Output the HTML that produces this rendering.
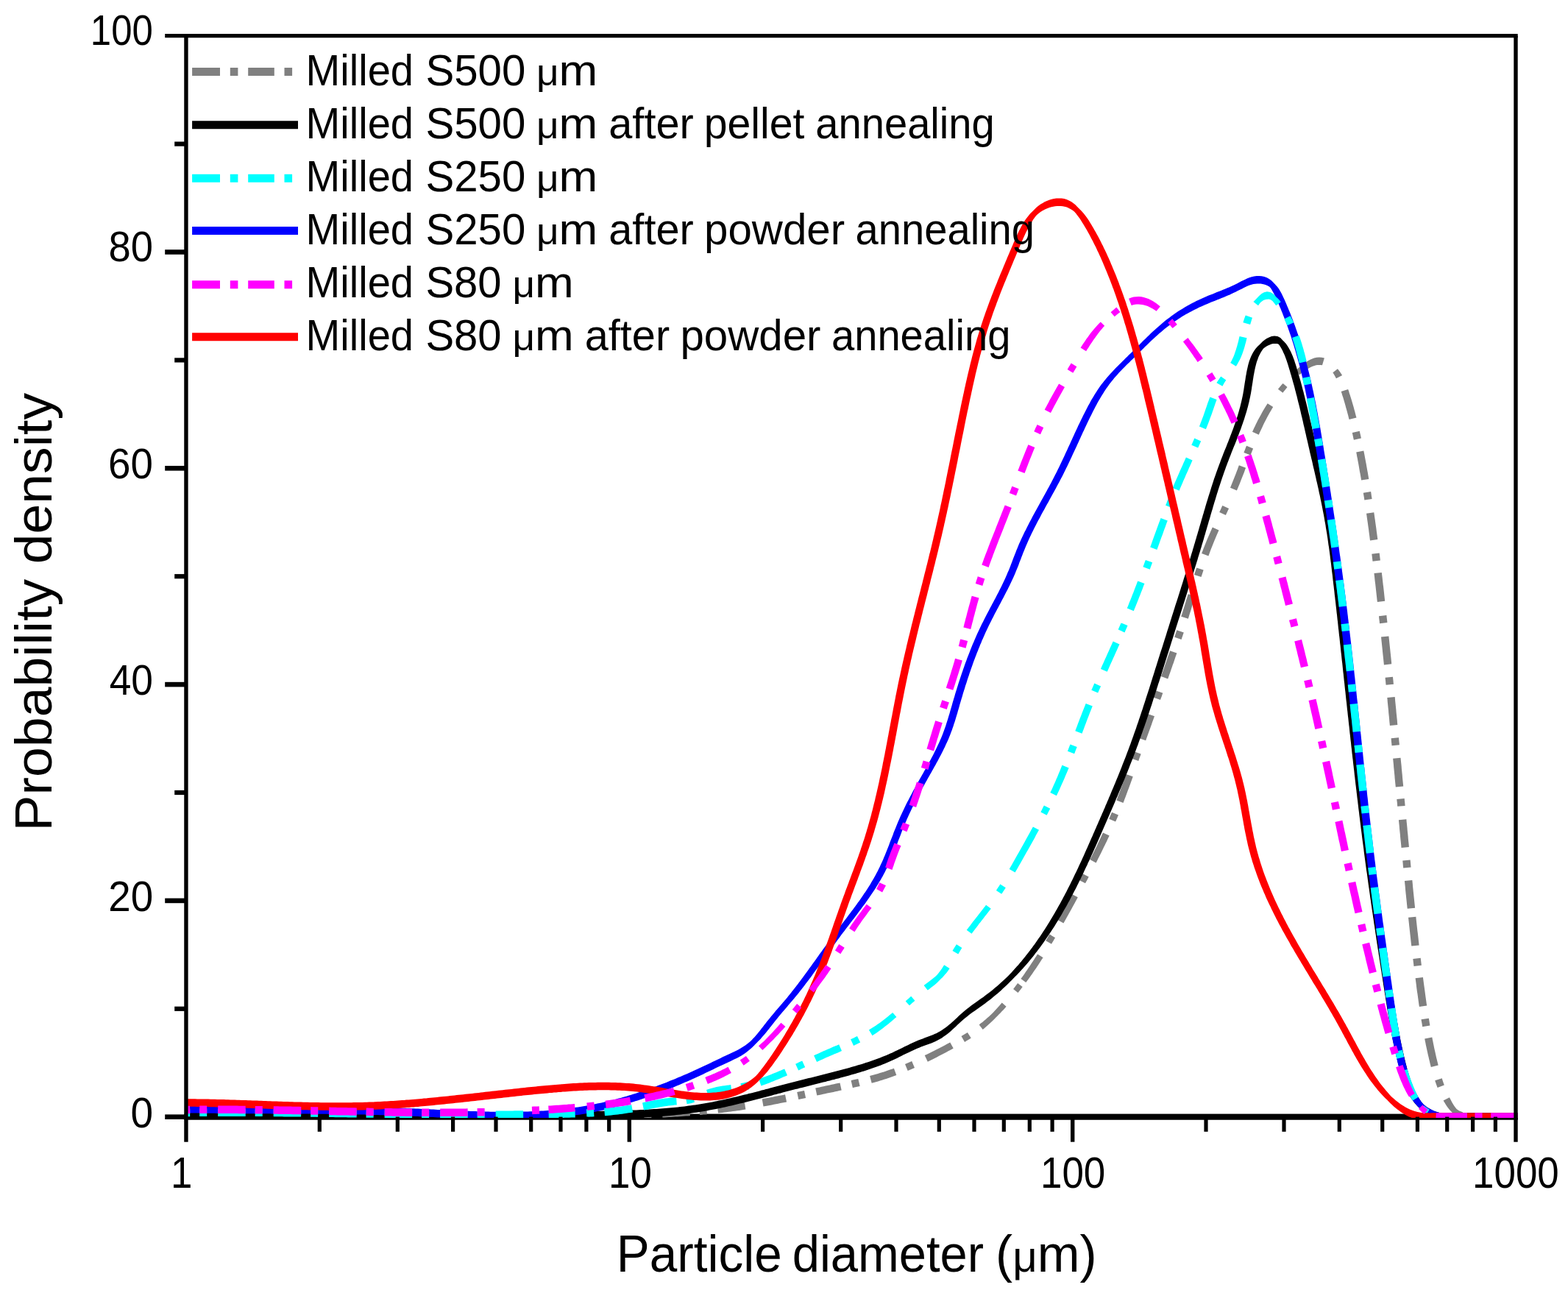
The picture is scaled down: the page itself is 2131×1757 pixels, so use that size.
<!DOCTYPE html>
<html lang="en">
<head>
<meta charset="utf-8">
<title>Particle size distribution</title>
<style>
html,body{margin:0;padding:0;background:#fff;}
body{width:2131px;height:1757px;overflow:hidden;}
svg{display:block;}
text{font-family:"Liberation Sans",Arial,Helvetica,sans-serif;fill:#000;}
.leg{font-size:58.6px;}
.tkx{font-size:58.8px;}
.tky{font-size:57.6px;}
.ttl{font-size:71.0px;}
</style>
</head>
<body>
<svg xmlns="http://www.w3.org/2000/svg" width="2131" height="1757" viewBox="0 0 2131 1757">
<rect width="2131" height="1757" fill="#ffffff"/>
<defs><clipPath id="plotclip"><rect x="250.3" y="46.0" width="1812.2" height="1473.0"/></clipPath></defs>
<rect x="250.25" y="1513.6" width="1812.45" height="7.9" fill="#000"/>
<g clip-path="url(#plotclip)">
<path d="M253.0 1522.3L255.6 1522.2L258.2 1522.2L258.2 1511.7L255.6 1511.7L253.0 1511.8ZM271.2 1522.2L273.7 1522.2L276.2 1522.2L278.7 1522.1L281.2 1522.1L281.2 1511.6L278.7 1511.6L276.2 1511.7L273.7 1511.7L271.2 1511.7ZM296.2 1522.1L299.1 1522.1L302.0 1522.1L304.9 1522.1L307.7 1522.1L310.6 1522.1L313.5 1522.1L316.4 1522.1L319.3 1522.1L322.2 1522.0L325.1 1522.0L327.9 1522.0L330.8 1522.0L333.7 1522.0L333.7 1511.5L330.8 1511.5L327.9 1511.5L325.0 1511.5L322.2 1511.5L319.3 1511.6L316.4 1511.6L313.5 1511.6L310.6 1511.6L307.7 1511.6L304.8 1511.6L302.0 1511.6L299.1 1511.6L296.2 1511.6ZM346.7 1522.0L349.2 1522.0L351.7 1522.0L354.2 1522.0L356.7 1522.0L356.7 1511.5L354.2 1511.5L351.7 1511.5L349.2 1511.5L346.7 1511.5ZM371.7 1522.0L374.6 1522.0L377.5 1522.0L380.3 1522.0L383.2 1522.0L386.1 1522.1L389.0 1522.1L391.9 1522.1L394.8 1522.1L397.7 1522.1L400.5 1522.1L403.4 1522.1L406.3 1522.1L409.2 1522.1L409.2 1511.6L406.3 1511.6L403.4 1511.6L400.6 1511.6L397.7 1511.6L394.8 1511.6L391.9 1511.6L389.0 1511.6L386.1 1511.6L383.2 1511.5L380.4 1511.5L377.5 1511.5L374.6 1511.5L371.7 1511.5ZM422.2 1522.1L424.7 1522.1L427.2 1522.1L429.7 1522.1L432.2 1522.1L432.2 1511.6L429.7 1511.6L427.2 1511.6L424.7 1511.6L422.2 1511.6ZM447.2 1522.2L450.1 1522.2L453.0 1522.2L455.8 1522.2L458.7 1522.2L461.6 1522.2L464.5 1522.2L467.4 1522.2L470.3 1522.2L473.1 1522.2L476.0 1522.2L478.9 1522.2L481.8 1522.2L484.7 1522.3L484.7 1511.8L481.8 1511.7L478.9 1511.7L476.1 1511.7L473.2 1511.7L470.3 1511.7L467.4 1511.7L464.5 1511.7L461.6 1511.7L458.8 1511.7L455.9 1511.7L453.0 1511.7L450.1 1511.7L447.2 1511.7ZM497.7 1522.3L500.2 1522.3L502.7 1522.3L505.2 1522.3L507.7 1522.3L507.7 1511.8L505.2 1511.8L502.7 1511.8L500.2 1511.8L497.7 1511.8ZM522.7 1522.3L525.6 1522.3L528.5 1522.4L531.3 1522.4L534.2 1522.4L537.1 1522.4L540.0 1522.4L542.9 1522.4L545.8 1522.4L548.7 1522.4L551.5 1522.4L554.4 1522.4L557.3 1522.4L560.2 1522.4L560.2 1511.9L557.3 1511.9L554.4 1511.9L551.6 1511.9L548.7 1511.9L545.8 1511.9L542.9 1511.9L540.0 1511.9L537.1 1511.9L534.2 1511.9L531.4 1511.9L528.5 1511.9L525.6 1511.8L522.7 1511.8ZM573.2 1522.4L575.7 1522.4L578.2 1522.4L580.7 1522.4L583.2 1522.4L583.2 1511.9L580.7 1511.9L578.2 1511.9L575.7 1511.9L573.2 1511.9ZM598.2 1522.4L601.1 1522.5L604.0 1522.5L606.9 1522.5L609.7 1522.5L612.6 1522.5L615.5 1522.5L618.4 1522.5L621.3 1522.5L624.2 1522.4L627.0 1522.4L629.9 1522.4L632.8 1522.4L635.7 1522.4L635.7 1511.9L632.8 1511.9L629.9 1511.9L627.0 1511.9L624.2 1511.9L621.3 1512.0L618.4 1512.0L615.5 1512.0L612.6 1512.0L609.7 1512.0L606.9 1512.0L604.0 1512.0L601.1 1512.0L598.2 1511.9ZM648.7 1522.4L651.2 1522.4L653.7 1522.4L656.2 1522.4L658.7 1522.4L658.7 1511.9L656.2 1511.9L653.7 1511.9L651.2 1511.9L648.7 1511.9ZM673.7 1522.4L676.6 1522.4L679.5 1522.3L682.4 1522.3L685.3 1522.3L688.1 1522.3L691.0 1522.3L693.9 1522.3L696.8 1522.3L699.7 1522.3L702.6 1522.3L705.5 1522.2L708.3 1522.2L711.2 1522.2L711.2 1511.7L708.3 1511.7L705.4 1511.7L702.5 1511.8L699.6 1511.8L696.8 1511.8L693.9 1511.8L691.0 1511.8L688.1 1511.8L685.2 1511.8L682.3 1511.8L679.5 1511.8L676.6 1511.9L673.7 1511.9ZM724.2 1522.1L726.7 1522.1L729.2 1522.1L731.7 1522.1L734.2 1522.1L734.2 1511.6L731.7 1511.6L729.2 1511.6L726.7 1511.6L724.2 1511.6ZM749.2 1522.0L752.1 1521.9L755.0 1521.9L757.9 1521.9L760.8 1521.9L763.7 1521.8L766.6 1521.8L769.4 1521.8L772.3 1521.8L775.2 1521.7L778.1 1521.7L781.0 1521.7L783.9 1521.6L786.8 1521.6L786.6 1511.1L783.8 1511.1L780.9 1511.2L778.0 1511.2L775.1 1511.2L772.2 1511.3L769.3 1511.3L766.5 1511.3L763.6 1511.3L760.7 1511.4L757.8 1511.4L754.9 1511.4L752.0 1511.4L749.2 1511.5ZM799.8 1521.5L802.3 1521.4L804.8 1521.4L807.3 1521.4L809.8 1521.3L809.6 1510.8L807.1 1510.9L804.6 1510.9L802.1 1510.9L799.6 1511.0ZM824.8 1521.1L827.7 1521.0L830.6 1521.0L833.5 1520.9L836.3 1520.9L839.2 1520.8L842.1 1520.7L845.0 1520.7L847.9 1520.6L850.8 1520.5L853.7 1520.4L856.6 1520.4L859.5 1520.3L862.3 1520.2L862.0 1509.7L859.1 1509.8L856.3 1509.9L853.4 1509.9L850.5 1510.0L847.6 1510.1L844.8 1510.2L841.9 1510.2L839.0 1510.3L836.1 1510.4L833.2 1510.4L830.4 1510.5L827.5 1510.5L824.6 1510.6ZM875.4 1519.7L877.9 1519.6L880.4 1519.5L882.9 1519.4L885.4 1519.3L884.9 1508.8L882.5 1509.0L880.0 1509.1L877.5 1509.2L875.0 1509.2ZM900.4 1518.6L903.3 1518.5L906.2 1518.3L909.1 1518.1L912.0 1518.0L914.9 1517.8L917.8 1517.6L920.6 1517.4L923.5 1517.2L926.4 1517.1L929.3 1516.8L932.2 1516.6L935.1 1516.4L938.0 1516.2L937.2 1505.8L934.3 1506.0L931.4 1506.2L928.6 1506.4L925.7 1506.6L922.8 1506.8L920.0 1507.0L917.1 1507.2L914.2 1507.3L911.4 1507.5L908.5 1507.7L905.6 1507.8L902.8 1508.0L899.9 1508.1ZM951.0 1515.1L953.5 1514.9L956.0 1514.6L958.5 1514.4L961.0 1514.2L960.0 1503.8L957.5 1504.0L955.0 1504.2L952.5 1504.5L950.1 1504.7ZM976.0 1512.6L978.9 1512.2L981.7 1511.9L984.6 1511.6L987.5 1511.2L990.4 1510.8L993.3 1510.5L996.1 1510.1L999.0 1509.7L1001.9 1509.3L1004.7 1508.9L1007.6 1508.5L1010.5 1508.0L1013.4 1507.6L1011.8 1497.3L1008.9 1497.8L1006.1 1498.2L1003.3 1498.6L1000.4 1499.0L997.6 1499.4L994.8 1499.8L991.9 1500.1L989.1 1500.5L986.2 1500.9L983.4 1501.2L980.5 1501.5L977.7 1501.9L974.8 1502.2ZM1037.5 1503.5L1040.4 1503.0L1043.3 1502.5L1046.2 1501.9L1049.0 1501.4L1051.9 1500.8L1054.8 1500.3L1057.6 1499.7L1060.5 1499.1L1063.4 1498.5L1066.2 1498.0L1069.1 1497.4L1067.0 1487.3L1064.2 1487.9L1061.3 1488.5L1058.5 1489.0L1055.6 1489.6L1052.8 1490.1L1049.9 1490.7L1047.1 1491.2L1044.2 1491.8L1041.4 1492.3L1038.5 1492.8L1035.7 1493.4ZM1085.3 1494.0L1087.8 1493.5L1090.2 1492.9L1092.7 1492.4L1095.1 1491.9L1093.0 1481.9L1090.5 1482.4L1088.1 1482.9L1085.6 1483.4L1083.2 1483.9ZM1110.3 1488.6L1113.1 1488.0L1115.9 1487.4L1118.7 1486.8L1121.4 1486.2L1124.2 1485.6L1127.0 1485.0L1129.8 1484.5L1132.5 1483.9L1135.3 1483.3L1138.1 1482.7L1140.9 1482.1L1143.7 1481.5L1141.5 1471.5L1138.7 1472.1L1136.0 1472.6L1133.2 1473.2L1130.4 1473.8L1127.6 1474.4L1124.9 1475.0L1122.1 1475.6L1119.3 1476.2L1116.5 1476.8L1113.7 1477.4L1111.0 1478.0L1108.2 1478.6ZM1158.9 1478.2L1161.3 1477.6L1163.8 1477.0L1166.2 1476.5L1168.7 1475.9L1166.3 1465.9L1163.9 1466.5L1161.5 1467.1L1159.0 1467.6L1156.6 1468.2ZM1184.7 1471.8L1187.6 1471.0L1190.4 1470.2L1193.2 1469.4L1196.0 1468.5L1198.8 1467.7L1201.6 1466.8L1204.4 1465.9L1207.2 1464.9L1210.0 1464.0L1212.8 1463.0L1215.5 1462.0L1218.3 1461.0L1214.9 1451.7L1212.2 1452.7L1209.5 1453.6L1206.8 1454.6L1204.1 1455.5L1201.4 1456.4L1198.6 1457.2L1195.9 1458.1L1193.1 1458.9L1190.4 1459.7L1187.6 1460.5L1184.9 1461.2L1182.1 1462.0ZM1233.7 1454.9L1236.1 1453.9L1238.4 1452.9L1240.7 1451.9L1243.0 1450.9L1239.2 1442.1L1236.9 1443.1L1234.6 1444.0L1232.3 1445.0L1230.0 1445.9ZM1260.8 1442.7L1263.3 1441.4L1265.9 1440.2L1268.4 1438.9L1270.9 1437.7L1273.4 1436.4L1275.9 1435.1L1278.4 1433.8L1280.9 1432.5L1283.3 1431.2L1285.8 1429.9L1288.3 1428.6L1290.8 1427.3L1293.2 1425.9L1295.7 1424.6L1291.3 1416.5L1288.8 1417.8L1286.4 1419.1L1283.9 1420.4L1281.5 1421.7L1279.0 1423.0L1276.6 1424.3L1274.1 1425.5L1271.6 1426.8L1269.2 1428.0L1266.7 1429.3L1264.2 1430.5L1261.7 1431.7L1259.2 1432.9L1256.7 1434.1ZM1311.1 1415.9L1313.2 1414.5L1315.4 1413.2L1317.6 1411.9L1319.7 1410.5L1314.9 1403.0L1312.8 1404.3L1310.7 1405.6L1308.6 1406.8L1306.5 1408.1ZM1335.7 1398.9L1338.1 1397.0L1340.3 1395.1L1342.6 1393.1L1344.8 1391.1L1347.0 1389.0L1349.1 1387.0L1351.2 1384.9L1353.3 1382.8L1355.4 1380.7L1357.5 1378.6L1359.6 1376.5L1361.6 1374.3L1363.7 1372.2L1365.7 1370.0L1367.6 1367.8L1361.7 1362.6L1359.8 1364.8L1357.9 1367.0L1356.0 1369.1L1354.0 1371.2L1352.1 1373.3L1350.1 1375.4L1348.1 1377.5L1346.0 1379.5L1343.9 1381.4L1341.7 1383.3L1339.6 1385.2L1337.4 1387.1L1335.2 1388.9L1332.9 1390.6L1330.7 1392.4ZM1383.5 1349.0L1385.1 1347.1L1386.7 1345.1L1388.2 1343.1L1389.7 1341.1L1383.1 1336.0L1381.6 1338.0L1380.1 1340.0L1378.6 1342.0L1377.1 1343.9ZM1394.3 1335.1L1396.0 1332.7L1397.7 1330.4L1399.5 1328.0L1401.2 1325.6L1402.9 1323.2L1404.5 1320.7L1406.2 1318.3L1407.9 1315.9L1409.5 1313.5L1411.2 1311.0L1412.8 1308.6L1414.4 1306.1L1416.0 1303.6L1417.6 1301.2L1410.1 1296.4L1408.5 1298.9L1407.0 1301.3L1405.4 1303.8L1403.8 1306.2L1402.2 1308.6L1400.6 1311.0L1399.0 1313.4L1397.4 1315.8L1395.8 1318.2L1394.1 1320.6L1392.5 1323.0L1390.8 1325.4L1389.1 1327.7L1387.4 1330.1ZM1429.0 1282.8L1430.3 1280.6L1431.6 1278.5L1432.8 1276.3L1434.1 1274.2L1426.3 1269.6L1425.0 1271.7L1423.8 1273.9L1422.5 1276.0L1421.2 1278.2ZM1445.4 1254.5L1446.8 1252.0L1448.2 1249.5L1449.6 1247.0L1451.0 1244.5L1452.4 1242.0L1453.8 1239.5L1455.2 1237.0L1456.6 1234.4L1457.9 1231.9L1459.3 1229.4L1460.7 1226.9L1462.0 1224.4L1463.4 1221.9L1464.8 1219.3L1456.7 1214.9L1455.3 1217.5L1453.9 1220.0L1452.6 1222.5L1451.2 1225.0L1449.8 1227.5L1448.5 1230.0L1447.1 1232.5L1445.7 1235.0L1444.3 1237.6L1443.0 1240.1L1441.6 1242.6L1440.2 1245.1L1438.8 1247.6L1437.4 1250.1ZM1475.0 1200.3L1476.2 1198.1L1477.4 1195.9L1478.5 1193.7L1479.7 1191.5L1471.5 1187.2L1470.3 1189.4L1469.2 1191.6L1468.0 1193.8L1466.8 1196.0ZM1489.6 1172.4L1491.0 1169.7L1492.3 1167.1L1493.6 1164.5L1494.9 1161.9L1496.3 1159.3L1497.6 1156.6L1498.8 1154.0L1500.1 1151.3L1501.4 1148.7L1502.7 1146.1L1504.0 1143.4L1505.2 1140.7L1506.5 1138.1L1507.7 1135.4L1499.0 1131.4L1497.8 1134.1L1496.6 1136.7L1495.4 1139.3L1494.1 1142.0L1492.9 1144.6L1491.6 1147.2L1490.4 1149.9L1489.1 1152.5L1487.8 1155.1L1486.5 1157.7L1485.2 1160.3L1483.9 1162.9L1482.6 1165.5L1481.3 1168.1ZM1516.1 1116.6L1517.1 1114.3L1518.1 1112.0L1519.0 1109.7L1520.0 1107.4L1511.0 1103.7L1510.1 1106.0L1509.1 1108.3L1508.2 1110.6L1507.2 1112.8ZM1526.5 1091.0L1527.6 1088.3L1528.6 1085.6L1529.7 1082.8L1530.7 1080.1L1531.7 1077.3L1532.7 1074.6L1533.8 1071.8L1534.8 1069.0L1535.8 1066.3L1536.8 1063.5L1537.8 1060.8L1538.8 1058.0L1539.7 1055.3L1530.4 1051.9L1529.4 1054.7L1528.5 1057.4L1527.5 1060.2L1526.5 1062.9L1525.5 1065.7L1524.5 1068.4L1523.5 1071.1L1522.5 1073.9L1521.5 1076.6L1520.5 1079.3L1519.4 1082.1L1518.4 1084.8L1517.4 1087.5ZM1547.3 1034.0L1548.1 1031.6L1548.9 1029.3L1549.8 1026.9L1550.6 1024.6L1541.3 1021.3L1540.4 1023.6L1539.6 1026.0L1538.8 1028.3L1537.9 1030.7ZM1557.2 1006.2L1558.1 1003.5L1559.1 1000.7L1560.1 998.0L1561.1 995.2L1562.1 992.5L1563.1 989.7L1564.1 987.0L1565.1 984.2L1566.0 981.5L1567.0 978.7L1568.0 976.0L1569.0 973.3L1559.7 969.9L1558.7 972.7L1557.7 975.4L1556.8 978.1L1555.8 980.9L1554.8 983.6L1553.8 986.4L1552.8 989.1L1551.8 991.9L1550.8 994.6L1549.8 997.4L1548.8 1000.1L1547.9 1002.9ZM1577.0 951.1L1577.8 948.8L1578.7 946.4L1579.5 944.1L1580.4 941.7L1571.0 938.4L1570.2 940.7L1569.4 943.1L1568.5 945.5L1567.7 947.8ZM1587.2 922.4L1588.2 919.7L1589.1 917.0L1590.1 914.3L1591.0 911.7L1591.9 909.0L1592.9 906.3L1593.8 903.6L1594.8 900.9L1595.7 898.2L1596.6 895.5L1597.5 892.8L1598.5 890.1L1599.4 887.4L1590.0 884.2L1589.1 886.9L1588.2 889.6L1587.2 892.3L1586.3 895.0L1585.4 897.6L1584.5 900.3L1583.5 903.0L1582.6 905.7L1581.7 908.4L1580.7 911.1L1579.8 913.7L1578.8 916.4L1577.9 919.1ZM1605.6 868.9L1606.4 866.5L1607.2 864.2L1608.0 861.8L1608.8 859.4L1599.3 856.3L1598.5 858.7L1597.7 861.0L1597.0 863.4L1596.2 865.8ZM1614.8 840.8L1615.7 838.0L1616.5 835.3L1617.4 832.5L1618.3 829.7L1619.1 826.9L1620.0 824.1L1620.9 821.3L1621.7 818.6L1622.6 815.8L1623.4 813.0L1624.3 810.2L1614.7 807.3L1613.9 810.0L1613.0 812.8L1612.1 815.6L1611.3 818.4L1610.4 821.2L1609.6 823.9L1608.7 826.7L1607.8 829.5L1607.0 832.3L1606.1 835.0L1605.2 837.8ZM1632.5 784.1L1633.3 781.7L1634.1 779.3L1634.9 777.0L1635.6 774.6L1626.2 771.4L1625.4 773.8L1624.6 776.2L1623.8 778.6L1623.0 781.0ZM1642.4 755.4L1643.4 752.7L1644.4 750.0L1645.4 747.3L1646.5 744.6L1647.5 741.9L1648.6 739.2L1649.7 736.5L1650.8 733.8L1651.9 731.2L1653.0 728.5L1654.2 725.8L1655.3 723.2L1656.5 720.5L1647.8 716.6L1646.6 719.3L1645.4 722.0L1644.2 724.7L1643.0 727.4L1641.9 730.1L1640.7 732.8L1639.6 735.5L1638.5 738.3L1637.4 741.0L1636.3 743.7L1635.2 746.5L1634.2 749.2L1633.1 752.0ZM1665.9 700.0L1666.9 697.7L1668.0 695.5L1669.0 693.2L1670.1 690.9L1661.4 686.9L1660.3 689.2L1659.3 691.5L1658.3 693.7L1657.2 696.0ZM1680.9 666.6L1682.1 663.8L1683.2 661.0L1684.4 658.2L1685.5 655.4L1686.6 652.6L1687.7 649.8L1688.8 647.0L1689.9 644.2L1691.0 641.4L1692.0 638.6L1693.1 635.8L1683.9 632.3L1682.8 635.1L1681.8 637.9L1680.7 640.7L1679.7 643.5L1678.6 646.3L1677.5 649.0L1676.4 651.8L1675.3 654.6L1674.2 657.3L1673.1 660.1L1672.0 662.8ZM1699.6 618.6L1700.4 616.3L1701.3 614.0L1702.2 611.7L1703.1 609.4L1694.1 605.8L1693.1 608.1L1692.2 610.4L1691.3 612.8L1690.4 615.1ZM1710.8 590.7L1711.9 588.1L1713.1 585.5L1714.3 583.0L1715.5 580.4L1716.7 577.8L1717.9 575.3L1719.2 572.8L1720.5 570.3L1721.8 567.8L1723.1 565.3L1724.5 562.8L1725.9 560.3L1727.3 557.9L1728.7 555.5L1730.2 553.1L1722.7 548.3L1721.1 550.8L1719.5 553.3L1718.0 555.8L1716.5 558.3L1715.1 560.8L1713.7 563.4L1712.3 565.9L1710.9 568.5L1709.5 571.1L1708.2 573.7L1706.9 576.3L1705.7 578.9L1704.4 581.5L1703.2 584.2L1702.0 586.8ZM1743.4 533.8L1744.9 531.8L1746.4 529.9L1748.0 528.0L1749.5 526.1L1743.6 520.9L1741.9 522.8L1740.2 524.8L1738.6 526.7L1736.9 528.7ZM1766.2 509.4L1768.3 507.6L1770.5 505.9L1772.6 504.3L1774.9 502.7L1777.1 501.2L1779.4 499.9L1781.7 498.7L1784.0 497.7L1786.3 496.9L1788.6 496.3L1790.8 496.0L1792.9 495.9L1795.0 496.0L1797.0 496.3L1799.9 486.6L1796.4 485.7L1792.8 485.4L1789.3 485.7L1786.0 486.5L1782.9 487.7L1780.0 489.1L1777.3 490.6L1774.7 492.3L1772.2 494.1L1769.8 495.9L1767.5 497.7L1765.3 499.6L1763.1 501.5L1761.0 503.5ZM1811.4 506.3L1812.6 508.2L1813.8 510.2L1814.9 512.2L1815.9 514.3L1824.1 510.0L1822.7 507.7L1821.2 505.4L1819.6 503.3L1817.9 501.2ZM1822.7 532.0L1823.6 534.7L1824.4 537.4L1825.3 540.1L1826.1 542.8L1826.9 545.5L1827.7 548.2L1828.5 551.0L1829.2 553.7L1830.0 556.4L1830.7 559.1L1831.5 561.9L1832.2 564.6L1832.9 567.4L1833.6 570.1L1843.5 567.6L1842.7 564.8L1842.0 562.1L1841.3 559.3L1840.5 556.5L1839.8 553.7L1839.0 550.9L1838.2 548.2L1837.4 545.4L1836.5 542.6L1835.7 539.9L1834.8 537.1L1833.9 534.4L1833.1 531.6L1832.1 528.9ZM1837.8 588.0L1838.3 590.4L1838.8 592.8L1839.3 595.3L1839.9 597.7L1849.9 595.6L1849.4 593.1L1848.9 590.7L1848.3 588.2L1847.8 585.8ZM1843.2 614.6L1843.8 617.5L1844.3 620.4L1844.9 623.3L1845.4 626.2L1846.0 629.2L1846.5 632.1L1847.0 635.0L1847.5 637.9L1848.0 640.9L1848.6 643.8L1849.1 646.7L1849.6 649.6L1850.0 652.6L1860.3 650.9L1859.8 647.9L1859.3 645.0L1858.8 642.0L1858.2 639.1L1857.7 636.1L1857.2 633.2L1856.7 630.2L1856.1 627.3L1855.6 624.4L1855.0 621.4L1854.5 618.5L1853.9 615.5L1853.3 612.6ZM1852.8 669.7L1853.2 672.2L1853.6 674.6L1854.0 677.1L1854.3 679.6L1864.6 678.0L1864.2 675.5L1863.8 673.0L1863.5 670.6L1863.1 668.1ZM1857.0 697.8L1857.4 700.6L1857.8 703.4L1858.2 706.2L1858.6 709.0L1859.0 711.8L1859.4 714.7L1859.8 717.5L1860.2 720.3L1860.5 723.1L1860.9 725.9L1861.3 728.7L1861.6 731.6L1862.0 734.4L1872.3 733.1L1872.0 730.2L1871.6 727.4L1871.2 724.6L1870.8 721.7L1870.5 718.9L1870.1 716.1L1869.7 713.3L1869.3 710.4L1868.9 707.6L1868.5 704.8L1868.1 702.0L1867.7 699.1L1867.3 696.3ZM1864.3 752.8L1864.6 755.2L1864.9 757.7L1865.2 760.2L1865.5 762.7L1875.9 761.4L1875.6 758.9L1875.3 756.5L1875.0 754.0L1874.7 751.5ZM1867.5 779.1L1867.8 781.9L1868.1 784.6L1868.4 787.4L1868.7 790.2L1869.1 792.9L1869.4 795.7L1869.7 798.5L1870.0 801.2L1870.3 804.0L1870.6 806.8L1870.9 809.6L1871.2 812.3L1871.5 815.1L1871.9 817.9L1882.2 816.7L1881.9 813.9L1881.6 811.2L1881.3 808.4L1881.0 805.6L1880.7 802.8L1880.4 800.1L1880.1 797.3L1879.7 794.5L1879.4 791.7L1879.1 789.0L1878.8 786.2L1878.5 783.4L1878.1 780.6L1877.8 777.9ZM1874.0 837.3L1874.2 839.8L1874.5 842.2L1874.8 844.7L1875.0 847.2L1885.4 846.1L1885.2 843.6L1884.9 841.1L1884.6 838.6L1884.4 836.1ZM1877.0 865.6L1877.3 868.5L1877.6 871.4L1877.9 874.3L1878.2 877.2L1878.5 880.1L1878.8 883.0L1879.1 885.9L1879.4 888.9L1879.7 891.8L1880.0 894.7L1880.3 897.6L1880.6 900.5L1880.9 903.4L1891.2 902.3L1891.0 899.4L1890.7 896.5L1890.4 893.6L1890.1 890.7L1889.8 887.8L1889.5 884.9L1889.2 882.0L1888.9 879.1L1888.6 876.2L1888.3 873.2L1888.0 870.3L1887.7 867.4L1887.4 864.5ZM1882.6 920.8L1882.8 923.3L1883.1 925.8L1883.3 928.2L1883.6 930.7L1894.0 929.7L1893.7 927.2L1893.5 924.7L1893.2 922.2L1893.0 919.8ZM1885.3 948.1L1885.6 951.0L1885.8 953.9L1886.1 956.8L1886.4 959.7L1886.7 962.7L1887.0 965.6L1887.2 968.5L1887.5 971.4L1887.8 974.3L1888.1 977.2L1888.3 980.1L1888.6 983.0L1888.9 985.9L1899.3 984.9L1899.0 982.0L1898.8 979.1L1898.5 976.2L1898.2 973.3L1897.9 970.4L1897.6 967.5L1897.4 964.6L1897.1 961.7L1896.8 958.7L1896.5 955.8L1896.2 952.9L1896.0 950.0L1895.7 947.1ZM1890.6 1003.3L1890.8 1005.8L1891.0 1008.3L1891.3 1010.8L1891.5 1013.3L1901.9 1012.3L1901.7 1009.8L1901.4 1007.3L1901.2 1004.8L1901.0 1002.3ZM1893.1 1030.7L1893.4 1033.6L1893.7 1036.6L1894.0 1039.6L1894.2 1042.6L1894.5 1045.6L1894.8 1048.6L1895.1 1051.5L1895.4 1054.5L1895.6 1057.5L1895.9 1060.5L1896.2 1063.5L1896.5 1066.5L1896.8 1069.5L1907.2 1068.5L1906.9 1065.5L1906.6 1062.5L1906.3 1059.5L1906.0 1056.5L1905.8 1053.6L1905.5 1050.6L1905.2 1047.6L1904.9 1044.6L1904.7 1041.6L1904.4 1038.6L1904.1 1035.7L1903.8 1032.7L1903.5 1029.7ZM1898.3 1085.9L1898.5 1088.4L1898.8 1090.8L1899.0 1093.3L1899.2 1095.8L1909.6 1094.9L1909.4 1092.4L1909.2 1089.9L1908.9 1087.4L1908.7 1084.9ZM1900.9 1114.2L1901.2 1117.2L1901.5 1120.1L1901.8 1123.0L1902.0 1125.9L1902.3 1128.8L1902.6 1131.7L1902.9 1134.6L1903.1 1137.5L1903.4 1140.4L1903.7 1143.3L1904.0 1146.3L1904.3 1149.2L1904.5 1152.1L1914.9 1151.1L1914.7 1148.2L1914.4 1145.3L1914.1 1142.4L1913.8 1139.4L1913.6 1136.5L1913.3 1133.6L1913.0 1130.7L1912.7 1127.8L1912.5 1124.9L1912.2 1122.0L1911.9 1119.1L1911.6 1116.2L1911.4 1113.3ZM1906.2 1169.5L1906.5 1172.0L1906.7 1174.5L1906.9 1177.0L1907.2 1179.5L1917.6 1178.5L1917.3 1176.0L1917.1 1173.5L1916.9 1171.0L1916.6 1168.5ZM1908.9 1196.9L1909.2 1199.8L1909.5 1202.8L1909.8 1205.7L1910.0 1208.6L1910.3 1211.5L1910.6 1214.4L1910.9 1217.3L1911.2 1220.2L1911.5 1223.1L1911.8 1226.1L1912.1 1229.0L1912.4 1231.9L1912.7 1234.8L1923.1 1233.7L1922.8 1230.8L1922.5 1227.9L1922.2 1225.0L1921.9 1222.1L1921.6 1219.2L1921.3 1216.3L1921.0 1213.4L1920.7 1210.4L1920.4 1207.5L1920.1 1204.6L1919.9 1201.7L1919.6 1198.8L1919.3 1195.9ZM1914.0 1246.8L1914.3 1249.5L1914.6 1252.3L1914.9 1255.1L1915.2 1257.9L1915.5 1260.6L1915.8 1263.4L1916.1 1266.2L1916.4 1269.0L1916.7 1271.7L1917.0 1274.5L1917.3 1277.3L1917.6 1280.1L1917.9 1282.8L1918.3 1285.6L1928.6 1284.4L1928.3 1281.6L1928.0 1278.9L1927.7 1276.1L1927.4 1273.3L1927.1 1270.6L1926.8 1267.8L1926.4 1265.0L1926.1 1262.3L1925.8 1259.5L1925.5 1256.7L1925.2 1254.0L1924.9 1251.2L1924.6 1248.4L1924.4 1245.7ZM1920.3 1303.0L1920.6 1305.5L1920.9 1308.0L1921.2 1310.5L1921.5 1313.0L1931.9 1311.7L1931.6 1309.2L1931.3 1306.7L1931.0 1304.2L1930.7 1301.8ZM1923.6 1329.3L1924.0 1332.3L1924.4 1335.3L1924.8 1338.3L1925.1 1341.2L1925.5 1344.2L1925.9 1347.2L1926.4 1350.2L1926.8 1353.1L1927.2 1356.1L1927.6 1359.1L1928.0 1362.1L1928.4 1365.0L1928.9 1368.0L1939.2 1366.5L1938.7 1363.5L1938.3 1360.6L1937.9 1357.6L1937.5 1354.7L1937.1 1351.7L1936.7 1348.8L1936.3 1345.8L1935.9 1342.8L1935.5 1339.9L1935.1 1336.9L1934.7 1333.9L1934.3 1331.0L1933.9 1328.0ZM1931.5 1385.3L1931.9 1387.8L1932.4 1390.3L1932.8 1392.8L1933.2 1395.2L1943.4 1393.5L1943.0 1391.0L1942.6 1388.6L1942.2 1386.1L1941.8 1383.7ZM1936.2 1411.5L1936.7 1414.3L1937.3 1417.1L1937.8 1419.8L1938.4 1422.6L1939.0 1425.3L1939.6 1428.1L1940.2 1430.8L1940.8 1433.6L1941.5 1436.3L1942.1 1439.1L1942.8 1441.8L1943.4 1444.6L1944.1 1447.3L1944.8 1450.0L1954.7 1447.5L1954.0 1444.8L1953.3 1442.1L1952.7 1439.4L1952.0 1436.7L1951.4 1434.0L1950.8 1431.3L1950.2 1428.6L1949.6 1425.9L1949.0 1423.2L1948.5 1420.5L1947.9 1417.8L1947.4 1415.0L1946.8 1412.3L1946.3 1409.6ZM1950.2 1468.3L1951.0 1470.7L1951.8 1473.1L1952.7 1475.5L1953.6 1477.9L1962.8 1474.5L1962.0 1472.2L1961.2 1469.9L1960.4 1467.6L1959.7 1465.2ZM1961.6 1495.5L1963.1 1498.1L1964.6 1500.6L1966.2 1503.1L1968.0 1505.6L1970.0 1508.0L1972.1 1510.3L1974.4 1512.4L1976.6 1514.8L1979.0 1517.0L1981.7 1518.9L1984.7 1520.5L1988.2 1511.4L1986.0 1510.6L1983.8 1509.7L1981.7 1508.5L1979.6 1507.0L1978.0 1505.0L1976.5 1502.9L1975.1 1500.7L1973.7 1498.4L1972.4 1496.0L1971.1 1493.6L1969.9 1491.2Z" fill="#808080"/>
<path d="M253.0 1521.3L256.0 1521.2L259.0 1521.2L262.0 1521.2L265.0 1521.2L268.0 1521.2L271.0 1521.2L274.0 1521.2L277.0 1521.2L280.0 1521.1L283.0 1521.1L286.0 1521.1L289.0 1521.1L292.0 1521.1L295.0 1521.1L298.0 1521.1L301.0 1521.1L304.0 1521.1L307.0 1521.1L310.0 1521.1L313.0 1521.1L316.0 1521.1L319.0 1521.1L322.0 1521.1L325.0 1521.1L328.0 1521.1L331.0 1521.1L334.0 1521.1L337.0 1521.1L340.0 1521.1L343.0 1521.1L346.0 1521.1L349.0 1521.1L352.0 1521.1L355.0 1521.1L358.0 1521.1L361.0 1521.2L364.0 1521.2L367.0 1521.2L370.0 1521.2L373.0 1521.2L376.0 1521.2L379.0 1521.2L382.0 1521.2L385.0 1521.2L388.0 1521.2L391.0 1521.3L394.0 1521.3L397.0 1521.3L400.0 1521.3L403.0 1521.3L406.0 1521.3L409.0 1521.3L412.0 1521.3L415.0 1521.4L418.0 1521.4L421.0 1521.4L424.0 1521.4L427.0 1521.4L430.0 1521.4L433.0 1521.4L436.0 1521.5L439.0 1521.5L442.0 1521.5L445.0 1521.5L448.0 1521.5L451.0 1521.5L454.0 1521.5L457.0 1521.6L460.0 1521.6L463.0 1521.6L466.0 1521.6L469.0 1521.6L472.0 1521.6L475.0 1521.7L478.0 1521.7L481.0 1521.7L484.0 1521.7L487.0 1521.7L490.0 1521.7L493.0 1521.8L496.0 1521.8L499.0 1521.8L502.0 1521.8L505.0 1521.8L508.0 1521.8L511.0 1521.8L514.0 1521.9L517.0 1521.9L520.0 1521.9L523.0 1521.9L526.0 1521.9L529.0 1521.9L532.0 1521.9L535.0 1522.0L538.0 1522.0L541.0 1522.0L544.0 1522.0L547.0 1522.0L550.0 1522.0L553.0 1522.0L556.0 1522.0L559.0 1522.0L562.0 1522.1L565.0 1522.1L568.0 1522.1L571.0 1522.1L574.0 1522.1L577.0 1522.1L580.0 1522.1L583.0 1522.1L586.0 1522.1L589.0 1522.1L592.0 1522.1L595.0 1522.1L598.0 1522.1L601.0 1522.1L604.0 1522.1L607.0 1522.2L610.0 1522.2L613.0 1522.2L616.0 1522.2L619.0 1522.2L622.0 1522.2L625.0 1522.2L628.0 1522.2L631.0 1522.2L634.0 1522.2L637.0 1522.1L640.0 1522.1L643.0 1522.1L646.0 1522.1L649.0 1522.1L652.0 1522.1L655.0 1522.1L658.0 1522.1L661.0 1522.1L664.0 1522.1L667.0 1522.1L670.0 1522.1L673.0 1522.1L676.0 1522.0L679.0 1522.0L682.0 1522.0L685.0 1522.0L688.0 1522.0L691.0 1522.0L694.0 1521.9L697.0 1521.9L700.0 1521.9L703.0 1521.9L706.0 1521.9L709.0 1521.8L712.0 1521.8L715.0 1521.8L718.0 1521.8L721.0 1521.7L724.0 1521.7L727.0 1521.7L730.0 1521.6L733.0 1521.6L736.0 1521.6L739.0 1521.6L742.0 1521.5L745.0 1521.5L748.1 1521.4L751.1 1521.4L754.1 1521.4L757.1 1521.3L760.1 1521.3L763.1 1521.2L766.1 1521.2L769.1 1521.2L772.1 1521.1L775.1 1521.1L778.1 1521.0L781.1 1521.0L784.1 1520.9L787.1 1520.9L790.1 1520.8L793.1 1520.7L796.1 1520.7L799.1 1520.6L802.1 1520.6L805.1 1520.5L808.1 1520.5L811.1 1520.4L814.1 1520.3L817.1 1520.3L820.1 1520.2L823.1 1520.1L826.1 1520.0L829.1 1520.0L832.1 1519.9L835.1 1519.8L838.1 1519.7L841.1 1519.7L844.1 1519.6L847.1 1519.5L850.1 1519.4L853.1 1519.3L856.1 1519.2L859.2 1519.1L862.2 1519.0L865.2 1518.8L868.2 1518.7L871.2 1518.6L874.2 1518.4L877.2 1518.3L880.2 1518.1L883.2 1518.0L886.2 1517.8L889.3 1517.6L892.3 1517.4L895.3 1517.2L898.3 1517.0L901.3 1516.7L904.3 1516.5L907.3 1516.2L910.3 1516.0L913.3 1515.7L916.3 1515.4L919.4 1515.1L922.4 1514.8L925.4 1514.4L928.4 1514.1L931.4 1513.7L934.4 1513.4L937.4 1513.0L940.4 1512.6L943.4 1512.1L946.4 1511.7L949.4 1511.2L952.4 1510.7L955.3 1510.2L958.3 1509.7L961.3 1509.2L964.3 1508.6L967.3 1508.1L970.2 1507.5L973.2 1506.9L976.2 1506.3L979.1 1505.7L982.1 1505.1L985.0 1504.4L988.0 1503.8L990.9 1503.1L993.9 1502.4L996.8 1501.7L999.7 1501.0L1002.7 1500.3L1005.6 1499.6L1008.5 1498.9L1011.4 1498.2L1014.4 1497.5L1017.3 1496.7L1020.2 1496.0L1023.1 1495.3L1026.0 1494.5L1028.9 1493.7L1031.9 1493.0L1034.8 1492.2L1037.7 1491.5L1040.6 1490.7L1043.5 1489.9L1046.4 1489.2L1049.3 1488.4L1052.2 1487.6L1055.1 1486.9L1058.0 1486.1L1060.9 1485.4L1063.8 1484.6L1066.7 1483.8L1069.6 1483.1L1072.5 1482.3L1075.4 1481.6L1078.3 1480.8L1081.2 1480.1L1084.1 1479.4L1087.0 1478.6L1089.9 1477.9L1092.8 1477.2L1095.7 1476.4L1098.6 1475.7L1101.5 1475.0L1104.4 1474.3L1107.3 1473.5L1110.2 1472.8L1113.2 1472.1L1116.1 1471.3L1119.0 1470.6L1121.9 1469.9L1124.8 1469.1L1127.7 1468.4L1130.6 1467.6L1133.6 1466.9L1136.5 1466.1L1139.4 1465.4L1142.3 1464.6L1145.2 1463.8L1148.1 1463.0L1151.0 1462.2L1153.9 1461.4L1156.8 1460.6L1159.7 1459.8L1162.6 1458.9L1165.5 1458.1L1168.4 1457.2L1171.3 1456.3L1174.2 1455.4L1177.1 1454.5L1180.0 1453.6L1182.9 1452.6L1185.7 1451.6L1188.6 1450.6L1191.5 1449.6L1194.3 1448.5L1197.2 1447.4L1200.0 1446.3L1202.8 1445.2L1205.6 1444.0L1208.4 1442.8L1211.2 1441.6L1214.0 1440.3L1216.8 1439.0L1219.5 1437.7L1222.2 1436.3L1224.9 1435.0L1227.6 1433.6L1230.3 1432.3L1233.0 1431.0L1235.7 1429.7L1238.3 1428.4L1241.0 1427.2L1243.7 1426.0L1246.4 1424.8L1249.1 1423.7L1251.8 1422.6L1254.6 1421.6L1257.3 1420.6L1260.2 1419.6L1263.0 1418.5L1265.9 1417.4L1268.7 1416.3L1271.6 1415.0L1274.4 1413.6L1277.2 1412.1L1280.0 1410.4L1282.6 1408.6L1285.2 1406.8L1287.6 1404.9L1290.1 1402.9L1292.4 1400.9L1294.7 1398.8L1297.0 1396.8L1299.2 1394.7L1301.4 1392.6L1303.6 1390.6L1305.8 1388.6L1308.0 1386.6L1310.3 1384.6L1312.5 1382.7L1314.8 1380.9L1317.1 1379.1L1319.4 1377.3L1321.8 1375.6L1324.2 1373.9L1326.6 1372.2L1329.1 1370.5L1331.5 1368.7L1334.0 1367.0L1336.4 1365.3L1338.9 1363.5L1341.3 1361.6L1343.7 1359.8L1346.1 1357.9L1348.5 1356.0L1350.8 1354.1L1353.2 1352.1L1355.5 1350.2L1357.8 1348.2L1360.1 1346.2L1362.3 1344.1L1364.5 1342.0L1366.7 1340.0L1368.9 1337.9L1371.1 1335.7L1373.3 1333.6L1375.4 1331.4L1377.5 1329.3L1379.7 1327.1L1381.8 1325.0L1383.9 1322.8L1386.0 1320.6L1388.0 1318.3L1390.1 1316.1L1392.1 1313.8L1394.1 1311.5L1396.1 1309.2L1398.0 1306.9L1400.0 1304.6L1401.9 1302.3L1403.8 1299.9L1405.7 1297.5L1407.5 1295.1L1409.4 1292.7L1411.2 1290.3L1413.0 1287.9L1414.8 1285.5L1416.6 1283.0L1418.4 1280.5L1420.1 1278.1L1421.8 1275.6L1423.5 1273.1L1425.2 1270.6L1426.9 1268.1L1428.6 1265.5L1430.2 1263.0L1431.9 1260.4L1433.5 1257.9L1435.1 1255.3L1436.7 1252.7L1438.2 1250.2L1439.8 1247.6L1441.4 1245.0L1442.9 1242.4L1444.4 1239.8L1445.9 1237.1L1447.4 1234.5L1448.9 1231.9L1450.4 1229.2L1451.8 1226.6L1453.3 1223.9L1454.7 1221.3L1456.1 1218.6L1457.5 1216.0L1458.9 1213.3L1460.3 1210.6L1461.7 1207.9L1463.1 1205.2L1464.4 1202.5L1465.8 1199.8L1467.1 1197.1L1468.4 1194.4L1469.7 1191.7L1471.1 1189.0L1472.4 1186.3L1473.6 1183.6L1474.9 1180.8L1476.2 1178.1L1477.5 1175.4L1478.7 1172.6L1480.0 1169.9L1481.3 1167.2L1482.5 1164.4L1483.7 1161.7L1485.0 1159.0L1486.2 1156.2L1487.4 1153.5L1488.7 1150.7L1489.9 1148.0L1491.1 1145.2L1492.3 1142.5L1493.5 1139.7L1494.7 1137.0L1495.9 1134.2L1497.1 1131.5L1498.3 1128.7L1499.5 1126.0L1500.7 1123.2L1501.9 1120.5L1503.1 1117.7L1504.3 1115.0L1505.5 1112.2L1506.7 1109.5L1507.9 1106.7L1509.1 1104.0L1510.3 1101.2L1511.5 1098.4L1512.7 1095.7L1513.9 1092.9L1515.1 1090.2L1516.2 1087.4L1517.4 1084.6L1518.6 1081.9L1519.8 1079.1L1520.9 1076.3L1522.1 1073.6L1523.3 1070.8L1524.4 1068.0L1525.6 1065.2L1526.7 1062.5L1527.9 1059.7L1529.0 1056.9L1530.1 1054.1L1531.3 1051.3L1532.4 1048.5L1533.5 1045.7L1534.6 1042.9L1535.7 1040.1L1536.8 1037.3L1537.9 1034.5L1539.0 1031.7L1540.1 1028.9L1541.2 1026.1L1542.3 1023.3L1543.3 1020.5L1544.4 1017.6L1545.4 1014.8L1546.5 1012.0L1547.5 1009.1L1548.5 1006.3L1549.5 1003.5L1550.5 1000.6L1551.5 997.8L1552.5 995.0L1553.5 992.1L1554.5 989.3L1555.5 986.4L1556.5 983.6L1557.5 980.7L1558.4 977.9L1559.4 975.0L1560.3 972.2L1561.3 969.3L1562.2 966.5L1563.2 963.6L1564.1 960.8L1565.1 957.9L1566.0 955.1L1566.9 952.2L1567.8 949.3L1568.8 946.5L1569.7 943.6L1570.6 940.8L1571.5 937.9L1572.4 935.0L1573.3 932.2L1574.2 929.3L1575.2 926.5L1576.1 923.6L1577.0 920.7L1577.9 917.9L1578.8 915.0L1579.7 912.2L1580.6 909.3L1581.5 906.4L1582.4 903.6L1583.3 900.7L1584.2 897.8L1585.1 895.0L1586.0 892.1L1586.9 889.3L1587.8 886.4L1588.7 883.5L1589.6 880.7L1590.5 877.8L1591.4 875.0L1592.3 872.1L1593.2 869.2L1594.1 866.4L1595.0 863.5L1595.9 860.7L1596.8 857.8L1597.7 854.9L1598.6 852.1L1599.5 849.2L1600.4 846.4L1601.3 843.5L1602.3 840.6L1603.2 837.8L1604.1 834.9L1605.0 832.1L1605.9 829.2L1606.8 826.3L1607.7 823.5L1608.6 820.6L1609.5 817.8L1610.4 814.9L1611.3 812.0L1612.2 809.2L1613.1 806.3L1614.0 803.5L1614.9 800.6L1615.8 797.7L1616.7 794.9L1617.6 792.0L1618.5 789.1L1619.4 786.3L1620.3 783.4L1621.2 780.5L1622.1 777.7L1623.0 774.8L1623.9 771.9L1624.8 769.1L1625.7 766.2L1626.6 763.3L1627.5 760.5L1628.3 757.6L1629.2 754.7L1630.1 751.8L1631.0 749.0L1631.8 746.1L1632.7 743.2L1633.5 740.3L1634.4 737.4L1635.3 734.6L1636.1 731.7L1636.9 728.8L1637.8 725.9L1638.6 723.0L1639.5 720.1L1640.3 717.3L1641.1 714.4L1642.0 711.5L1642.8 708.6L1643.7 705.7L1644.5 702.9L1645.3 700.0L1646.2 697.1L1647.0 694.2L1647.9 691.4L1648.7 688.5L1649.6 685.6L1650.4 682.8L1651.3 679.9L1652.2 677.1L1653.0 674.2L1653.9 671.3L1654.8 668.5L1655.7 665.6L1656.6 662.8L1657.5 660.0L1658.5 657.1L1659.4 654.3L1660.3 651.5L1661.3 648.6L1662.3 645.8L1663.2 643.0L1664.2 640.2L1665.2 637.4L1666.2 634.6L1667.3 631.8L1668.3 629.0L1669.4 626.2L1670.4 623.5L1671.5 620.7L1672.6 617.9L1673.7 615.1L1674.8 612.3L1675.9 609.5L1677.0 606.7L1678.2 604.0L1679.3 601.2L1680.4 598.4L1681.5 595.5L1682.6 592.7L1683.6 589.9L1684.7 587.1L1685.8 584.2L1686.8 581.4L1687.8 578.5L1688.8 575.7L1689.8 572.8L1690.8 569.9L1691.7 567.0L1692.6 564.1L1693.5 561.2L1694.4 558.3L1695.2 555.3L1696.0 552.4L1696.7 549.4L1697.5 546.4L1698.1 543.4L1698.8 540.4L1699.4 537.4L1700.0 534.4L1700.5 531.4L1701.0 528.4L1701.4 525.4L1701.9 522.4L1702.4 519.5L1702.8 516.5L1703.3 513.6L1703.7 510.7L1704.3 507.8L1704.8 504.9L1705.4 502.1L1706.0 499.3L1706.7 496.5L1707.4 493.8L1708.2 491.1L1709.2 488.4L1710.1 485.8L1711.2 483.3L1712.4 480.9L1713.7 478.5L1715.2 476.2L1716.7 474.0L1718.8 472.2L1721.0 470.8L1723.3 469.5L1725.7 468.4L1728.0 467.6L1730.3 467.1L1732.3 467.0L1733.9 467.0L1735.6 467.1L1737.7 467.8L1739.2 469.7L1740.6 471.9L1741.9 474.3L1743.2 476.8L1744.4 479.4L1745.6 482.0L1746.6 484.6L1747.6 487.3L1748.6 490.0L1749.5 492.8L1750.4 495.5L1751.3 498.4L1752.1 501.2L1753.0 504.1L1753.8 506.9L1754.7 509.8L1755.5 512.7L1756.3 515.5L1757.1 518.4L1757.9 521.3L1758.7 524.1L1759.5 527.0L1760.2 529.9L1761.0 532.8L1761.7 535.7L1762.5 538.6L1763.2 541.5L1763.9 544.4L1764.6 547.3L1765.4 550.2L1766.1 553.1L1766.8 556.0L1767.5 558.9L1768.1 561.8L1768.8 564.7L1769.5 567.6L1770.2 570.6L1770.9 573.5L1771.5 576.4L1772.2 579.3L1772.9 582.2L1773.5 585.1L1774.2 588.1L1774.9 591.0L1775.5 593.9L1776.2 596.8L1776.9 599.8L1777.6 602.7L1778.2 605.6L1778.9 608.6L1779.6 611.5L1780.2 614.4L1780.9 617.3L1781.6 620.3L1782.3 623.2L1783.0 626.1L1783.7 629.0L1784.3 631.9L1785.0 634.9L1785.7 637.8L1786.4 640.7L1787.0 643.6L1787.7 646.5L1788.4 649.5L1789.0 652.4L1789.7 655.3L1790.4 658.2L1791.0 661.1L1791.7 664.1L1792.3 667.0L1792.9 669.9L1793.6 672.8L1794.2 675.7L1794.8 678.7L1795.4 681.6L1796.0 684.5L1796.6 687.4L1797.2 690.4L1797.7 693.3L1798.3 696.2L1798.9 699.2L1799.4 702.1L1799.9 705.0L1800.4 708.0L1801.0 710.9L1801.5 713.8L1801.9 716.8L1802.4 719.7L1802.9 722.7L1803.4 725.6L1803.8 728.6L1804.3 731.5L1804.7 734.5L1805.1 737.4L1805.5 740.4L1806.0 743.3L1806.4 746.3L1806.8 749.3L1807.2 752.2L1807.6 755.2L1807.9 758.2L1808.3 761.1L1808.7 764.1L1809.1 767.1L1809.4 770.0L1809.8 773.0L1810.1 776.0L1810.5 779.0L1810.9 781.9L1811.2 784.9L1811.5 787.9L1811.9 790.9L1812.2 793.8L1812.6 796.8L1812.9 799.8L1813.3 802.8L1813.6 805.7L1813.9 808.7L1814.3 811.7L1814.6 814.7L1815.0 817.7L1815.3 820.6L1815.6 823.6L1816.0 826.6L1816.3 829.6L1816.6 832.6L1817.0 835.5L1817.3 838.5L1817.6 841.5L1818.0 844.5L1818.3 847.5L1818.6 850.4L1818.9 853.4L1819.3 856.4L1819.6 859.4L1819.9 862.4L1820.3 865.4L1820.6 868.3L1820.9 871.3L1821.2 874.3L1821.6 877.3L1821.9 880.3L1822.2 883.2L1822.5 886.2L1822.9 889.2L1823.2 892.2L1823.5 895.2L1823.8 898.2L1824.2 901.1L1824.5 904.1L1824.8 907.1L1825.1 910.1L1825.4 913.1L1825.8 916.0L1826.1 919.0L1826.4 922.0L1826.7 925.0L1827.1 928.0L1827.4 931.0L1827.7 933.9L1828.0 936.9L1828.4 939.9L1828.7 942.9L1829.0 945.9L1829.3 948.9L1829.6 951.8L1830.0 954.8L1830.3 957.8L1830.6 960.8L1830.9 963.8L1831.3 966.8L1831.6 969.7L1831.9 972.7L1832.3 975.7L1832.6 978.7L1832.9 981.7L1833.2 984.6L1833.6 987.6L1833.9 990.6L1834.2 993.6L1834.5 996.6L1834.9 999.6L1835.2 1002.5L1835.5 1005.5L1835.9 1008.5L1836.2 1011.5L1836.5 1014.5L1836.9 1017.5L1837.2 1020.4L1837.5 1023.4L1837.9 1026.4L1838.2 1029.4L1838.6 1032.4L1838.9 1035.4L1839.2 1038.3L1839.6 1041.3L1839.9 1044.3L1840.3 1047.3L1840.6 1050.3L1840.9 1053.2L1841.3 1056.2L1841.6 1059.2L1842.0 1062.2L1842.3 1065.2L1842.7 1068.2L1843.0 1071.1L1843.4 1074.1L1843.7 1077.1L1844.1 1080.1L1844.4 1083.1L1844.8 1086.0L1845.2 1089.0L1845.5 1092.0L1845.9 1095.0L1846.2 1098.0L1846.6 1100.9L1847.0 1103.9L1847.3 1106.9L1847.7 1109.9L1848.1 1112.9L1848.4 1115.8L1848.8 1118.8L1849.2 1121.8L1849.5 1124.8L1849.9 1127.8L1850.3 1130.7L1850.7 1133.7L1851.0 1136.7L1851.4 1139.7L1851.8 1142.7L1852.2 1145.6L1852.6 1148.6L1853.0 1151.6L1853.4 1154.6L1853.7 1157.5L1854.1 1160.5L1854.5 1163.5L1854.9 1166.5L1855.3 1169.4L1855.7 1172.4L1856.1 1175.4L1856.5 1178.4L1856.9 1181.4L1857.3 1184.3L1857.8 1187.3L1858.2 1190.3L1858.6 1193.3L1859.0 1196.2L1859.4 1199.2L1859.8 1202.2L1860.2 1205.1L1860.7 1208.1L1861.1 1211.1L1861.5 1214.1L1861.9 1217.0L1862.3 1220.0L1862.8 1223.0L1863.2 1226.0L1863.6 1228.9L1864.1 1231.9L1864.5 1234.9L1864.9 1237.8L1865.4 1240.8L1865.8 1243.8L1866.2 1246.7L1866.7 1249.7L1867.1 1252.7L1867.5 1255.7L1868.0 1258.6L1868.4 1261.6L1868.9 1264.6L1869.3 1267.5L1869.8 1270.5L1870.2 1273.5L1870.6 1276.4L1871.1 1279.4L1871.5 1282.4L1872.0 1285.3L1872.4 1288.3L1872.9 1291.3L1873.4 1294.2L1873.8 1297.2L1874.3 1300.2L1874.7 1303.1L1875.2 1306.1L1875.6 1309.1L1876.1 1312.0L1876.5 1315.0L1877.0 1318.0L1877.5 1320.9L1877.9 1323.9L1878.4 1326.9L1878.9 1329.8L1879.3 1332.8L1879.8 1335.8L1880.2 1338.7L1880.7 1341.7L1881.2 1344.7L1881.6 1347.6L1882.1 1350.6L1882.6 1353.6L1883.0 1356.5L1883.5 1359.5L1884.0 1362.5L1884.5 1365.4L1884.9 1368.4L1885.4 1371.4L1885.9 1374.3L1886.4 1377.3L1886.9 1380.3L1887.4 1383.2L1887.9 1386.2L1888.4 1389.2L1888.9 1392.1L1889.5 1395.1L1890.0 1398.1L1890.5 1401.0L1891.1 1404.0L1891.7 1407.0L1892.2 1409.9L1892.8 1412.9L1893.4 1415.8L1894.0 1418.8L1894.7 1421.8L1895.3 1424.7L1895.9 1427.7L1896.6 1430.6L1897.3 1433.6L1898.0 1436.5L1898.7 1439.4L1899.4 1442.4L1900.1 1445.3L1900.9 1448.2L1901.7 1451.2L1902.5 1454.1L1903.3 1457.0L1904.1 1460.0L1905.0 1462.9L1906.0 1465.8L1906.9 1468.7L1908.0 1471.6L1909.1 1474.5L1910.2 1477.4L1911.5 1480.3L1912.8 1483.1L1914.2 1485.9L1915.7 1488.7L1917.3 1491.4L1919.0 1494.0L1920.8 1496.6L1922.8 1499.2L1924.9 1501.6L1927.1 1503.9L1929.4 1506.1L1931.6 1508.4L1933.9 1510.7L1936.4 1512.8L1939.0 1514.7L1941.8 1516.5L1944.6 1518.1L1947.6 1519.5L1950.6 1520.7L1953.8 1521.8L1957.4 1522.8L1960.8 1522.8L1964.0 1522.8L1967.0 1522.8L1970.0 1522.8L1973.0 1522.8L1976.0 1522.8L1979.0 1522.8L1982.0 1522.8L1985.0 1522.8L1988.0 1522.8L1991.0 1522.8L1994.0 1522.8L1997.0 1522.8L2000.0 1522.8L2003.0 1522.8L2006.0 1522.8L2009.0 1522.8L2012.0 1522.8L2015.0 1522.8L2018.0 1522.8L2021.0 1522.8L2024.0 1522.8L2027.0 1522.8L2030.0 1522.8L2033.0 1522.8L2036.0 1522.8L2039.0 1522.8L2042.0 1522.8L2045.0 1522.8L2048.0 1522.8L2051.0 1522.8L2054.0 1522.8L2057.0 1522.8L2060.0 1522.8L2063.0 1522.8L2063.0 1512.3L2060.0 1512.3L2057.0 1512.3L2054.0 1512.3L2051.0 1512.3L2048.0 1512.3L2045.0 1512.3L2042.0 1512.3L2039.0 1512.3L2036.0 1512.3L2033.0 1512.3L2030.0 1512.3L2027.0 1512.3L2024.0 1512.3L2021.0 1512.3L2018.0 1512.3L2015.0 1512.3L2012.0 1512.3L2009.0 1512.3L2006.0 1512.3L2003.0 1512.3L2000.0 1512.3L1997.0 1512.3L1994.0 1512.3L1991.0 1512.3L1988.0 1512.3L1985.0 1512.3L1982.0 1512.3L1979.0 1512.3L1976.0 1512.3L1973.0 1512.3L1970.0 1512.3L1967.0 1512.3L1964.0 1512.3L1961.2 1512.4L1958.6 1512.4L1956.4 1512.0L1953.8 1511.3L1951.2 1510.4L1948.7 1509.5L1946.2 1508.4L1943.7 1507.1L1941.4 1505.8L1939.0 1504.3L1936.8 1502.6L1934.6 1500.8L1932.9 1498.7L1931.1 1496.4L1929.5 1494.1L1928.0 1491.8L1926.6 1489.3L1925.2 1486.8L1923.9 1484.3L1922.6 1481.7L1921.5 1479.1L1920.3 1476.5L1919.3 1473.8L1918.3 1471.1L1917.3 1468.3L1916.4 1465.6L1915.5 1462.8L1914.6 1460.0L1913.8 1457.1L1913.0 1454.3L1912.2 1451.5L1911.5 1448.6L1910.7 1445.7L1910.0 1442.8L1909.3 1439.9L1908.6 1437.1L1907.9 1434.2L1907.3 1431.3L1906.6 1428.4L1906.0 1425.5L1905.3 1422.5L1904.7 1419.6L1904.1 1416.7L1903.5 1413.8L1902.9 1410.9L1902.4 1407.9L1901.8 1405.0L1901.2 1402.1L1900.7 1399.1L1900.2 1396.2L1899.6 1393.3L1899.1 1390.3L1898.6 1387.4L1898.1 1384.4L1897.6 1381.5L1897.1 1378.6L1896.6 1375.6L1896.1 1372.6L1895.6 1369.7L1895.2 1366.7L1894.7 1363.8L1894.2 1360.8L1893.8 1357.9L1893.3 1354.9L1892.8 1351.9L1892.4 1349.0L1891.9 1346.0L1891.4 1343.1L1891.0 1340.1L1890.5 1337.1L1890.0 1334.2L1889.6 1331.2L1889.1 1328.2L1888.6 1325.3L1888.2 1322.3L1887.7 1319.4L1887.3 1316.4L1886.8 1313.4L1886.3 1310.5L1885.9 1307.5L1885.4 1304.5L1885.0 1301.6L1884.5 1298.6L1884.1 1295.6L1883.6 1292.7L1883.2 1289.7L1882.7 1286.7L1882.3 1283.8L1881.8 1280.8L1881.4 1277.9L1880.9 1274.9L1880.5 1271.9L1880.0 1269.0L1879.6 1266.0L1879.1 1263.0L1878.7 1260.1L1878.3 1257.1L1877.8 1254.1L1877.4 1251.2L1876.9 1248.2L1876.5 1245.2L1876.1 1242.3L1875.6 1239.3L1875.2 1236.3L1874.8 1233.4L1874.3 1230.4L1873.9 1227.4L1873.5 1224.5L1873.1 1221.5L1872.6 1218.5L1872.2 1215.6L1871.8 1212.6L1871.4 1209.6L1870.9 1206.7L1870.5 1203.7L1870.1 1200.7L1869.7 1197.8L1869.3 1194.8L1868.9 1191.8L1868.5 1188.9L1868.1 1185.9L1867.7 1182.9L1867.2 1179.9L1866.8 1177.0L1866.4 1174.0L1866.0 1171.0L1865.6 1168.1L1865.2 1165.1L1864.9 1162.1L1864.5 1159.2L1864.1 1156.2L1863.7 1153.2L1863.3 1150.2L1862.9 1147.3L1862.5 1144.3L1862.1 1141.3L1861.8 1138.4L1861.4 1135.4L1861.0 1132.4L1860.6 1129.4L1860.3 1126.5L1859.9 1123.5L1859.5 1120.5L1859.1 1117.5L1858.8 1114.6L1858.4 1111.6L1858.0 1108.6L1857.7 1105.6L1857.3 1102.7L1856.9 1099.7L1856.6 1096.7L1856.2 1093.7L1855.9 1090.8L1855.5 1087.8L1855.1 1084.8L1854.8 1081.8L1854.4 1078.8L1854.1 1075.9L1853.7 1072.9L1853.4 1069.9L1853.0 1066.9L1852.7 1064.0L1852.3 1061.0L1852.0 1058.0L1851.7 1055.0L1851.3 1052.0L1851.0 1049.1L1850.6 1046.1L1850.3 1043.1L1849.9 1040.1L1849.6 1037.2L1849.3 1034.2L1848.9 1031.2L1848.6 1028.2L1848.2 1025.2L1847.9 1022.3L1847.6 1019.3L1847.2 1016.3L1846.9 1013.3L1846.6 1010.3L1846.2 1007.4L1845.9 1004.4L1845.6 1001.4L1845.3 998.4L1844.9 995.4L1844.6 992.5L1844.3 989.5L1843.9 986.5L1843.6 983.5L1843.3 980.5L1843.0 977.5L1842.6 974.6L1842.3 971.6L1842.0 968.6L1841.6 965.6L1841.3 962.6L1841.0 959.7L1840.7 956.7L1840.4 953.7L1840.0 950.7L1839.7 947.7L1839.4 944.7L1839.1 941.8L1838.7 938.8L1838.4 935.8L1838.1 932.8L1837.8 929.8L1837.4 926.9L1837.1 923.9L1836.8 920.9L1836.5 917.9L1836.1 914.9L1835.8 911.9L1835.5 909.0L1835.2 906.0L1834.9 903.0L1834.5 900.0L1834.2 897.0L1833.9 894.0L1833.6 891.1L1833.2 888.1L1832.9 885.1L1832.6 882.1L1832.3 879.1L1831.9 876.1L1831.6 873.2L1831.3 870.2L1831.0 867.2L1830.6 864.2L1830.3 861.2L1830.0 858.3L1829.6 855.3L1829.3 852.3L1829.0 849.3L1828.7 846.3L1828.3 843.3L1828.0 840.4L1827.7 837.4L1827.3 834.4L1827.0 831.4L1826.7 828.4L1826.3 825.4L1826.0 822.5L1825.7 819.5L1825.3 816.5L1825.0 813.5L1824.6 810.5L1824.3 807.5L1824.0 804.6L1823.6 801.6L1823.3 798.6L1822.9 795.6L1822.6 792.6L1822.3 789.7L1821.9 786.7L1821.6 783.7L1821.2 780.7L1820.9 777.7L1820.5 774.7L1820.1 771.8L1819.8 768.8L1819.4 765.8L1819.0 762.8L1818.6 759.8L1818.3 756.8L1817.9 753.8L1817.5 750.9L1817.1 747.9L1816.7 744.9L1816.3 741.9L1815.8 738.9L1815.4 735.9L1815.0 733.0L1814.5 730.0L1814.1 727.0L1813.6 724.0L1813.1 721.0L1812.7 718.1L1812.2 715.1L1811.7 712.1L1811.2 709.1L1810.6 706.2L1810.1 703.2L1809.6 700.2L1809.0 697.3L1808.4 694.3L1807.9 691.3L1807.3 688.4L1806.7 685.4L1806.1 682.5L1805.5 679.5L1804.8 676.6L1804.2 673.6L1803.6 670.7L1803.0 667.7L1802.3 664.8L1801.7 661.8L1801.0 658.9L1800.4 656.0L1799.7 653.0L1799.0 650.1L1798.4 647.2L1797.7 644.3L1797.0 641.3L1796.3 638.4L1795.7 635.5L1795.0 632.5L1794.3 629.6L1793.6 626.7L1792.9 623.8L1792.3 620.9L1791.6 617.9L1790.9 615.0L1790.2 612.1L1789.5 609.2L1788.9 606.3L1788.2 603.3L1787.5 600.4L1786.9 597.5L1786.2 594.6L1785.5 591.6L1784.9 588.7L1784.2 585.8L1783.5 582.9L1782.9 579.9L1782.2 577.0L1781.5 574.1L1780.8 571.2L1780.1 568.2L1779.5 565.3L1778.8 562.4L1778.1 559.5L1777.4 556.5L1776.7 553.6L1776.0 550.7L1775.3 547.8L1774.5 544.8L1773.8 541.9L1773.1 539.0L1772.3 536.1L1771.6 533.1L1770.8 530.2L1770.0 527.3L1769.3 524.4L1768.5 521.5L1767.7 518.6L1766.9 515.7L1766.0 512.8L1765.2 509.9L1764.4 507.0L1763.5 504.1L1762.6 501.2L1761.8 498.3L1760.9 495.4L1759.9 492.5L1759.0 489.6L1757.9 486.7L1756.8 483.8L1755.6 480.9L1754.3 478.0L1752.8 475.2L1751.3 472.4L1749.6 469.7L1747.7 467.0L1745.4 464.5L1742.9 462.0L1740.1 459.1L1736.3 457.0L1732.0 456.5L1728.1 457.1L1724.6 458.4L1721.4 460.0L1718.6 461.9L1716.0 464.0L1713.6 466.4L1711.3 468.8L1708.9 471.1L1706.7 473.6L1704.7 476.2L1703.0 479.0L1701.4 481.9L1700.1 484.8L1698.9 487.8L1697.8 490.8L1696.9 493.8L1696.1 496.8L1695.4 499.9L1694.7 502.9L1694.1 505.9L1693.6 508.9L1693.0 511.9L1692.6 514.9L1692.1 517.9L1691.6 520.9L1691.2 523.8L1690.7 526.8L1690.3 529.7L1689.8 532.6L1689.3 535.5L1688.7 538.4L1688.1 541.3L1687.5 544.1L1686.8 547.0L1686.1 549.8L1685.4 552.7L1684.6 555.5L1683.8 558.4L1683.0 561.2L1682.2 564.0L1681.3 566.8L1680.4 569.7L1679.4 572.5L1678.5 575.3L1677.5 578.1L1676.5 580.9L1675.5 583.7L1674.4 586.4L1673.4 589.2L1672.3 592.0L1671.3 594.8L1670.2 597.6L1669.1 600.4L1668.0 603.1L1666.9 605.9L1665.8 608.7L1664.6 611.5L1663.5 614.3L1662.4 617.1L1661.3 619.9L1660.2 622.7L1659.1 625.5L1658.1 628.4L1657.0 631.2L1656.0 634.0L1654.9 636.9L1653.9 639.7L1652.9 642.6L1651.9 645.4L1650.9 648.3L1649.9 651.1L1649.0 654.0L1648.0 656.9L1647.1 659.7L1646.2 662.6L1645.3 665.5L1644.4 668.4L1643.5 671.2L1642.6 674.1L1641.7 677.0L1640.8 679.9L1639.9 682.7L1639.1 685.6L1638.2 688.5L1637.4 691.4L1636.5 694.3L1635.7 697.2L1634.8 700.0L1634.0 702.9L1633.1 705.8L1632.3 708.7L1631.5 711.6L1630.6 714.4L1629.8 717.3L1629.0 720.2L1628.1 723.1L1627.3 726.0L1626.4 728.8L1625.6 731.7L1624.7 734.6L1623.9 737.5L1623.0 740.3L1622.2 743.2L1621.3 746.1L1620.5 748.9L1619.6 751.8L1618.7 754.7L1617.9 757.5L1617.0 760.4L1616.1 763.3L1615.2 766.1L1614.3 769.0L1613.4 771.8L1612.6 774.7L1611.7 777.6L1610.8 780.4L1609.9 783.3L1609.0 786.1L1608.1 789.0L1607.2 791.9L1606.3 794.7L1605.4 797.6L1604.5 800.4L1603.6 803.3L1602.7 806.2L1601.8 809.0L1600.9 811.9L1600.0 814.7L1599.1 817.6L1598.1 820.5L1597.2 823.3L1596.3 826.2L1595.4 829.0L1594.5 831.9L1593.6 834.8L1592.7 837.6L1591.8 840.5L1590.9 843.3L1590.0 846.2L1589.1 849.1L1588.2 851.9L1587.3 854.8L1586.4 857.6L1585.5 860.5L1584.6 863.4L1583.7 866.2L1582.8 869.1L1581.9 871.9L1581.0 874.8L1580.1 877.7L1579.2 880.5L1578.2 883.4L1577.3 886.3L1576.4 889.1L1575.5 892.0L1574.6 894.8L1573.7 897.7L1572.8 900.6L1571.9 903.4L1571.0 906.3L1570.1 909.1L1569.2 912.0L1568.3 914.9L1567.4 917.7L1566.5 920.6L1565.6 923.4L1564.7 926.3L1563.8 929.2L1562.9 932.0L1562.0 934.9L1561.1 937.7L1560.2 940.6L1559.2 943.4L1558.3 946.3L1557.4 949.1L1556.5 952.0L1555.6 954.8L1554.6 957.7L1553.7 960.5L1552.8 963.4L1551.8 966.2L1550.9 969.0L1549.9 971.9L1549.0 974.7L1548.0 977.6L1547.1 980.4L1546.1 983.2L1545.1 986.0L1544.2 988.9L1543.2 991.7L1542.2 994.5L1541.2 997.3L1540.2 1000.2L1539.2 1003.0L1538.2 1005.8L1537.2 1008.6L1536.2 1011.4L1535.1 1014.2L1534.1 1017.0L1533.1 1019.8L1532.0 1022.6L1530.9 1025.4L1529.9 1028.2L1528.8 1031.0L1527.7 1033.8L1526.6 1036.6L1525.5 1039.3L1524.5 1042.1L1523.3 1044.9L1522.2 1047.7L1521.1 1050.4L1520.0 1053.2L1518.9 1056.0L1517.7 1058.8L1516.6 1061.5L1515.5 1064.3L1514.3 1067.1L1513.2 1069.8L1512.0 1072.6L1510.8 1075.3L1509.7 1078.1L1508.5 1080.9L1507.3 1083.6L1506.2 1086.4L1505.0 1089.1L1503.8 1091.9L1502.6 1094.6L1501.5 1097.4L1500.3 1100.1L1499.1 1102.9L1497.9 1105.6L1496.7 1108.4L1495.5 1111.1L1494.3 1113.9L1493.1 1116.6L1491.9 1119.4L1490.7 1122.1L1489.5 1124.9L1488.3 1127.6L1487.1 1130.4L1485.9 1133.1L1484.7 1135.9L1483.5 1138.6L1482.3 1141.3L1481.1 1144.1L1479.9 1146.8L1478.7 1149.6L1477.5 1152.3L1476.2 1155.0L1475.0 1157.8L1473.8 1160.5L1472.6 1163.2L1471.3 1165.9L1470.1 1168.7L1468.8 1171.4L1467.6 1174.1L1466.3 1176.8L1465.1 1179.5L1463.8 1182.2L1462.5 1184.9L1461.2 1187.6L1459.9 1190.3L1458.6 1193.0L1457.3 1195.7L1456.0 1198.3L1454.7 1201.0L1453.3 1203.7L1452.0 1206.3L1450.6 1209.0L1449.3 1211.7L1447.9 1214.3L1446.5 1216.9L1445.1 1219.6L1443.7 1222.2L1442.3 1224.8L1440.9 1227.4L1439.4 1230.0L1438.0 1232.6L1436.5 1235.2L1435.0 1237.8L1433.5 1240.4L1432.0 1243.0L1430.5 1245.5L1429.0 1248.1L1427.5 1250.6L1425.9 1253.2L1424.3 1255.7L1422.8 1258.2L1421.2 1260.7L1419.6 1263.2L1417.9 1265.7L1416.3 1268.2L1414.7 1270.7L1413.0 1273.2L1411.3 1275.6L1409.6 1278.0L1407.9 1280.5L1406.2 1282.9L1404.4 1285.3L1402.7 1287.7L1400.9 1290.1L1399.1 1292.4L1397.3 1294.8L1395.5 1297.1L1393.6 1299.5L1391.8 1301.8L1389.9 1304.1L1388.0 1306.4L1386.1 1308.6L1384.2 1310.9L1382.2 1313.1L1380.2 1315.3L1378.2 1317.5L1376.2 1319.7L1374.2 1321.9L1372.2 1324.1L1370.1 1326.2L1368.0 1328.3L1365.9 1330.3L1363.7 1332.3L1361.5 1334.3L1359.3 1336.3L1357.1 1338.3L1354.9 1340.2L1352.6 1342.1L1350.3 1344.0L1348.0 1345.9L1345.7 1347.7L1343.4 1349.6L1341.0 1351.3L1338.7 1353.1L1336.3 1354.9L1333.9 1356.6L1331.4 1358.3L1329.0 1360.0L1326.6 1361.7L1324.1 1363.5L1321.6 1365.2L1319.2 1367.0L1316.8 1368.9L1314.4 1370.7L1312.0 1372.7L1309.6 1374.7L1307.3 1376.7L1305.0 1378.8L1302.8 1380.8L1300.6 1382.9L1298.4 1384.9L1296.2 1387.0L1294.0 1389.0L1291.8 1390.9L1289.5 1392.8L1287.2 1394.7L1284.9 1396.4L1282.6 1398.1L1280.2 1399.7L1277.8 1401.2L1275.4 1402.6L1272.9 1403.9L1270.3 1405.1L1267.7 1406.2L1265.0 1407.3L1262.3 1408.3L1259.6 1409.3L1256.8 1410.3L1254.0 1411.4L1251.1 1412.4L1248.2 1413.5L1245.4 1414.7L1242.6 1416.0L1239.8 1417.2L1237.0 1418.5L1234.3 1419.9L1231.5 1421.2L1228.8 1422.5L1226.1 1423.9L1223.4 1425.2L1220.8 1426.5L1218.1 1427.8L1215.4 1429.1L1212.7 1430.4L1210.0 1431.6L1207.4 1432.8L1204.6 1433.9L1201.9 1435.1L1199.2 1436.1L1196.4 1437.2L1193.7 1438.3L1190.9 1439.3L1188.1 1440.3L1185.3 1441.3L1182.5 1442.2L1179.7 1443.2L1176.9 1444.1L1174.1 1445.0L1171.2 1445.9L1168.4 1446.7L1165.5 1447.6L1162.7 1448.4L1159.8 1449.2L1157.0 1450.1L1154.1 1450.9L1151.2 1451.7L1148.3 1452.4L1145.4 1453.2L1142.6 1454.0L1139.7 1454.8L1136.8 1455.5L1133.9 1456.3L1131.0 1457.0L1128.1 1457.8L1125.2 1458.5L1122.3 1459.3L1119.4 1460.0L1116.5 1460.7L1113.6 1461.5L1110.7 1462.2L1107.8 1462.9L1104.9 1463.7L1102.0 1464.4L1099.0 1465.1L1096.1 1465.8L1093.2 1466.6L1090.3 1467.3L1087.4 1468.0L1084.5 1468.8L1081.6 1469.5L1078.7 1470.2L1075.7 1471.0L1072.8 1471.7L1069.9 1472.5L1067.0 1473.2L1064.1 1474.0L1061.2 1474.8L1058.3 1475.5L1055.4 1476.3L1052.5 1477.1L1049.6 1477.8L1046.7 1478.6L1043.8 1479.4L1040.9 1480.1L1038.0 1480.9L1035.1 1481.6L1032.2 1482.4L1029.3 1483.2L1026.4 1483.9L1023.5 1484.7L1020.6 1485.4L1017.7 1486.1L1014.8 1486.9L1011.9 1487.6L1009.0 1488.3L1006.1 1489.0L1003.2 1489.7L1000.3 1490.4L997.4 1491.1L994.5 1491.8L991.6 1492.4L988.7 1493.1L985.8 1493.8L982.8 1494.4L979.9 1495.0L977.0 1495.6L974.1 1496.2L971.2 1496.8L968.3 1497.4L965.3 1497.9L962.4 1498.5L959.5 1499.0L956.6 1499.5L953.6 1500.0L950.7 1500.5L947.8 1501.0L944.8 1501.4L941.9 1501.8L938.9 1502.2L936.0 1502.6L933.1 1503.0L930.1 1503.4L927.2 1503.7L924.2 1504.1L921.2 1504.4L918.3 1504.7L915.3 1505.0L912.4 1505.3L909.4 1505.6L906.4 1505.8L903.5 1506.1L900.5 1506.3L897.5 1506.5L894.5 1506.7L891.6 1506.9L888.6 1507.1L885.6 1507.3L882.6 1507.5L879.7 1507.7L876.7 1507.8L873.7 1508.0L870.7 1508.1L867.7 1508.2L864.7 1508.4L861.7 1508.5L858.8 1508.6L855.8 1508.7L852.8 1508.8L849.8 1508.9L846.8 1509.0L843.8 1509.1L840.8 1509.2L837.8 1509.3L834.8 1509.3L831.8 1509.4L828.8 1509.5L825.8 1509.6L822.9 1509.6L819.9 1509.7L816.9 1509.8L813.9 1509.8L810.9 1509.9L807.9 1510.0L804.9 1510.0L801.9 1510.1L798.9 1510.1L795.9 1510.2L792.9 1510.3L789.9 1510.3L786.9 1510.4L783.9 1510.4L780.9 1510.5L777.9 1510.5L774.9 1510.6L771.9 1510.6L768.9 1510.7L765.9 1510.7L762.9 1510.7L759.9 1510.8L756.9 1510.8L753.9 1510.9L750.9 1510.9L747.9 1510.9L744.9 1511.0L741.9 1511.0L738.9 1511.1L735.9 1511.1L732.9 1511.1L729.9 1511.1L726.9 1511.2L723.9 1511.2L720.9 1511.2L717.9 1511.3L714.9 1511.3L711.9 1511.3L708.9 1511.3L705.9 1511.4L703.0 1511.4L700.0 1511.4L697.0 1511.4L694.0 1511.4L691.0 1511.5L688.0 1511.5L685.0 1511.5L682.0 1511.5L679.0 1511.5L676.0 1511.5L673.0 1511.6L670.0 1511.6L667.0 1511.6L664.0 1511.6L661.0 1511.6L658.0 1511.6L655.0 1511.6L652.0 1511.6L649.0 1511.6L646.0 1511.6L643.0 1511.6L640.0 1511.6L637.0 1511.6L634.0 1511.7L631.0 1511.7L628.0 1511.7L625.0 1511.7L622.0 1511.7L619.0 1511.7L616.0 1511.7L613.0 1511.7L610.0 1511.7L607.0 1511.7L604.0 1511.6L601.0 1511.6L598.0 1511.6L595.0 1511.6L592.0 1511.6L589.0 1511.6L586.0 1511.6L583.0 1511.6L580.0 1511.6L577.0 1511.6L574.0 1511.6L571.0 1511.6L568.0 1511.6L565.0 1511.6L562.0 1511.6L559.0 1511.5L556.0 1511.5L553.0 1511.5L550.0 1511.5L547.0 1511.5L544.0 1511.5L541.0 1511.5L538.0 1511.5L535.0 1511.5L532.0 1511.4L529.0 1511.4L526.0 1511.4L523.0 1511.4L520.0 1511.4L517.0 1511.4L514.0 1511.4L511.0 1511.3L508.0 1511.3L505.0 1511.3L502.0 1511.3L499.0 1511.3L496.0 1511.3L493.0 1511.3L490.0 1511.2L487.0 1511.2L484.0 1511.2L481.0 1511.2L478.0 1511.2L475.0 1511.2L472.0 1511.1L469.0 1511.1L466.0 1511.1L463.0 1511.1L460.0 1511.1L457.0 1511.1L454.0 1511.0L451.0 1511.0L448.0 1511.0L445.0 1511.0L442.0 1511.0L439.0 1511.0L436.0 1511.0L433.0 1510.9L430.0 1510.9L427.0 1510.9L424.0 1510.9L421.0 1510.9L418.0 1510.9L415.0 1510.9L412.0 1510.8L409.0 1510.8L406.0 1510.8L403.0 1510.8L400.0 1510.8L397.0 1510.8L394.0 1510.8L391.0 1510.8L388.0 1510.7L385.0 1510.7L382.0 1510.7L379.0 1510.7L376.0 1510.7L373.0 1510.7L370.0 1510.7L367.0 1510.7L364.0 1510.7L361.0 1510.7L358.0 1510.6L355.0 1510.6L352.0 1510.6L349.0 1510.6L346.0 1510.6L343.0 1510.6L340.0 1510.6L337.0 1510.6L334.0 1510.6L331.0 1510.6L328.0 1510.6L325.0 1510.6L322.0 1510.6L319.0 1510.6L316.0 1510.6L313.0 1510.6L310.0 1510.6L307.0 1510.6L304.0 1510.6L301.0 1510.6L298.0 1510.6L295.0 1510.6L292.0 1510.6L289.0 1510.6L286.0 1510.6L283.0 1510.6L280.0 1510.6L277.0 1510.7L274.0 1510.7L271.0 1510.7L268.0 1510.7L265.0 1510.7L262.0 1510.7L259.0 1510.7L256.0 1510.7L253.0 1510.8Z" fill="#000000"/>
<path d="M252.9 1512.2L255.9 1512.3L258.9 1512.4L261.9 1512.4L264.9 1512.5L267.9 1512.5L270.9 1512.6L273.9 1512.6L276.9 1512.7L279.9 1512.7L282.9 1512.7L285.9 1512.8L288.9 1512.8L291.9 1512.8L294.9 1512.9L297.9 1512.9L300.9 1512.9L303.9 1513.0L306.9 1513.0L309.9 1513.0L312.9 1513.0L315.9 1513.1L318.9 1513.1L321.9 1513.1L324.9 1513.1L327.9 1513.2L330.9 1513.2L333.9 1513.2L336.9 1513.2L339.9 1513.2L342.9 1513.2L345.9 1513.3L348.9 1513.3L351.9 1513.3L354.9 1513.3L357.9 1513.3L360.9 1513.3L363.9 1513.3L366.9 1513.3L369.9 1513.4L372.9 1513.4L375.9 1513.4L378.9 1513.4L381.9 1513.4L384.9 1513.4L387.9 1513.4L390.9 1513.4L393.9 1513.5L396.9 1513.5L399.9 1513.5L402.9 1513.5L405.9 1513.5L408.9 1513.5L411.9 1513.6L414.9 1513.6L417.9 1513.6L420.9 1513.6L423.9 1513.6L426.9 1513.7L429.9 1513.7L432.9 1513.7L435.9 1513.7L438.9 1513.8L441.9 1513.8L444.9 1513.8L447.9 1513.9L450.9 1513.9L453.9 1513.9L456.8 1514.0L459.8 1514.0L462.8 1514.0L465.8 1514.1L468.8 1514.1L471.8 1514.2L474.8 1514.2L477.8 1514.3L480.8 1514.3L483.8 1514.4L486.8 1514.4L489.8 1514.5L492.8 1514.6L495.8 1514.6L498.8 1514.7L501.8 1514.8L504.8 1514.8L507.8 1514.9L510.7 1515.0L513.7 1515.1L516.7 1515.2L519.7 1515.3L522.7 1515.3L525.7 1515.4L528.7 1515.5L531.7 1515.6L534.7 1515.7L537.7 1515.8L540.7 1516.0L543.7 1516.1L546.6 1516.2L549.6 1516.3L552.6 1516.4L555.6 1516.6L558.6 1516.7L561.6 1516.8L564.6 1517.0L567.6 1517.1L570.6 1517.2L573.6 1517.4L576.6 1517.5L579.6 1517.7L582.5 1517.8L585.5 1518.0L588.5 1518.1L591.5 1518.3L594.5 1518.4L597.5 1518.6L600.5 1518.7L603.5 1518.8L606.5 1519.0L609.5 1519.1L612.5 1519.3L615.5 1519.4L618.5 1519.6L621.5 1519.7L624.5 1519.8L627.5 1519.9L630.5 1520.1L633.5 1520.2L636.5 1520.3L639.5 1520.4L642.5 1520.5L645.5 1520.6L648.5 1520.7L651.6 1520.8L654.6 1520.9L657.6 1521.0L660.6 1521.1L663.6 1521.1L666.6 1521.2L669.6 1521.3L672.6 1521.3L675.6 1521.3L678.6 1521.4L681.7 1521.4L684.7 1521.4L687.7 1521.4L690.7 1521.4L693.7 1521.4L696.7 1521.4L699.8 1521.3L702.8 1521.3L705.8 1521.2L708.8 1521.2L711.8 1521.1L714.8 1521.0L717.9 1520.9L720.9 1520.8L723.9 1520.7L726.9 1520.5L729.9 1520.4L732.9 1520.2L736.0 1520.1L739.0 1519.9L742.0 1519.7L745.0 1519.4L748.0 1519.2L751.0 1519.0L754.1 1518.7L757.1 1518.4L760.1 1518.1L763.1 1517.8L766.1 1517.5L769.1 1517.1L772.1 1516.8L775.1 1516.4L778.1 1516.0L781.1 1515.6L784.1 1515.1L787.1 1514.7L790.1 1514.2L793.1 1513.7L796.1 1513.2L799.1 1512.7L802.1 1512.1L805.0 1511.5L808.0 1510.9L811.0 1510.3L814.0 1509.7L816.9 1509.0L819.9 1508.4L822.8 1507.7L825.8 1507.0L828.7 1506.3L831.6 1505.5L834.6 1504.8L837.5 1504.0L840.4 1503.2L843.3 1502.4L846.3 1501.6L849.2 1500.7L852.1 1499.9L855.0 1499.0L857.9 1498.1L860.8 1497.2L863.6 1496.3L866.5 1495.4L869.4 1494.5L872.3 1493.5L875.1 1492.5L878.0 1491.6L880.8 1490.6L883.7 1489.6L886.5 1488.5L889.4 1487.5L892.2 1486.5L895.0 1485.4L897.8 1484.3L900.7 1483.2L903.5 1482.1L906.3 1481.0L909.1 1479.9L911.9 1478.8L914.7 1477.7L917.5 1476.5L920.3 1475.3L923.0 1474.2L925.8 1473.0L928.6 1471.8L931.4 1470.6L934.1 1469.4L936.9 1468.2L939.6 1466.9L942.4 1465.7L945.1 1464.5L947.9 1463.2L950.6 1461.9L953.3 1460.7L956.1 1459.4L958.8 1458.1L961.5 1456.8L964.2 1455.5L966.9 1454.2L969.6 1452.9L972.3 1451.6L975.0 1450.3L977.7 1449.1L980.5 1447.8L983.2 1446.5L985.9 1445.2L988.6 1444.0L991.3 1442.7L994.0 1441.4L996.7 1440.1L999.5 1438.8L1002.2 1437.4L1004.9 1435.9L1007.6 1434.4L1010.3 1432.7L1012.9 1430.9L1015.5 1429.1L1017.9 1427.1L1020.3 1425.0L1022.6 1422.9L1024.8 1420.7L1027.0 1418.5L1029.2 1416.3L1031.4 1414.1L1033.5 1411.9L1035.5 1409.6L1037.5 1407.3L1039.5 1405.0L1041.4 1402.7L1043.3 1400.3L1045.2 1398.0L1047.1 1395.6L1048.9 1393.2L1050.7 1390.9L1052.6 1388.5L1054.4 1386.2L1056.3 1383.9L1058.2 1381.6L1060.1 1379.3L1062.0 1377.0L1063.9 1374.7L1065.9 1372.5L1067.8 1370.2L1069.8 1367.9L1071.7 1365.6L1073.7 1363.3L1075.6 1361.0L1077.6 1358.7L1079.5 1356.4L1081.5 1354.1L1083.4 1351.7L1085.3 1349.4L1087.1 1347.0L1089.0 1344.7L1090.9 1342.3L1092.7 1339.9L1094.5 1337.5L1096.4 1335.1L1098.2 1332.7L1100.0 1330.3L1101.8 1327.9L1103.6 1325.4L1105.3 1323.0L1107.1 1320.6L1108.9 1318.1L1110.7 1315.7L1112.4 1313.3L1114.2 1310.8L1115.9 1308.4L1117.7 1306.0L1119.4 1303.5L1121.2 1301.1L1122.9 1298.7L1124.6 1296.2L1126.4 1293.8L1128.1 1291.4L1129.9 1288.9L1131.6 1286.5L1133.4 1284.1L1135.1 1281.7L1136.9 1279.2L1138.7 1276.8L1140.5 1274.4L1142.2 1272.0L1144.0 1269.6L1145.8 1267.3L1147.6 1264.9L1149.4 1262.5L1151.3 1260.1L1153.1 1257.7L1154.9 1255.3L1156.7 1253.0L1158.5 1250.6L1160.4 1248.2L1162.2 1245.8L1164.0 1243.4L1165.8 1241.0L1167.6 1238.6L1169.4 1236.2L1171.2 1233.8L1173.0 1231.3L1174.8 1228.9L1176.6 1226.4L1178.3 1224.0L1180.1 1221.5L1181.8 1219.0L1183.5 1216.5L1185.2 1214.0L1186.9 1211.5L1188.6 1208.9L1190.2 1206.4L1191.8 1203.8L1193.4 1201.2L1195.0 1198.6L1196.6 1196.0L1198.1 1193.3L1199.6 1190.7L1201.0 1188.0L1202.5 1185.3L1203.8 1182.6L1205.2 1179.8L1206.5 1177.1L1207.8 1174.3L1209.1 1171.5L1210.3 1168.7L1211.5 1166.0L1212.7 1163.2L1213.8 1160.4L1214.9 1157.6L1216.1 1154.8L1217.2 1152.0L1218.3 1149.2L1219.4 1146.4L1220.4 1143.5L1221.5 1140.8L1222.6 1138.0L1223.7 1135.2L1224.7 1132.4L1225.8 1129.6L1226.9 1126.8L1228.0 1124.1L1229.2 1121.3L1230.3 1118.6L1231.4 1115.9L1232.6 1113.1L1233.8 1110.4L1235.0 1107.7L1236.3 1105.0L1237.5 1102.4L1238.8 1099.7L1240.1 1097.0L1241.4 1094.3L1242.7 1091.7L1244.1 1089.0L1245.4 1086.4L1246.8 1083.7L1248.2 1081.1L1249.6 1078.5L1251.0 1075.8L1252.4 1073.2L1253.8 1070.6L1255.3 1068.0L1256.7 1065.4L1258.2 1062.8L1259.7 1060.2L1261.1 1057.6L1262.6 1054.9L1264.1 1052.3L1265.6 1049.7L1267.1 1047.1L1268.5 1044.5L1270.0 1041.8L1271.5 1039.2L1272.9 1036.6L1274.4 1033.9L1275.8 1031.2L1277.2 1028.6L1278.6 1025.9L1280.0 1023.2L1281.4 1020.5L1282.7 1017.7L1284.1 1015.0L1285.3 1012.2L1286.6 1009.5L1287.9 1006.7L1289.1 1003.9L1290.3 1001.0L1291.4 998.2L1292.5 995.3L1293.6 992.5L1294.6 989.6L1295.6 986.7L1296.5 983.8L1297.5 980.9L1298.4 978.0L1299.3 975.1L1300.1 972.3L1301.0 969.4L1301.8 966.5L1302.7 963.6L1303.5 960.7L1304.3 957.8L1305.1 955.0L1306.0 952.1L1306.8 949.2L1307.7 946.4L1308.5 943.5L1309.4 940.6L1310.3 937.8L1311.2 934.9L1312.0 932.1L1313.0 929.3L1313.9 926.4L1314.8 923.6L1315.7 920.8L1316.7 917.9L1317.6 915.1L1318.6 912.3L1319.5 909.5L1320.5 906.7L1321.5 903.9L1322.5 901.1L1323.5 898.3L1324.6 895.5L1325.6 892.7L1326.7 889.9L1327.8 887.1L1328.9 884.4L1330.0 881.6L1331.1 878.9L1332.2 876.1L1333.4 873.4L1334.5 870.6L1335.7 867.9L1336.9 865.2L1338.1 862.5L1339.3 859.8L1340.6 857.1L1341.8 854.4L1343.1 851.7L1344.4 849.0L1345.7 846.4L1347.1 843.7L1348.4 841.1L1349.8 838.4L1351.1 835.8L1352.5 833.1L1353.9 830.5L1355.3 827.8L1356.7 825.2L1358.1 822.5L1359.5 819.9L1360.9 817.2L1362.3 814.6L1363.7 811.9L1365.1 809.2L1366.5 806.5L1367.9 803.8L1369.3 801.2L1370.6 798.4L1372.0 795.7L1373.3 793.0L1374.6 790.3L1375.9 787.5L1377.2 784.7L1378.4 781.9L1379.6 779.2L1380.8 776.3L1381.9 773.5L1383.1 770.7L1384.2 767.9L1385.2 765.1L1386.3 762.3L1387.4 759.5L1388.4 756.7L1389.5 753.9L1390.6 751.1L1391.7 748.4L1392.8 745.7L1393.9 742.9L1395.1 740.2L1396.3 737.5L1397.5 734.8L1398.7 732.1L1399.9 729.4L1401.2 726.7L1402.5 724.1L1403.8 721.4L1405.1 718.7L1406.5 716.1L1407.8 713.4L1409.2 710.8L1410.6 708.1L1412.0 705.5L1413.4 702.9L1414.8 700.2L1416.2 697.6L1417.6 695.0L1419.1 692.4L1420.5 689.7L1422.0 687.1L1423.4 684.5L1424.9 681.9L1426.3 679.2L1427.8 676.6L1429.2 674.0L1430.7 671.3L1432.1 668.7L1433.6 666.1L1435.0 663.4L1436.4 660.8L1437.9 658.1L1439.3 655.5L1440.7 652.8L1442.1 650.1L1443.5 647.4L1444.9 644.7L1446.2 642.0L1447.6 639.3L1448.9 636.6L1450.2 633.9L1451.5 631.2L1452.8 628.5L1454.1 625.8L1455.4 623.0L1456.7 620.3L1457.9 617.6L1459.2 614.8L1460.5 612.1L1461.7 609.4L1463.0 606.7L1464.2 603.9L1465.5 601.2L1466.7 598.5L1468.0 595.8L1469.2 593.0L1470.5 590.3L1471.7 587.6L1473.0 584.9L1474.2 582.2L1475.5 579.5L1476.8 576.8L1478.1 574.1L1479.3 571.4L1480.6 568.7L1482.0 566.1L1483.3 563.4L1484.6 560.7L1486.0 558.1L1487.3 555.5L1488.7 552.8L1490.1 550.2L1491.5 547.6L1492.9 545.1L1494.4 542.5L1495.9 540.0L1497.4 537.4L1499.0 534.9L1500.5 532.5L1502.1 530.0L1503.8 527.6L1505.5 525.2L1507.2 522.8L1508.9 520.5L1510.7 518.2L1512.6 515.9L1514.5 513.6L1516.4 511.4L1518.4 509.2L1520.3 507.0L1522.4 504.8L1524.4 502.7L1526.5 500.5L1528.6 498.4L1530.7 496.3L1532.8 494.2L1535.0 492.2L1537.1 490.1L1539.3 488.0L1541.4 485.9L1543.5 483.7L1545.7 481.6L1547.8 479.5L1549.9 477.4L1552.1 475.3L1554.2 473.2L1556.3 471.1L1558.5 469.0L1560.6 466.9L1562.8 464.8L1564.9 462.8L1567.1 460.8L1569.3 458.7L1571.5 456.7L1573.7 454.8L1575.9 452.8L1578.2 450.9L1580.4 449.0L1582.7 447.1L1585.0 445.3L1587.3 443.5L1589.7 441.7L1592.1 439.9L1594.5 438.2L1596.9 436.5L1599.3 434.9L1601.8 433.3L1604.2 431.7L1606.7 430.1L1609.3 428.6L1611.8 427.1L1614.3 425.7L1616.9 424.3L1619.5 422.9L1622.1 421.5L1624.7 420.2L1627.4 418.9L1630.0 417.6L1632.7 416.4L1635.4 415.2L1638.1 414.0L1640.8 412.9L1643.5 411.7L1646.3 410.6L1649.1 409.5L1651.8 408.4L1654.6 407.3L1657.4 406.2L1660.2 405.1L1663.0 403.9L1665.8 402.8L1668.6 401.6L1671.4 400.4L1674.2 399.1L1676.9 397.8L1679.7 396.5L1682.4 395.1L1685.1 393.7L1687.8 392.4L1690.5 391.0L1693.1 389.8L1695.7 388.6L1698.3 387.6L1700.9 386.8L1703.5 386.1L1706.0 385.7L1708.5 385.5L1711.0 385.4L1713.4 385.6L1715.8 385.9L1718.2 386.5L1720.5 387.2L1722.8 388.2L1725.0 389.4L1726.8 391.3L1728.2 393.5L1729.6 395.9L1730.9 398.3L1732.2 400.8L1733.4 403.4L1734.6 406.0L1735.8 408.7L1737.0 411.4L1738.2 414.2L1739.3 416.9L1740.5 419.6L1741.6 422.4L1742.7 425.1L1743.8 427.9L1744.9 430.7L1746.0 433.4L1747.0 436.2L1748.1 439.0L1749.1 441.8L1750.1 444.6L1751.1 447.4L1752.1 450.2L1753.0 453.0L1754.0 455.8L1754.9 458.6L1755.8 461.5L1756.7 464.3L1757.6 467.1L1758.5 470.0L1759.3 472.8L1760.2 475.7L1761.0 478.5L1761.8 481.4L1762.6 484.3L1763.4 487.1L1764.2 490.0L1765.0 492.9L1765.8 495.8L1766.5 498.6L1767.2 501.5L1768.0 504.4L1768.7 507.3L1769.4 510.2L1770.1 513.1L1770.7 516.0L1771.4 518.9L1772.1 521.8L1772.7 524.7L1773.4 527.6L1774.0 530.6L1774.6 533.5L1775.2 536.4L1775.8 539.3L1776.4 542.2L1777.0 545.2L1777.6 548.1L1778.2 551.0L1778.7 554.0L1779.3 556.9L1779.9 559.8L1780.4 562.8L1780.9 565.7L1781.5 568.6L1782.0 571.6L1782.5 574.5L1783.1 577.5L1783.6 580.4L1784.1 583.4L1784.6 586.3L1785.1 589.3L1785.6 592.2L1786.1 595.2L1786.6 598.1L1787.1 601.1L1787.6 604.0L1788.0 607.0L1788.5 609.9L1789.0 612.9L1789.5 615.9L1790.0 618.8L1790.4 621.8L1790.9 624.7L1791.4 627.7L1791.9 630.6L1792.3 633.6L1792.8 636.6L1793.3 639.5L1793.8 642.5L1794.2 645.4L1794.7 648.4L1795.2 651.4L1795.6 654.3L1796.1 657.3L1796.6 660.2L1797.0 663.2L1797.5 666.2L1797.9 669.1L1798.4 672.1L1798.9 675.1L1799.3 678.0L1799.8 681.0L1800.2 683.9L1800.7 686.9L1801.1 689.9L1801.6 692.8L1802.0 695.8L1802.5 698.8L1802.9 701.7L1803.4 704.7L1803.8 707.6L1804.2 710.6L1804.7 713.6L1805.1 716.5L1805.5 719.5L1806.0 722.5L1806.4 725.4L1806.8 728.4L1807.3 731.4L1807.7 734.3L1808.1 737.3L1808.5 740.3L1809.0 743.2L1809.4 746.2L1809.8 749.2L1810.2 752.1L1810.6 755.1L1811.1 758.1L1811.5 761.0L1811.9 764.0L1812.3 767.0L1812.7 769.9L1813.1 772.9L1813.5 775.9L1813.9 778.8L1814.3 781.8L1814.7 784.8L1815.1 787.7L1815.5 790.7L1815.9 793.7L1816.2 796.6L1816.6 799.6L1817.0 802.6L1817.4 805.6L1817.8 808.5L1818.1 811.5L1818.5 814.5L1818.9 817.4L1819.2 820.4L1819.6 823.4L1820.0 826.4L1820.3 829.3L1820.7 832.3L1821.1 835.3L1821.4 838.3L1821.8 841.2L1822.1 844.2L1822.5 847.2L1822.8 850.2L1823.2 853.1L1823.5 856.1L1823.9 859.1L1824.2 862.1L1824.6 865.0L1824.9 868.0L1825.3 871.0L1825.6 874.0L1825.9 876.9L1826.3 879.9L1826.6 882.9L1826.9 885.9L1827.3 888.9L1827.6 891.8L1827.9 894.8L1828.3 897.8L1828.6 900.8L1828.9 903.8L1829.3 906.7L1829.6 909.7L1829.9 912.7L1830.2 915.7L1830.6 918.7L1830.9 921.6L1831.2 924.6L1831.5 927.6L1831.8 930.6L1832.2 933.6L1832.5 936.5L1832.8 939.5L1833.1 942.5L1833.4 945.5L1833.7 948.5L1834.1 951.4L1834.4 954.4L1834.7 957.4L1835.0 960.4L1835.3 963.4L1835.6 966.3L1835.9 969.3L1836.3 972.3L1836.6 975.3L1836.9 978.3L1837.2 981.3L1837.5 984.2L1837.8 987.2L1838.1 990.2L1838.4 993.2L1838.8 996.2L1839.1 999.2L1839.4 1002.1L1839.7 1005.1L1840.0 1008.1L1840.3 1011.1L1840.6 1014.1L1840.9 1017.1L1841.3 1020.0L1841.6 1023.0L1841.9 1026.0L1842.2 1029.0L1842.5 1032.0L1842.8 1034.9L1843.1 1037.9L1843.5 1040.9L1843.8 1043.9L1844.1 1046.9L1844.4 1049.9L1844.7 1052.8L1845.0 1055.8L1845.4 1058.8L1845.7 1061.8L1846.0 1064.8L1846.3 1067.8L1846.7 1070.7L1847.0 1073.7L1847.3 1076.7L1847.6 1079.7L1847.9 1082.7L1848.3 1085.7L1848.6 1088.6L1848.9 1091.6L1849.3 1094.6L1849.6 1097.6L1849.9 1100.6L1850.3 1103.6L1850.6 1106.5L1850.9 1109.5L1851.3 1112.5L1851.6 1115.5L1852.0 1118.5L1852.3 1121.4L1852.6 1124.4L1853.0 1127.4L1853.3 1130.4L1853.7 1133.4L1854.0 1136.4L1854.4 1139.3L1854.7 1142.3L1855.1 1145.3L1855.4 1148.3L1855.8 1151.3L1856.2 1154.2L1856.5 1157.2L1856.9 1160.2L1857.2 1163.2L1857.6 1166.2L1858.0 1169.1L1858.3 1172.1L1858.7 1175.1L1859.1 1178.1L1859.5 1181.1L1859.8 1184.0L1860.2 1187.0L1860.6 1190.0L1861.0 1193.0L1861.4 1195.9L1861.8 1198.9L1862.1 1201.9L1862.5 1204.9L1862.9 1207.8L1863.3 1210.8L1863.7 1213.8L1864.1 1216.8L1864.5 1219.7L1864.9 1222.7L1865.3 1225.7L1865.7 1228.7L1866.1 1231.6L1866.5 1234.6L1866.9 1237.6L1867.3 1240.6L1867.7 1243.5L1868.1 1246.5L1868.5 1249.5L1868.9 1252.5L1869.3 1255.4L1869.8 1258.4L1870.2 1261.4L1870.6 1264.4L1871.0 1267.3L1871.4 1270.3L1871.8 1273.3L1872.2 1276.2L1872.7 1279.2L1873.1 1282.2L1873.5 1285.1L1873.9 1288.1L1874.3 1291.1L1874.7 1294.1L1875.2 1297.0L1875.6 1300.0L1876.0 1303.0L1876.4 1305.9L1876.9 1308.9L1877.3 1311.9L1877.7 1314.9L1878.1 1317.8L1878.6 1320.8L1879.0 1323.8L1879.4 1326.7L1879.8 1329.7L1880.3 1332.7L1880.7 1335.6L1881.1 1338.6L1881.5 1341.6L1882.0 1344.5L1882.4 1347.5L1882.8 1350.5L1883.2 1353.4L1883.7 1356.4L1884.1 1359.4L1884.5 1362.4L1884.9 1365.3L1885.4 1368.3L1885.8 1371.3L1886.3 1374.3L1886.7 1377.2L1887.2 1380.2L1887.6 1383.2L1888.1 1386.1L1888.6 1389.1L1889.1 1392.1L1889.5 1395.1L1890.1 1398.0L1890.6 1401.0L1891.1 1404.0L1891.6 1407.0L1892.2 1409.9L1892.7 1412.9L1893.3 1415.9L1893.9 1418.8L1894.5 1421.8L1895.1 1424.8L1895.8 1427.7L1896.4 1430.7L1897.1 1433.6L1897.8 1436.6L1898.5 1439.5L1899.2 1442.5L1899.9 1445.4L1900.7 1448.3L1901.5 1451.3L1902.3 1454.2L1903.1 1457.1L1904.0 1460.1L1904.9 1463.0L1905.8 1465.9L1906.8 1468.8L1907.9 1471.7L1909.0 1474.6L1910.2 1477.5L1911.5 1480.3L1912.8 1483.1L1914.2 1485.9L1915.7 1488.7L1917.4 1491.4L1919.1 1494.0L1920.9 1496.6L1922.9 1499.1L1925.0 1501.5L1927.2 1503.8L1929.5 1506.0L1931.7 1508.3L1934.0 1510.6L1936.5 1512.7L1939.1 1514.6L1941.8 1516.4L1944.7 1518.0L1947.6 1519.5L1950.7 1520.7L1953.8 1521.8L1957.5 1522.8L1960.9 1522.8L1964.0 1522.8L1967.0 1522.8L1970.0 1522.8L1973.0 1522.8L1976.0 1522.8L1979.0 1522.8L1982.0 1522.8L1985.0 1522.8L1988.0 1522.8L1991.0 1522.8L1994.0 1522.8L1997.0 1522.8L2000.0 1522.8L2003.0 1522.8L2006.0 1522.8L2009.0 1522.8L2012.0 1522.8L2015.0 1522.8L2018.0 1522.8L2021.0 1522.8L2024.0 1522.8L2027.0 1522.8L2030.0 1522.8L2033.0 1522.8L2036.0 1522.8L2039.0 1522.8L2042.0 1522.8L2045.0 1522.8L2048.0 1522.8L2051.0 1522.8L2054.0 1522.8L2057.0 1522.8L2060.0 1522.8L2063.0 1522.8L2063.0 1512.3L2060.0 1512.3L2057.0 1512.3L2054.0 1512.3L2051.0 1512.3L2048.0 1512.3L2045.0 1512.3L2042.0 1512.3L2039.0 1512.3L2036.0 1512.3L2033.0 1512.3L2030.0 1512.3L2027.0 1512.3L2024.0 1512.3L2021.0 1512.3L2018.0 1512.3L2015.0 1512.3L2012.0 1512.3L2009.0 1512.3L2006.0 1512.3L2003.0 1512.3L2000.0 1512.3L1997.0 1512.3L1994.0 1512.3L1991.0 1512.3L1988.0 1512.3L1985.0 1512.3L1982.0 1512.3L1979.0 1512.3L1976.0 1512.3L1973.0 1512.3L1970.0 1512.3L1967.0 1512.3L1964.0 1512.3L1961.2 1512.4L1958.6 1512.4L1956.4 1512.0L1953.9 1511.3L1951.3 1510.4L1948.7 1509.5L1946.3 1508.3L1943.8 1507.1L1941.4 1505.7L1939.1 1504.2L1936.9 1502.5L1934.7 1500.7L1932.9 1498.6L1931.2 1496.4L1929.6 1494.1L1928.0 1491.7L1926.6 1489.3L1925.2 1486.8L1923.9 1484.3L1922.6 1481.7L1921.4 1479.1L1920.3 1476.4L1919.2 1473.8L1918.2 1471.1L1917.2 1468.3L1916.2 1465.6L1915.3 1462.8L1914.5 1460.0L1913.6 1457.2L1912.8 1454.4L1912.0 1451.5L1911.3 1448.7L1910.5 1445.8L1909.8 1442.9L1909.1 1440.0L1908.4 1437.1L1907.7 1434.3L1907.1 1431.4L1906.4 1428.5L1905.8 1425.6L1905.2 1422.6L1904.6 1419.7L1904.0 1416.8L1903.4 1413.9L1902.9 1411.0L1902.3 1408.0L1901.8 1405.1L1901.3 1402.2L1900.8 1399.2L1900.3 1396.3L1899.8 1393.4L1899.3 1390.4L1898.8 1387.5L1898.3 1384.5L1897.9 1381.6L1897.4 1378.6L1897.0 1375.7L1896.5 1372.7L1896.1 1369.8L1895.7 1366.8L1895.2 1363.8L1894.8 1360.9L1894.4 1357.9L1893.9 1354.9L1893.5 1352.0L1893.1 1349.0L1892.7 1346.0L1892.2 1343.1L1891.8 1340.1L1891.4 1337.1L1891.0 1334.2L1890.5 1331.2L1890.1 1328.2L1889.7 1325.3L1889.3 1322.3L1888.8 1319.3L1888.4 1316.4L1888.0 1313.4L1887.6 1310.4L1887.1 1307.4L1886.7 1304.5L1886.3 1301.5L1885.9 1298.5L1885.5 1295.6L1885.0 1292.6L1884.6 1289.6L1884.2 1286.7L1883.8 1283.7L1883.4 1280.7L1883.0 1277.8L1882.5 1274.8L1882.1 1271.8L1881.7 1268.9L1881.3 1265.9L1880.9 1262.9L1880.5 1260.0L1880.1 1257.0L1879.6 1254.0L1879.2 1251.0L1878.8 1248.1L1878.4 1245.1L1878.0 1242.1L1877.6 1239.2L1877.2 1236.2L1876.8 1233.2L1876.4 1230.3L1876.0 1227.3L1875.6 1224.3L1875.2 1221.3L1874.8 1218.4L1874.4 1215.4L1874.0 1212.4L1873.6 1209.5L1873.2 1206.5L1872.9 1203.5L1872.5 1200.6L1872.1 1197.6L1871.7 1194.6L1871.3 1191.6L1870.9 1188.7L1870.6 1185.7L1870.2 1182.7L1869.8 1179.7L1869.4 1176.8L1869.1 1173.8L1868.7 1170.8L1868.3 1167.9L1868.0 1164.9L1867.6 1161.9L1867.2 1158.9L1866.9 1156.0L1866.5 1153.0L1866.1 1150.0L1865.8 1147.0L1865.4 1144.1L1865.1 1141.1L1864.7 1138.1L1864.4 1135.1L1864.0 1132.2L1863.7 1129.2L1863.3 1126.2L1863.0 1123.2L1862.7 1120.3L1862.3 1117.3L1862.0 1114.3L1861.6 1111.3L1861.3 1108.3L1861.0 1105.4L1860.6 1102.4L1860.3 1099.4L1860.0 1096.4L1859.6 1093.5L1859.3 1090.5L1859.0 1087.5L1858.7 1084.5L1858.3 1081.5L1858.0 1078.6L1857.7 1075.6L1857.4 1072.6L1857.0 1069.6L1856.7 1066.6L1856.4 1063.7L1856.1 1060.7L1855.7 1057.7L1855.4 1054.7L1855.1 1051.7L1854.8 1048.8L1854.5 1045.8L1854.2 1042.8L1853.8 1039.8L1853.5 1036.8L1853.2 1033.9L1852.9 1030.9L1852.6 1027.9L1852.3 1024.9L1852.0 1021.9L1851.6 1018.9L1851.3 1016.0L1851.0 1013.0L1850.7 1010.0L1850.4 1007.0L1850.1 1004.0L1849.8 1001.0L1849.5 998.1L1849.1 995.1L1848.8 992.1L1848.5 989.1L1848.2 986.1L1847.9 983.2L1847.6 980.2L1847.3 977.2L1847.0 974.2L1846.6 971.2L1846.3 968.2L1846.0 965.3L1845.7 962.3L1845.4 959.3L1845.1 956.3L1844.8 953.3L1844.4 950.3L1844.1 947.4L1843.8 944.4L1843.5 941.4L1843.2 938.4L1842.9 935.4L1842.5 932.4L1842.2 929.5L1841.9 926.5L1841.6 923.5L1841.3 920.5L1840.9 917.5L1840.6 914.5L1840.3 911.6L1840.0 908.6L1839.6 905.6L1839.3 902.6L1839.0 899.6L1838.6 896.6L1838.3 893.7L1838.0 890.7L1837.7 887.7L1837.3 884.7L1837.0 881.7L1836.6 878.8L1836.3 875.8L1836.0 872.8L1835.6 869.8L1835.3 866.8L1834.9 863.8L1834.6 860.9L1834.2 857.9L1833.9 854.9L1833.6 851.9L1833.2 848.9L1832.8 846.0L1832.5 843.0L1832.1 840.0L1831.8 837.0L1831.4 834.0L1831.1 831.1L1830.7 828.1L1830.3 825.1L1830.0 822.1L1829.6 819.1L1829.2 816.2L1828.8 813.2L1828.5 810.2L1828.1 807.2L1827.7 804.2L1827.3 801.3L1826.9 798.3L1826.6 795.3L1826.2 792.3L1825.8 789.4L1825.4 786.4L1825.0 783.4L1824.6 780.4L1824.2 777.4L1823.8 774.5L1823.4 771.5L1823.0 768.5L1822.6 765.5L1822.2 762.6L1821.8 759.6L1821.4 756.6L1820.9 753.6L1820.5 750.7L1820.1 747.7L1819.7 744.7L1819.3 741.8L1818.8 738.8L1818.4 735.8L1818.0 732.8L1817.6 729.9L1817.1 726.9L1816.7 723.9L1816.3 721.0L1815.8 718.0L1815.4 715.0L1814.9 712.1L1814.5 709.1L1814.1 706.1L1813.6 703.1L1813.2 700.2L1812.7 697.2L1812.3 694.2L1811.8 691.3L1811.4 688.3L1810.9 685.3L1810.5 682.4L1810.0 679.4L1809.6 676.4L1809.1 673.5L1808.7 670.5L1808.2 667.5L1807.7 664.6L1807.3 661.6L1806.8 658.6L1806.3 655.7L1805.9 652.7L1805.4 649.8L1804.9 646.8L1804.5 643.8L1804.0 640.9L1803.5 637.9L1803.1 634.9L1802.6 632.0L1802.1 629.0L1801.6 626.0L1801.2 623.1L1800.7 620.1L1800.2 617.2L1799.7 614.2L1799.2 611.2L1798.8 608.3L1798.3 605.3L1797.8 602.3L1797.3 599.4L1796.8 596.4L1796.3 593.5L1795.8 590.5L1795.3 587.5L1794.8 584.6L1794.3 581.6L1793.8 578.6L1793.2 575.7L1792.7 572.7L1792.2 569.8L1791.6 566.8L1791.1 563.8L1790.6 560.9L1790.0 557.9L1789.4 555.0L1788.9 552.0L1788.3 549.0L1787.7 546.1L1787.1 543.1L1786.5 540.2L1785.9 537.2L1785.3 534.3L1784.7 531.3L1784.0 528.4L1783.4 525.4L1782.7 522.5L1782.1 519.6L1781.4 516.6L1780.7 513.7L1780.0 510.7L1779.3 507.8L1778.6 504.9L1777.8 502.0L1777.1 499.0L1776.3 496.1L1775.6 493.2L1774.8 490.3L1774.0 487.3L1773.2 484.4L1772.4 481.5L1771.5 478.6L1770.7 475.7L1769.8 472.8L1769.0 469.9L1768.1 467.0L1767.2 464.2L1766.3 461.3L1765.3 458.4L1764.4 455.5L1763.4 452.7L1762.4 449.8L1761.4 446.9L1760.4 444.1L1759.4 441.2L1758.4 438.4L1757.3 435.6L1756.2 432.7L1755.1 429.9L1754.0 427.1L1752.9 424.3L1751.7 421.5L1750.6 418.7L1749.4 415.9L1748.2 413.1L1747.0 410.3L1745.8 407.6L1744.5 404.8L1743.2 402.0L1741.9 399.3L1740.4 396.5L1738.8 393.7L1737.0 391.1L1734.9 388.5L1732.6 386.1L1730.2 383.6L1727.7 381.1L1724.8 379.0L1721.7 377.3L1718.3 376.1L1714.8 375.3L1711.3 374.9L1707.8 375.0L1704.3 375.5L1701.0 376.3L1697.8 377.3L1694.7 378.5L1691.8 379.9L1689.0 381.2L1686.3 382.6L1683.6 384.0L1680.9 385.4L1678.3 386.7L1675.6 387.9L1672.9 389.2L1670.2 390.4L1667.5 391.5L1664.8 392.7L1662.1 393.8L1659.3 394.9L1656.6 396.0L1653.8 397.1L1651.0 398.2L1648.2 399.4L1645.4 400.5L1642.6 401.6L1639.8 402.8L1637.0 404.0L1634.2 405.2L1631.5 406.5L1628.7 407.7L1625.9 409.1L1623.2 410.4L1620.5 411.8L1617.8 413.3L1615.1 414.8L1612.4 416.3L1609.8 417.8L1607.2 419.4L1604.6 421.0L1602.0 422.6L1599.4 424.3L1596.9 426.0L1594.4 427.8L1591.9 429.5L1589.5 431.4L1587.0 433.2L1584.6 435.1L1582.2 437.0L1579.9 438.9L1577.6 440.9L1575.3 442.9L1573.0 444.9L1570.7 446.9L1568.5 449.0L1566.2 451.0L1564.0 453.1L1561.9 455.2L1559.7 457.3L1557.5 459.4L1555.4 461.5L1553.2 463.6L1551.1 465.7L1548.9 467.9L1546.8 470.0L1544.7 472.1L1542.6 474.2L1540.4 476.3L1538.3 478.4L1536.2 480.5L1534.0 482.6L1531.9 484.7L1529.7 486.8L1527.6 488.9L1525.5 491.0L1523.3 493.2L1521.2 495.3L1519.0 497.4L1516.9 499.6L1514.8 501.8L1512.7 504.0L1510.6 506.2L1508.5 508.4L1506.5 510.7L1504.5 513.0L1502.5 515.4L1500.6 517.7L1498.7 520.2L1496.8 522.6L1495.0 525.1L1493.3 527.6L1491.6 530.1L1489.9 532.7L1488.2 535.3L1486.6 537.9L1485.1 540.5L1483.5 543.1L1482.0 545.8L1480.6 548.4L1479.1 551.1L1477.7 553.8L1476.3 556.5L1474.9 559.2L1473.5 561.9L1472.2 564.6L1470.9 567.3L1469.5 570.0L1468.2 572.7L1466.9 575.4L1465.6 578.1L1464.3 580.9L1463.1 583.6L1461.8 586.3L1460.5 589.0L1459.3 591.8L1458.0 594.5L1456.8 597.2L1455.5 600.0L1454.3 602.7L1453.0 605.4L1451.8 608.1L1450.5 610.9L1449.3 613.6L1448.0 616.3L1446.8 619.0L1445.5 621.7L1444.2 624.4L1443.0 627.1L1441.7 629.8L1440.4 632.5L1439.1 635.2L1437.8 637.8L1436.5 640.5L1435.1 643.2L1433.8 645.8L1432.4 648.5L1431.1 651.1L1429.7 653.8L1428.3 656.4L1426.9 659.0L1425.5 661.7L1424.0 664.3L1422.6 666.9L1421.2 669.5L1419.7 672.2L1418.3 674.8L1416.8 677.4L1415.4 680.0L1413.9 682.7L1412.5 685.3L1411.0 687.9L1409.6 690.6L1408.1 693.2L1406.7 695.8L1405.2 698.5L1403.8 701.1L1402.4 703.8L1401.0 706.5L1399.6 709.1L1398.2 711.8L1396.8 714.5L1395.4 717.2L1394.1 719.9L1392.7 722.6L1391.4 725.3L1390.1 728.1L1388.8 730.8L1387.5 733.6L1386.3 736.3L1385.0 739.1L1383.8 741.9L1382.7 744.7L1381.5 747.5L1380.4 750.4L1379.3 753.2L1378.2 756.0L1377.1 758.8L1376.1 761.6L1375.0 764.4L1373.9 767.2L1372.9 769.9L1371.8 772.7L1370.7 775.4L1369.5 778.1L1368.4 780.8L1367.2 783.6L1366.0 786.2L1364.7 788.9L1363.5 791.6L1362.2 794.3L1360.9 797.0L1359.6 799.6L1358.2 802.3L1356.9 804.9L1355.5 807.6L1354.1 810.2L1352.7 812.9L1351.3 815.5L1349.9 818.2L1348.5 820.8L1347.1 823.5L1345.7 826.1L1344.3 828.8L1342.9 831.4L1341.5 834.1L1340.1 836.8L1338.7 839.5L1337.3 842.2L1336.0 844.9L1334.6 847.6L1333.3 850.3L1332.0 853.0L1330.7 855.8L1329.4 858.5L1328.1 861.3L1326.9 864.0L1325.7 866.8L1324.5 869.6L1323.3 872.4L1322.1 875.1L1320.9 877.9L1319.8 880.7L1318.7 883.5L1317.6 886.4L1316.5 889.2L1315.4 892.0L1314.3 894.8L1313.3 897.7L1312.2 900.5L1311.2 903.3L1310.2 906.2L1309.2 909.0L1308.2 911.9L1307.2 914.7L1306.3 917.6L1305.3 920.5L1304.4 923.3L1303.4 926.2L1302.5 929.1L1301.6 931.9L1300.7 934.8L1299.8 937.7L1298.9 940.6L1298.0 943.5L1297.2 946.4L1296.3 949.2L1295.5 952.1L1294.6 955.0L1293.8 957.9L1293.0 960.8L1292.1 963.7L1291.3 966.5L1290.5 969.4L1289.6 972.2L1288.8 975.1L1287.9 977.9L1287.0 980.8L1286.1 983.6L1285.2 986.4L1284.2 989.2L1283.2 991.9L1282.2 994.7L1281.2 997.4L1280.1 1000.2L1279.0 1002.9L1277.8 1005.6L1276.7 1008.3L1275.4 1011.0L1274.2 1013.6L1272.9 1016.3L1271.6 1019.0L1270.3 1021.6L1269.0 1024.3L1267.6 1026.9L1266.2 1029.5L1264.8 1032.2L1263.4 1034.8L1262.0 1037.4L1260.5 1040.0L1259.1 1042.6L1257.6 1045.2L1256.1 1047.8L1254.7 1050.4L1253.2 1053.1L1251.7 1055.7L1250.2 1058.3L1248.7 1060.9L1247.3 1063.5L1245.8 1066.2L1244.3 1068.8L1242.9 1071.4L1241.4 1074.1L1240.0 1076.7L1238.6 1079.4L1237.2 1082.1L1235.8 1084.7L1234.4 1087.4L1233.0 1090.1L1231.6 1092.8L1230.3 1095.5L1229.0 1098.3L1227.7 1101.0L1226.4 1103.7L1225.1 1106.5L1223.8 1109.3L1222.6 1112.0L1221.4 1114.8L1220.2 1117.6L1219.0 1120.4L1217.9 1123.2L1216.8 1126.0L1215.6 1128.8L1214.5 1131.6L1213.5 1134.4L1212.4 1137.2L1211.3 1140.0L1210.2 1142.8L1209.1 1145.6L1208.1 1148.4L1207.0 1151.2L1205.9 1154.0L1204.8 1156.7L1203.7 1159.5L1202.6 1162.2L1201.4 1164.9L1200.3 1167.7L1199.1 1170.4L1197.9 1173.1L1196.6 1175.7L1195.4 1178.4L1194.1 1181.1L1192.8 1183.7L1191.4 1186.3L1190.0 1188.9L1188.6 1191.5L1187.2 1194.0L1185.7 1196.6L1184.2 1199.1L1182.7 1201.7L1181.1 1204.2L1179.5 1206.7L1177.9 1209.2L1176.3 1211.7L1174.6 1214.1L1173.0 1216.6L1171.3 1219.0L1169.6 1221.5L1167.9 1223.9L1166.1 1226.3L1164.4 1228.7L1162.6 1231.2L1160.9 1233.6L1159.1 1236.0L1157.3 1238.3L1155.5 1240.7L1153.7 1243.1L1151.9 1245.5L1150.1 1247.9L1148.3 1250.3L1146.4 1252.7L1144.6 1255.0L1142.8 1257.4L1141.0 1259.8L1139.2 1262.2L1137.3 1264.6L1135.5 1267.0L1133.7 1269.4L1131.9 1271.8L1130.1 1274.2L1128.3 1276.7L1126.5 1279.1L1124.8 1281.5L1123.0 1283.9L1121.2 1286.4L1119.5 1288.8L1117.7 1291.2L1116.0 1293.7L1114.2 1296.1L1112.5 1298.6L1110.7 1301.0L1109.0 1303.4L1107.2 1305.9L1105.5 1308.3L1103.7 1310.7L1102.0 1313.2L1100.2 1315.6L1098.5 1318.0L1096.7 1320.4L1095.0 1322.8L1093.2 1325.3L1091.4 1327.7L1089.7 1330.0L1087.9 1332.4L1086.1 1334.8L1084.3 1337.2L1082.5 1339.6L1080.6 1341.9L1078.8 1344.3L1077.0 1346.6L1075.1 1348.9L1073.3 1351.3L1071.4 1353.6L1069.5 1355.9L1067.6 1358.2L1065.6 1360.4L1063.7 1362.7L1061.8 1365.0L1059.8 1367.3L1057.9 1369.6L1055.9 1371.8L1053.9 1374.1L1052.0 1376.4L1050.1 1378.8L1048.1 1381.1L1046.2 1383.4L1044.3 1385.8L1042.4 1388.1L1040.6 1390.5L1038.7 1392.8L1036.9 1395.2L1035.0 1397.5L1033.2 1399.9L1031.3 1402.2L1029.5 1404.4L1027.6 1406.7L1025.7 1408.9L1023.7 1411.1L1021.7 1413.2L1019.6 1415.2L1017.4 1417.0L1015.2 1418.8L1012.9 1420.5L1010.5 1422.1L1008.1 1423.6L1005.7 1425.1L1003.1 1426.4L1000.6 1427.8L998.0 1429.1L995.3 1430.3L992.7 1431.6L990.0 1432.8L987.3 1434.1L984.5 1435.3L981.8 1436.6L979.1 1437.9L976.4 1439.2L973.7 1440.5L971.0 1441.8L968.3 1443.1L965.5 1444.4L962.8 1445.7L960.1 1446.9L957.4 1448.2L954.7 1449.5L952.0 1450.8L949.3 1452.0L946.6 1453.3L943.9 1454.5L941.2 1455.7L938.5 1457.0L935.7 1458.2L933.0 1459.4L930.3 1460.6L927.5 1461.8L924.8 1462.9L922.0 1464.1L919.3 1465.3L916.5 1466.4L913.8 1467.5L911.0 1468.6L908.3 1469.8L905.5 1470.9L902.7 1471.9L899.9 1473.0L897.2 1474.1L894.4 1475.1L891.6 1476.2L888.8 1477.2L886.0 1478.2L883.2 1479.2L880.4 1480.2L877.6 1481.2L874.8 1482.2L871.9 1483.1L869.1 1484.1L866.3 1485.0L863.5 1485.9L860.6 1486.8L857.8 1487.7L854.9 1488.5L852.1 1489.4L849.2 1490.2L846.4 1491.1L843.5 1491.9L840.7 1492.6L837.8 1493.4L834.9 1494.2L832.0 1494.9L829.2 1495.7L826.3 1496.4L823.4 1497.1L820.5 1497.7L817.6 1498.4L814.7 1499.0L811.8 1499.6L808.9 1500.3L806.0 1500.8L803.1 1501.4L800.2 1502.0L797.3 1502.5L794.3 1503.0L791.4 1503.5L788.5 1504.0L785.5 1504.4L782.6 1504.8L779.7 1505.3L776.7 1505.7L773.8 1506.0L770.8 1506.4L767.9 1506.8L764.9 1507.1L762.0 1507.4L759.0 1507.7L756.1 1508.0L753.1 1508.3L750.2 1508.5L747.2 1508.8L744.2 1509.0L741.3 1509.2L738.3 1509.4L735.3 1509.6L732.4 1509.8L729.4 1509.9L726.4 1510.1L723.4 1510.2L720.5 1510.3L717.5 1510.4L714.5 1510.5L711.5 1510.6L708.6 1510.7L705.6 1510.8L702.6 1510.8L699.6 1510.8L696.6 1510.9L693.7 1510.9L690.7 1510.9L687.7 1510.9L684.7 1510.9L681.7 1510.9L678.7 1510.9L675.8 1510.8L672.8 1510.8L669.8 1510.8L666.8 1510.7L663.8 1510.6L660.8 1510.6L657.8 1510.5L654.9 1510.4L651.9 1510.3L648.9 1510.2L645.9 1510.1L642.9 1510.0L639.9 1509.9L636.9 1509.8L633.9 1509.7L630.9 1509.6L628.0 1509.5L625.0 1509.3L622.0 1509.2L619.0 1509.1L616.0 1508.9L613.0 1508.8L610.0 1508.7L607.0 1508.5L604.0 1508.4L601.0 1508.2L598.0 1508.1L595.0 1507.9L592.0 1507.8L589.1 1507.6L586.1 1507.5L583.1 1507.3L580.1 1507.2L577.1 1507.1L574.1 1506.9L571.1 1506.8L568.1 1506.6L565.1 1506.5L562.1 1506.3L559.1 1506.2L556.1 1506.1L553.1 1505.9L550.1 1505.8L547.1 1505.7L544.1 1505.6L541.1 1505.5L538.1 1505.4L535.1 1505.2L532.0 1505.1L529.0 1505.0L526.0 1504.9L523.0 1504.9L520.0 1504.8L517.0 1504.7L514.0 1504.6L511.0 1504.5L508.0 1504.4L505.0 1504.3L502.0 1504.3L499.0 1504.2L496.0 1504.1L493.0 1504.1L490.0 1504.0L487.0 1503.9L484.0 1503.9L481.0 1503.8L478.0 1503.8L475.0 1503.7L472.0 1503.7L469.0 1503.6L466.0 1503.6L463.0 1503.5L460.0 1503.5L457.0 1503.5L454.0 1503.4L451.0 1503.4L448.0 1503.4L445.0 1503.3L442.0 1503.3L439.0 1503.3L436.0 1503.2L433.0 1503.2L430.0 1503.2L427.0 1503.2L424.0 1503.1L421.0 1503.1L418.0 1503.1L415.0 1503.1L412.0 1503.1L409.0 1503.0L406.0 1503.0L403.0 1503.0L400.0 1503.0L397.0 1503.0L394.0 1503.0L391.0 1502.9L388.0 1502.9L385.0 1502.9L382.0 1502.9L379.0 1502.9L376.0 1502.9L373.0 1502.9L370.0 1502.9L367.0 1502.8L364.0 1502.8L361.0 1502.8L358.0 1502.8L355.0 1502.8L352.0 1502.8L349.0 1502.8L346.0 1502.8L343.0 1502.7L340.0 1502.7L337.0 1502.7L334.0 1502.7L331.0 1502.7L328.0 1502.7L325.0 1502.6L322.0 1502.6L319.0 1502.6L316.0 1502.6L313.0 1502.5L310.0 1502.5L307.0 1502.5L304.0 1502.5L301.0 1502.4L298.0 1502.4L295.0 1502.4L292.0 1502.3L289.0 1502.3L286.0 1502.3L283.1 1502.2L280.1 1502.2L277.1 1502.2L274.1 1502.1L271.1 1502.1L268.1 1502.0L265.1 1502.0L262.1 1501.9L259.1 1501.9L256.1 1501.8L253.1 1501.8Z" fill="#0000ff"/>
<path d="M253.1 1517.3L255.6 1517.2L258.2 1517.2L258.2 1506.7L255.6 1506.7L252.9 1506.8ZM271.2 1517.1L273.7 1517.1L276.2 1517.1L278.7 1517.1L281.2 1517.0L281.2 1506.5L278.7 1506.6L276.2 1506.6L273.7 1506.6L271.2 1506.6ZM296.2 1517.0L299.1 1517.0L302.0 1517.0L304.9 1517.0L307.7 1517.0L310.6 1517.0L313.5 1517.0L316.4 1517.0L319.3 1517.0L322.2 1517.0L325.0 1517.0L327.9 1517.0L330.8 1517.0L333.7 1517.0L333.7 1506.5L330.8 1506.5L327.9 1506.5L325.1 1506.5L322.2 1506.5L319.3 1506.5L316.4 1506.5L313.5 1506.5L310.6 1506.5L307.7 1506.5L304.8 1506.5L302.0 1506.5L299.1 1506.5L296.2 1506.5ZM346.7 1517.1L349.2 1517.1L351.7 1517.1L354.2 1517.1L356.7 1517.1L356.7 1506.6L354.2 1506.6L351.7 1506.6L349.2 1506.6L346.7 1506.6ZM371.7 1517.2L374.5 1517.3L377.4 1517.3L380.3 1517.3L383.2 1517.3L386.1 1517.4L389.0 1517.4L391.8 1517.4L394.7 1517.4L397.6 1517.5L400.5 1517.5L403.4 1517.5L406.3 1517.6L409.1 1517.6L409.3 1507.1L406.4 1507.1L403.5 1507.0L400.6 1507.0L397.7 1507.0L394.8 1506.9L391.9 1506.9L389.1 1506.9L386.2 1506.9L383.3 1506.8L380.4 1506.8L377.5 1506.8L374.6 1506.8L371.7 1506.7ZM422.1 1517.7L424.6 1517.8L427.1 1517.8L429.6 1517.8L432.1 1517.9L432.3 1507.4L429.8 1507.3L427.3 1507.3L424.8 1507.3L422.3 1507.2ZM447.1 1518.0L450.0 1518.1L452.9 1518.1L455.8 1518.2L458.7 1518.2L461.5 1518.2L464.4 1518.3L467.3 1518.3L470.2 1518.3L473.1 1518.4L476.0 1518.4L478.9 1518.5L481.7 1518.5L484.6 1518.5L484.8 1508.0L481.9 1508.0L479.0 1508.0L476.1 1507.9L473.2 1507.9L470.3 1507.8L467.5 1507.8L464.6 1507.8L461.7 1507.7L458.8 1507.7L455.9 1507.7L453.0 1507.6L450.1 1507.6L447.3 1507.5ZM497.6 1518.7L500.1 1518.7L502.6 1518.8L505.1 1518.8L507.6 1518.8L507.8 1508.3L505.3 1508.3L502.8 1508.3L500.3 1508.2L497.8 1508.2ZM522.6 1519.0L525.5 1519.1L528.4 1519.1L531.3 1519.1L534.2 1519.2L537.0 1519.2L539.9 1519.2L542.8 1519.3L545.7 1519.3L548.6 1519.3L551.5 1519.4L554.4 1519.4L557.2 1519.4L560.1 1519.5L560.2 1509.0L557.4 1508.9L554.5 1508.9L551.6 1508.9L548.7 1508.8L545.8 1508.8L542.9 1508.8L540.1 1508.7L537.2 1508.7L534.3 1508.7L531.4 1508.6L528.5 1508.6L525.6 1508.6L522.8 1508.5ZM573.1 1519.6L575.6 1519.6L578.1 1519.6L580.6 1519.7L583.1 1519.7L583.2 1509.2L580.7 1509.2L578.2 1509.1L575.7 1509.1L573.2 1509.1ZM598.1 1519.8L601.0 1519.8L603.9 1519.8L606.8 1519.9L609.7 1519.9L612.6 1519.9L615.5 1519.9L618.4 1519.9L621.2 1519.9L624.1 1519.9L627.0 1520.0L629.9 1520.0L632.8 1520.0L635.7 1520.0L635.7 1509.5L632.8 1509.5L629.9 1509.5L627.0 1509.5L624.2 1509.4L621.3 1509.4L618.4 1509.4L615.5 1509.4L612.6 1509.4L609.8 1509.4L606.9 1509.4L604.0 1509.3L601.1 1509.3L598.2 1509.3ZM648.7 1520.0L651.2 1520.0L653.7 1520.0L656.2 1520.0L658.7 1520.0L658.7 1509.5L656.2 1509.5L653.7 1509.5L651.2 1509.5L648.7 1509.5ZM673.7 1520.0L676.6 1520.0L679.5 1520.0L682.4 1519.9L685.2 1519.9L688.1 1519.9L691.0 1519.9L693.9 1519.9L696.8 1519.9L699.7 1519.8L702.6 1519.8L705.5 1519.8L708.3 1519.8L711.2 1519.7L711.1 1509.2L708.2 1509.3L705.4 1509.3L702.5 1509.3L699.6 1509.3L696.7 1509.4L693.8 1509.4L691.0 1509.4L688.1 1509.4L685.2 1509.4L682.3 1509.4L679.4 1509.5L676.5 1509.5L673.7 1509.5ZM745.8 1519.2L748.5 1519.2L751.3 1519.1L754.1 1519.1L756.9 1519.0L759.6 1519.0L762.4 1518.9L765.2 1518.9L768.0 1518.8L770.7 1518.7L773.5 1518.7L776.3 1518.6L779.1 1518.5L781.8 1518.4L781.5 1507.9L778.8 1508.0L776.0 1508.1L773.2 1508.2L770.5 1508.2L767.7 1508.3L764.9 1508.4L762.2 1508.4L759.4 1508.5L756.6 1508.5L753.9 1508.6L751.1 1508.6L748.3 1508.7L745.6 1508.7ZM797.4 1517.8L799.9 1517.7L802.4 1517.6L804.9 1517.4L807.5 1517.3L806.8 1506.8L804.4 1507.0L801.9 1507.1L799.4 1507.2L796.9 1507.3ZM822.0 1516.2L825.0 1516.0L827.9 1515.7L830.8 1515.4L833.8 1515.1L836.7 1514.8L839.6 1514.4L842.6 1514.1L845.5 1513.7L848.4 1513.2L851.4 1512.8L854.3 1512.3L857.2 1511.9L860.1 1511.4L858.3 1501.2L855.5 1501.7L852.7 1502.1L849.8 1502.5L847.0 1503.0L844.1 1503.4L841.2 1503.7L838.4 1504.1L835.5 1504.4L832.6 1504.7L829.8 1505.0L826.9 1505.3L824.0 1505.6L821.1 1505.8ZM875.0 1508.5L877.9 1507.9L880.7 1507.4L883.5 1506.8L886.3 1506.2L889.1 1505.7L891.9 1505.2L894.7 1504.7L897.5 1504.2L900.3 1503.7L903.1 1503.3L905.9 1502.9L908.7 1502.5L911.5 1502.2L914.2 1501.9L917.0 1501.6L919.8 1501.4L919.1 1491.0L916.2 1491.2L913.2 1491.5L910.3 1491.8L907.3 1492.2L904.4 1492.6L901.5 1493.0L898.6 1493.5L895.8 1494.0L892.9 1494.5L890.0 1495.0L887.2 1495.6L884.3 1496.1L881.5 1496.7L878.7 1497.3L875.8 1497.8L873.0 1498.4ZM933.5 1500.2L936.2 1499.8L938.8 1499.2L941.4 1498.5L944.0 1497.7L941.0 1488.1L938.8 1488.7L936.6 1489.2L934.3 1489.6L932.0 1489.9ZM963.2 1490.4L965.7 1489.6L968.2 1488.9L970.8 1488.3L973.4 1487.7L975.9 1487.2L978.6 1486.7L981.2 1486.3L983.8 1485.8L986.5 1485.4L989.2 1485.1L991.9 1484.7L994.6 1484.3L993.2 1474.0L990.5 1474.4L987.8 1474.8L985.0 1475.2L982.2 1475.6L979.5 1476.1L976.7 1476.6L973.9 1477.1L971.1 1477.7L968.3 1478.4L965.5 1479.2L962.8 1480.1L960.0 1481.0ZM1008.2 1482.3L1010.7 1481.9L1013.3 1481.4L1015.8 1480.8L1018.3 1480.2L1016.0 1470.3L1013.6 1470.8L1011.2 1471.3L1008.8 1471.7L1006.5 1472.1ZM1034.4 1475.5L1037.3 1474.5L1040.1 1473.5L1042.8 1472.4L1045.6 1471.4L1048.3 1470.3L1051.1 1469.2L1053.8 1468.1L1056.5 1467.0L1059.2 1465.9L1061.9 1464.7L1064.6 1463.5L1067.3 1462.4L1070.0 1461.2L1066.2 1452.4L1063.5 1453.5L1060.8 1454.7L1058.2 1455.8L1055.5 1456.9L1052.8 1458.0L1050.2 1459.1L1047.5 1460.2L1044.8 1461.2L1042.1 1462.2L1039.4 1463.2L1036.7 1464.2L1034.0 1465.1L1031.3 1466.0ZM1085.1 1454.4L1087.4 1453.4L1089.6 1452.3L1091.9 1451.3L1094.2 1450.2L1090.2 1441.6L1087.9 1442.6L1085.7 1443.6L1083.4 1444.7L1081.1 1445.7ZM1110.1 1442.9L1112.7 1441.7L1115.3 1440.6L1117.9 1439.4L1120.4 1438.3L1123.0 1437.1L1125.6 1436.0L1128.3 1434.8L1130.9 1433.7L1133.5 1432.6L1136.1 1431.5L1138.7 1430.4L1141.4 1429.2L1144.0 1428.1L1140.2 1419.3L1137.6 1420.4L1134.9 1421.5L1132.3 1422.6L1129.7 1423.7L1127.0 1424.9L1124.4 1426.0L1121.8 1427.2L1119.2 1428.3L1116.5 1429.5L1113.9 1430.7L1111.3 1431.9L1108.7 1433.0L1106.1 1434.2ZM1160.1 1420.9L1162.4 1419.8L1164.7 1418.7L1167.0 1417.6L1169.2 1416.5L1165.0 1408.1L1162.8 1409.1L1160.6 1410.2L1158.4 1411.2L1156.1 1412.3ZM1185.6 1407.2L1188.1 1405.6L1190.6 1403.9L1193.0 1402.2L1195.4 1400.5L1197.8 1398.7L1200.2 1396.9L1202.5 1395.1L1204.9 1393.3L1207.2 1391.4L1209.5 1389.6L1211.7 1387.7L1214.0 1385.8L1216.2 1383.8L1218.4 1381.9L1213.2 1375.9L1211.0 1377.8L1208.8 1379.6L1206.6 1381.4L1204.3 1383.2L1202.1 1385.0L1199.8 1386.8L1197.5 1388.5L1195.2 1390.2L1192.8 1391.8L1190.5 1393.5L1188.1 1395.1L1185.7 1396.6L1183.3 1398.1L1180.9 1399.6ZM1235.9 1366.3L1237.8 1364.7L1239.6 1363.0L1241.5 1361.4L1243.4 1359.8L1238.2 1353.8L1236.3 1355.5L1234.4 1357.2L1232.5 1358.8L1230.7 1360.5ZM1260.7 1345.6L1263.0 1343.9L1265.3 1342.1L1267.7 1340.3L1270.0 1338.5L1272.3 1336.5L1274.5 1334.4L1276.7 1332.3L1278.9 1330.1L1281.1 1327.9L1283.2 1325.6L1285.2 1323.3L1287.1 1320.9L1288.9 1318.5L1290.6 1316.0L1283.2 1311.2L1281.7 1313.6L1280.2 1315.9L1278.6 1318.2L1276.9 1320.5L1275.2 1322.7L1273.5 1324.8L1271.5 1326.8L1269.3 1328.5L1267.1 1330.3L1264.9 1332.0L1262.6 1333.7L1260.3 1335.5L1257.9 1337.2L1255.6 1339.1ZM1302.3 1296.5L1303.6 1294.3L1304.8 1292.2L1306.1 1290.1L1307.4 1288.0L1299.9 1283.3L1298.5 1285.4L1297.2 1287.5L1295.8 1289.7L1294.5 1291.9ZM1320.5 1268.8L1322.2 1266.5L1323.9 1264.2L1325.6 1261.9L1327.4 1259.7L1329.1 1257.4L1330.8 1255.1L1332.6 1252.9L1334.4 1250.6L1336.1 1248.4L1337.9 1246.1L1339.7 1243.8L1341.5 1241.6L1343.2 1239.3L1345.0 1237.0L1346.8 1234.7L1340.1 1229.7L1338.4 1231.9L1336.6 1234.2L1334.9 1236.5L1333.1 1238.7L1331.4 1241.0L1329.6 1243.3L1327.9 1245.5L1326.1 1247.8L1324.3 1250.1L1322.5 1252.3L1320.8 1254.6L1319.0 1256.9L1317.2 1259.2L1315.5 1261.5L1313.7 1263.8ZM1361.2 1214.8L1362.6 1212.7L1364.0 1210.6L1365.4 1208.5L1366.8 1206.3L1359.3 1201.6L1358.0 1203.7L1356.6 1205.8L1355.3 1207.8L1353.9 1209.9ZM1379.6 1185.4L1381.0 1182.9L1382.5 1180.4L1383.9 1177.9L1385.3 1175.5L1386.8 1173.0L1388.2 1170.5L1389.6 1168.0L1391.0 1165.5L1392.4 1163.0L1393.8 1160.5L1395.2 1157.9L1396.7 1155.4L1398.1 1152.9L1399.5 1150.4L1400.9 1147.9L1402.3 1145.4L1403.7 1142.9L1405.1 1140.4L1406.5 1137.9L1407.8 1135.3L1409.2 1132.8L1410.6 1130.3L1412.0 1127.8L1403.9 1123.4L1402.5 1125.9L1401.1 1128.4L1399.8 1130.9L1398.4 1133.4L1397.0 1135.9L1395.6 1138.4L1394.2 1141.0L1392.9 1143.5L1391.5 1146.0L1390.1 1148.5L1388.7 1151.0L1387.3 1153.5L1385.9 1156.0L1384.5 1158.5L1383.0 1161.0L1381.6 1163.5L1380.2 1166.0L1378.8 1168.4L1377.4 1170.9L1376.0 1173.4L1374.6 1175.9L1373.1 1178.4L1371.7 1180.9ZM1422.6 1107.8L1423.8 1105.5L1424.9 1103.3L1426.1 1101.1L1427.2 1098.8L1418.9 1094.6L1417.7 1096.8L1416.6 1099.0L1415.5 1101.3L1414.4 1103.5ZM1435.9 1081.2L1437.2 1078.5L1438.4 1075.9L1439.7 1073.2L1440.9 1070.5L1442.1 1067.8L1443.3 1065.1L1444.5 1062.4L1445.7 1059.7L1446.9 1057.0L1448.0 1054.3L1449.2 1051.6L1450.3 1048.9L1451.4 1046.2L1452.6 1043.4L1443.5 1039.8L1442.4 1042.5L1441.3 1045.2L1440.2 1047.9L1439.1 1050.6L1438.0 1053.2L1436.9 1055.9L1435.7 1058.6L1434.6 1061.3L1433.4 1063.9L1432.2 1066.6L1431.0 1069.2L1429.8 1071.9L1428.6 1074.5L1427.3 1077.1ZM1460.1 1024.3L1461.0 1022.0L1461.9 1019.6L1462.8 1017.3L1463.7 1014.9L1454.5 1011.5L1453.6 1013.8L1452.7 1016.1L1451.8 1018.5L1450.9 1020.8ZM1470.5 996.7L1471.5 994.0L1472.5 991.4L1473.5 988.7L1474.5 986.0L1475.5 983.4L1476.5 980.7L1477.5 978.0L1478.5 975.4L1479.6 972.7L1480.6 970.1L1481.6 967.4L1482.7 964.8L1483.7 962.2L1484.8 959.5L1475.7 955.9L1474.7 958.5L1473.6 961.2L1472.5 963.9L1471.5 966.5L1470.4 969.2L1469.4 971.9L1468.4 974.5L1467.3 977.2L1466.3 979.9L1465.3 982.6L1464.3 985.2L1463.3 987.9L1462.3 990.6L1461.3 993.3ZM1492.2 941.6L1493.1 939.3L1494.1 937.0L1495.1 934.7L1496.1 932.5L1487.3 928.6L1486.3 930.9L1485.3 933.2L1484.3 935.5L1483.3 937.8ZM1504.7 912.8L1505.9 910.2L1507.1 907.5L1508.3 904.8L1509.5 902.1L1510.7 899.5L1511.9 896.8L1513.1 894.1L1514.3 891.5L1515.5 888.8L1516.7 886.1L1517.9 883.4L1519.1 880.8L1520.3 878.1L1521.5 875.4L1512.7 871.5L1511.5 874.2L1510.3 876.9L1509.1 879.5L1507.9 882.2L1506.7 884.9L1505.5 887.5L1504.3 890.2L1503.1 892.9L1501.9 895.6L1500.7 898.2L1499.5 900.9L1498.3 903.6L1497.1 906.3L1496.0 908.9ZM1528.5 859.4L1529.5 857.0L1530.5 854.7L1531.5 852.4L1532.5 850.1L1523.6 846.4L1522.6 848.7L1521.6 850.9L1520.6 853.2L1519.7 855.5ZM1540.8 830.2L1541.8 827.6L1542.9 824.9L1544.0 822.3L1545.1 819.6L1546.1 817.0L1547.2 814.3L1548.2 811.6L1549.3 809.0L1550.3 806.3L1551.4 803.6L1552.4 801.0L1553.4 798.3L1554.4 795.6L1555.5 792.9L1546.3 789.5L1545.3 792.1L1544.3 794.8L1543.2 797.4L1542.2 800.1L1541.2 802.7L1540.2 805.4L1539.1 808.1L1538.1 810.7L1537.0 813.4L1536.0 816.0L1534.9 818.6L1533.9 821.3L1532.8 823.9L1531.8 826.6ZM1562.7 773.7L1563.5 771.4L1564.4 769.0L1565.3 766.7L1566.1 764.3L1556.9 760.9L1556.0 763.3L1555.2 765.6L1554.3 768.0L1553.4 770.3ZM1572.4 746.9L1573.5 744.1L1574.5 741.3L1575.5 738.4L1576.5 735.6L1577.5 732.8L1578.5 730.0L1579.6 727.2L1580.6 724.4L1581.6 721.5L1582.6 718.7L1583.7 715.9L1584.7 713.1L1585.7 710.3L1586.8 707.5L1577.5 704.1L1576.5 706.9L1575.4 709.7L1574.4 712.5L1573.4 715.3L1572.3 718.2L1571.3 721.0L1570.3 723.8L1569.3 726.6L1568.2 729.4L1567.2 732.3L1566.2 735.1L1565.2 737.9L1564.2 740.7L1563.2 743.6ZM1593.3 690.3L1594.2 687.9L1595.1 685.6L1596.0 683.3L1596.9 681.0L1587.8 677.4L1586.9 679.7L1586.0 682.0L1585.0 684.4L1584.1 686.7ZM1602.7 666.7L1603.7 664.1L1604.8 661.5L1605.9 658.9L1607.0 656.4L1608.1 653.8L1609.2 651.2L1610.4 648.7L1611.5 646.1L1612.6 643.5L1613.8 641.0L1614.9 638.4L1616.0 635.8L1617.2 633.3L1618.3 630.7L1619.5 628.1L1620.6 625.5L1611.9 621.6L1610.7 624.2L1609.6 626.8L1608.4 629.3L1607.3 631.9L1606.1 634.5L1605.0 637.1L1603.8 639.6L1602.7 642.2L1601.6 644.8L1600.4 647.4L1599.3 650.0L1598.2 652.6L1597.0 655.1L1595.9 657.7L1594.8 660.4L1593.7 663.0ZM1628.2 608.6L1629.2 606.3L1630.2 604.0L1631.2 601.7L1632.2 599.4L1623.3 595.6L1622.3 597.9L1621.3 600.2L1620.3 602.5L1619.3 604.8ZM1638.9 583.2L1640.0 580.5L1641.0 577.9L1642.1 575.2L1643.1 572.5L1644.1 569.8L1645.1 567.1L1646.1 564.4L1647.1 561.7L1648.0 558.9L1649.0 556.2L1649.9 553.5L1650.8 550.9L1651.7 548.2L1652.7 545.5L1653.6 542.9L1644.4 539.4L1643.4 542.2L1642.4 544.9L1641.4 547.6L1640.5 550.3L1639.6 553.0L1638.6 555.7L1637.7 558.4L1636.8 561.1L1635.9 563.7L1634.9 566.4L1633.9 569.0L1632.9 571.7L1631.9 574.3L1630.9 577.0L1629.9 579.6ZM1661.4 524.8L1662.5 522.7L1663.7 520.6L1665.0 518.5L1666.3 516.5L1659.2 511.6L1657.7 513.7L1656.2 515.9L1654.8 518.1L1653.4 520.3ZM1679.8 497.7L1681.4 495.2L1682.9 492.6L1684.3 489.9L1685.7 487.2L1686.9 484.5L1688.0 481.7L1689.0 478.9L1690.0 476.1L1690.9 473.3L1691.7 470.5L1692.4 467.7L1693.2 464.9L1693.9 462.1L1694.5 459.3L1684.6 457.0L1683.9 459.7L1683.3 462.4L1682.6 465.2L1681.9 467.8L1681.2 470.5L1680.4 473.1L1679.6 475.8L1678.7 478.3L1677.8 480.9L1676.9 483.4L1675.8 485.9L1674.7 488.3L1673.5 490.7L1672.2 493.0ZM1699.1 441.0L1699.8 438.7L1700.5 436.4L1701.2 434.1L1702.0 431.8L1692.8 428.4L1691.9 430.8L1691.0 433.3L1690.2 435.7L1689.4 438.2ZM1710.0 415.2L1711.5 413.1L1713.1 411.0L1715.0 409.4L1717.1 408.1L1719.2 407.2L1721.1 406.7L1722.5 406.7L1723.7 406.6L1725.4 406.8L1727.3 407.6L1729.4 409.0L1731.0 411.0L1732.6 413.1L1734.2 415.3L1740.8 410.2L1738.9 408.0L1736.9 405.8L1734.6 403.7L1732.5 401.3L1729.9 398.9L1726.4 396.9L1722.0 396.2L1717.9 397.3L1714.7 399.1L1712.1 401.3L1709.8 403.5L1707.7 405.8L1705.5 407.9L1703.4 410.1ZM1745.4 433.6L1746.5 435.7L1747.5 437.9L1748.6 440.1L1749.6 442.3L1758.2 438.3L1757.1 436.0L1755.9 433.7L1754.7 431.4L1753.5 429.2ZM1756.1 459.0L1757.0 461.6L1757.8 464.2L1758.7 466.8L1759.5 469.4L1760.3 472.0L1761.0 474.7L1761.7 477.3L1762.4 480.0L1763.1 482.7L1763.8 485.3L1764.5 488.0L1765.1 490.7L1765.7 493.4L1775.7 491.1L1775.0 488.3L1774.4 485.6L1773.7 482.8L1773.0 480.1L1772.2 477.4L1771.5 474.6L1770.7 471.9L1769.9 469.2L1769.1 466.5L1768.2 463.7L1767.3 461.0L1766.4 458.3L1765.4 455.7ZM1770.1 513.7L1770.6 516.2L1771.1 518.6L1771.6 521.1L1772.1 523.5L1782.2 521.5L1781.7 519.0L1781.2 516.6L1780.7 514.1L1780.2 511.7ZM1775.8 541.8L1776.3 544.8L1776.9 547.7L1777.5 550.7L1778.0 553.6L1778.6 556.5L1779.2 559.5L1779.7 562.4L1780.3 565.4L1780.8 568.3L1781.4 571.2L1781.9 574.2L1782.5 577.1L1783.0 580.1L1783.5 583.0L1793.7 581.2L1793.2 578.2L1792.6 575.3L1792.1 572.3L1791.5 569.4L1791.0 566.4L1790.4 563.5L1789.9 560.5L1789.3 557.6L1788.7 554.6L1788.2 551.7L1787.6 548.7L1787.0 545.8L1786.5 542.8L1785.9 539.9ZM1786.1 597.2L1786.5 599.6L1787.0 602.1L1787.4 604.5L1787.8 607.0L1798.0 605.2L1797.6 602.7L1797.1 600.3L1796.7 597.8L1796.3 595.3ZM1790.9 625.0L1791.4 627.9L1791.9 630.8L1792.4 633.7L1792.9 636.5L1793.3 639.4L1793.8 642.3L1794.3 645.1L1794.8 648.0L1795.2 650.9L1795.7 653.8L1796.2 656.6L1796.6 659.5L1797.1 662.4L1807.3 660.7L1806.9 657.9L1806.4 655.0L1805.9 652.1L1805.5 649.2L1805.0 646.3L1804.5 643.5L1804.0 640.6L1803.6 637.7L1803.1 634.8L1802.6 631.9L1802.1 629.1L1801.6 626.2L1801.1 623.3ZM1799.9 680.6L1800.3 683.1L1800.7 685.5L1801.1 688.0L1801.4 690.5L1811.7 688.9L1811.3 686.4L1810.9 684.0L1810.6 681.5L1810.2 679.0ZM1803.9 706.8L1804.3 709.7L1804.7 712.6L1805.2 715.5L1805.6 718.3L1806.0 721.2L1806.4 724.1L1806.8 727.0L1807.2 729.9L1807.7 732.8L1808.1 735.7L1808.5 738.6L1808.9 741.5L1809.3 744.4L1819.6 743.0L1819.2 740.1L1818.8 737.2L1818.4 734.3L1817.9 731.4L1817.5 728.5L1817.1 725.6L1816.7 722.7L1816.3 719.8L1815.9 716.9L1815.4 714.0L1815.0 711.1L1814.6 708.2L1814.2 705.3ZM1811.9 763.8L1812.3 766.2L1812.6 768.7L1812.9 771.2L1813.2 773.7L1823.6 772.3L1823.2 769.8L1822.9 767.3L1822.6 764.9L1822.2 762.4ZM1815.3 789.1L1815.6 791.8L1816.0 794.6L1816.3 797.3L1816.7 800.1L1817.0 802.8L1817.3 805.6L1817.7 808.3L1818.0 811.1L1818.4 813.8L1818.7 816.6L1819.1 819.3L1819.4 822.1L1819.7 824.8L1830.1 823.6L1829.7 820.8L1829.4 818.0L1829.1 815.3L1828.7 812.5L1828.4 809.8L1828.0 807.0L1827.7 804.3L1827.3 801.5L1827.0 798.8L1826.6 796.0L1826.3 793.2L1825.9 790.5L1825.6 787.7ZM1822.5 848.2L1822.8 850.6L1823.1 853.1L1823.4 855.6L1823.7 858.1L1834.0 856.9L1833.7 854.4L1833.5 851.9L1833.2 849.4L1832.9 847.0ZM1825.8 876.5L1826.1 879.2L1826.4 882.0L1826.7 884.7L1827.0 887.5L1827.3 890.2L1827.6 893.0L1827.9 895.7L1828.3 898.5L1828.6 901.2L1828.9 904.0L1829.2 906.7L1829.5 909.5L1829.8 912.3L1840.1 911.1L1839.8 908.4L1839.5 905.6L1839.2 902.8L1838.9 900.1L1838.6 897.3L1838.3 894.6L1838.0 891.8L1837.7 889.1L1837.4 886.3L1837.1 883.6L1836.8 880.8L1836.5 878.1L1836.2 875.3ZM1831.8 930.6L1832.0 933.1L1832.3 935.6L1832.6 938.1L1832.8 940.6L1843.2 939.5L1843.0 937.0L1842.7 934.5L1842.4 932.0L1842.1 929.5ZM1834.6 957.0L1834.9 959.9L1835.2 962.8L1835.5 965.7L1835.8 968.6L1836.1 971.5L1836.4 974.4L1836.8 977.3L1837.1 980.2L1837.4 983.1L1837.7 986.0L1838.0 988.9L1838.3 991.8L1838.6 994.7L1849.0 993.7L1848.7 990.7L1848.4 987.8L1848.1 984.9L1847.8 982.0L1847.4 979.1L1847.1 976.2L1846.8 973.3L1846.5 970.4L1846.2 967.5L1845.9 964.6L1845.6 961.7L1845.3 958.8L1845.0 955.9ZM1840.5 1013.1L1840.8 1015.6L1841.1 1018.1L1841.3 1020.6L1841.6 1023.1L1852.0 1022.0L1851.7 1019.5L1851.5 1017.0L1851.2 1014.5L1850.9 1012.0ZM1843.3 1039.5L1843.7 1042.5L1844.0 1045.5L1844.3 1048.4L1844.6 1051.4L1844.9 1054.4L1845.3 1057.4L1845.6 1060.4L1845.9 1063.3L1846.2 1066.3L1846.6 1069.3L1846.9 1072.3L1847.2 1075.3L1857.6 1074.1L1857.3 1071.2L1856.9 1068.2L1856.6 1065.2L1856.3 1062.2L1856.0 1059.2L1855.6 1056.3L1855.3 1053.3L1855.0 1050.3L1854.7 1047.3L1854.4 1044.3L1854.0 1041.4L1853.7 1038.4ZM1849.5 1095.7L1849.7 1098.2L1850.0 1100.6L1850.3 1103.1L1850.6 1105.6L1860.9 1104.4L1860.7 1102.0L1860.4 1099.5L1860.1 1097.0L1859.8 1094.5ZM1852.4 1122.0L1852.8 1124.9L1853.1 1127.8L1853.4 1130.7L1853.8 1133.6L1854.1 1136.6L1854.5 1139.5L1854.8 1142.4L1855.1 1145.3L1855.5 1148.2L1855.8 1151.1L1856.2 1154.0L1856.5 1156.9L1856.9 1159.8L1867.2 1158.6L1866.9 1155.7L1866.5 1152.8L1866.2 1149.9L1865.8 1147.0L1865.5 1144.1L1865.2 1141.1L1864.8 1138.2L1864.5 1135.3L1864.1 1132.4L1863.8 1129.5L1863.5 1126.6L1863.1 1123.7L1862.8 1120.8ZM1859.2 1179.2L1859.6 1181.7L1859.9 1184.2L1860.2 1186.7L1860.5 1189.1L1870.8 1187.8L1870.5 1185.4L1870.2 1182.9L1869.9 1180.4L1869.6 1177.9ZM1862.7 1206.5L1863.1 1209.3L1863.4 1212.1L1863.8 1214.8L1864.2 1217.6L1864.5 1220.3L1864.9 1223.1L1865.3 1225.8L1865.6 1228.6L1866.0 1231.3L1866.4 1234.1L1866.7 1236.8L1867.1 1239.6L1867.5 1242.3L1877.8 1240.9L1877.4 1238.2L1877.0 1235.4L1876.7 1232.7L1876.3 1229.9L1875.9 1227.2L1875.6 1224.4L1875.2 1221.7L1874.8 1218.9L1874.5 1216.2L1874.1 1213.5L1873.8 1210.7L1873.4 1208.0L1873.1 1205.2ZM1870.1 1261.7L1870.5 1264.2L1870.8 1266.7L1871.2 1269.1L1871.5 1271.6L1881.8 1270.2L1881.5 1267.7L1881.1 1265.2L1880.8 1262.7L1880.4 1260.3ZM1874.0 1289.0L1874.4 1291.7L1874.8 1294.5L1875.2 1297.3L1875.5 1300.0L1875.9 1302.8L1876.3 1305.5L1876.7 1308.3L1877.1 1311.1L1877.5 1313.8L1877.9 1316.6L1878.3 1319.3L1878.7 1322.1L1879.1 1324.9L1879.5 1327.6L1889.8 1326.1L1889.4 1323.4L1889.0 1320.6L1888.6 1317.8L1888.2 1315.1L1887.8 1312.3L1887.4 1309.6L1887.0 1306.8L1886.6 1304.1L1886.2 1301.3L1885.8 1298.5L1885.4 1295.8L1885.0 1293.0L1884.7 1290.3L1884.3 1287.5ZM1882.2 1345.9L1882.6 1348.4L1883.0 1350.8L1883.3 1353.3L1883.7 1355.8L1894.0 1354.3L1893.6 1351.8L1893.2 1349.3L1892.9 1346.9L1892.5 1344.4ZM1885.9 1371.1L1886.4 1374.0L1886.8 1377.0L1887.3 1380.0L1887.7 1382.9L1888.2 1385.9L1888.6 1388.9L1889.1 1391.8L1889.6 1394.8L1890.1 1397.8L1890.5 1400.7L1891.1 1403.7L1891.6 1406.7L1892.1 1409.6L1902.3 1407.8L1901.8 1404.9L1901.3 1401.9L1900.8 1399.0L1900.3 1396.1L1899.8 1393.1L1899.3 1390.2L1898.9 1387.3L1898.4 1384.3L1898.0 1381.4L1897.5 1378.4L1897.1 1375.5L1896.7 1372.5L1896.2 1369.6ZM1896.0 1428.9L1896.5 1431.3L1897.1 1433.8L1897.7 1436.3L1898.3 1438.7L1908.2 1436.3L1907.6 1433.9L1907.1 1431.5L1906.5 1429.1L1906.0 1426.7ZM1903.1 1455.9L1904.1 1458.8L1905.0 1461.7L1906.0 1464.6L1907.0 1467.5L1908.1 1470.3L1909.2 1473.2L1910.3 1476.0L1911.5 1478.8L1912.7 1481.6L1913.9 1484.4L1915.3 1487.2L1916.7 1489.9L1918.2 1492.7L1919.9 1495.4L1927.6 1490.8L1926.3 1488.2L1925.0 1485.7L1923.8 1483.1L1922.7 1480.5L1921.5 1477.8L1920.4 1475.1L1919.4 1472.4L1918.3 1469.7L1917.3 1466.9L1916.3 1464.2L1915.4 1461.4L1914.5 1458.6L1913.6 1455.8L1912.7 1453.0ZM1929.9 1507.6L1931.8 1509.6L1933.7 1511.5L1935.7 1513.4L1937.9 1515.1L1942.7 1507.7L1940.7 1506.6L1938.9 1505.3L1937.0 1504.0L1935.4 1502.4Z" fill="#00ffff"/>
<path d="M253.0 1503.8L256.0 1503.8L259.0 1503.8L262.0 1503.8L264.9 1503.8L267.9 1503.9L270.9 1503.9L273.9 1504.0L276.9 1504.0L279.9 1504.1L282.9 1504.1L285.9 1504.2L288.9 1504.2L291.9 1504.3L294.8 1504.4L297.8 1504.5L300.8 1504.5L303.8 1504.6L306.8 1504.7L309.8 1504.8L312.8 1504.9L315.8 1505.0L318.8 1505.1L321.8 1505.2L324.8 1505.3L327.8 1505.4L330.8 1505.5L333.8 1505.6L336.8 1505.7L339.8 1505.8L342.7 1505.9L345.7 1506.0L348.7 1506.1L351.7 1506.2L354.7 1506.3L357.7 1506.4L360.7 1506.6L363.7 1506.7L366.7 1506.8L369.7 1506.9L372.7 1507.0L375.7 1507.1L378.7 1507.2L381.7 1507.3L384.7 1507.4L387.7 1507.5L390.7 1507.6L393.7 1507.7L396.7 1507.8L399.7 1507.9L402.7 1507.9L405.7 1508.0L408.7 1508.1L411.7 1508.2L414.7 1508.3L417.7 1508.3L420.8 1508.4L423.8 1508.5L426.8 1508.5L429.8 1508.6L432.8 1508.6L435.8 1508.7L438.8 1508.7L441.8 1508.7L444.8 1508.8L447.8 1508.8L450.8 1508.8L453.8 1508.8L456.8 1508.8L459.8 1508.8L462.9 1508.8L465.9 1508.8L468.9 1508.8L471.9 1508.8L474.9 1508.7L477.9 1508.7L480.9 1508.6L483.9 1508.6L486.9 1508.5L490.0 1508.4L493.0 1508.4L496.0 1508.3L499.0 1508.2L502.0 1508.1L505.0 1508.0L508.0 1507.8L511.0 1507.7L514.1 1507.6L517.1 1507.4L520.1 1507.3L523.1 1507.1L526.1 1506.9L529.1 1506.8L532.1 1506.6L535.1 1506.4L538.1 1506.2L541.1 1506.0L544.1 1505.8L547.1 1505.5L550.1 1505.3L553.1 1505.1L556.1 1504.9L559.1 1504.6L562.1 1504.4L565.1 1504.1L568.1 1503.9L571.1 1503.6L574.1 1503.3L577.1 1503.1L580.1 1502.8L583.1 1502.5L586.1 1502.2L589.1 1501.9L592.1 1501.6L595.0 1501.3L598.0 1501.0L601.0 1500.7L604.0 1500.4L607.0 1500.1L610.0 1499.8L613.0 1499.5L616.0 1499.2L618.9 1498.8L621.9 1498.5L624.9 1498.2L627.9 1497.9L630.9 1497.5L633.9 1497.2L636.8 1496.9L639.8 1496.6L642.8 1496.2L645.8 1495.9L648.8 1495.6L651.8 1495.2L654.7 1494.9L657.7 1494.5L660.7 1494.2L663.7 1493.9L666.7 1493.5L669.6 1493.2L672.6 1492.9L675.6 1492.5L678.6 1492.2L681.6 1491.9L684.5 1491.5L687.5 1491.2L690.5 1490.9L693.5 1490.6L696.4 1490.2L699.4 1489.9L702.4 1489.6L705.4 1489.3L708.4 1489.0L711.3 1488.6L714.3 1488.3L717.3 1488.0L720.3 1487.7L723.2 1487.4L726.2 1487.1L729.2 1486.8L732.2 1486.5L735.2 1486.2L738.1 1486.0L741.1 1485.7L744.1 1485.4L747.1 1485.1L750.0 1484.9L753.0 1484.6L756.0 1484.4L759.0 1484.1L762.0 1483.9L764.9 1483.6L767.9 1483.4L770.9 1483.2L773.9 1483.0L776.8 1482.8L779.8 1482.6L782.8 1482.4L785.8 1482.3L788.7 1482.1L791.7 1482.0L794.7 1481.8L797.7 1481.7L800.6 1481.6L803.6 1481.5L806.6 1481.4L809.5 1481.4L812.5 1481.3L815.5 1481.3L818.5 1481.3L821.4 1481.3L824.4 1481.3L827.4 1481.3L830.3 1481.4L833.3 1481.5L836.2 1481.6L839.2 1481.7L842.2 1481.8L845.1 1481.9L848.1 1482.1L851.0 1482.3L854.0 1482.5L856.9 1482.8L859.9 1483.0L862.8 1483.3L865.8 1483.6L868.7 1483.9L871.6 1484.3L874.6 1484.7L877.5 1485.1L880.4 1485.5L883.4 1485.9L886.3 1486.4L889.3 1486.9L892.2 1487.4L895.1 1487.8L898.1 1488.3L901.0 1488.9L904.0 1489.4L907.0 1489.9L909.9 1490.4L912.9 1490.9L915.9 1491.4L918.9 1491.8L921.9 1492.3L924.9 1492.7L927.9 1493.2L930.9 1493.6L933.9 1493.9L937.0 1494.3L940.0 1494.6L943.1 1494.9L946.1 1495.1L949.2 1495.3L952.3 1495.4L955.4 1495.5L958.4 1495.5L961.5 1495.5L964.6 1495.4L967.8 1495.3L970.9 1495.0L974.0 1494.7L977.1 1494.4L980.2 1493.9L983.3 1493.4L986.3 1492.7L989.4 1492.0L992.4 1491.2L995.4 1490.3L998.4 1489.3L1001.4 1488.2L1004.3 1487.0L1007.2 1485.7L1010.0 1484.4L1012.8 1482.9L1015.5 1481.3L1018.2 1479.6L1020.8 1477.8L1023.3 1475.8L1025.8 1473.8L1028.1 1471.7L1030.4 1469.5L1032.5 1467.3L1034.8 1465.1L1036.9 1462.9L1039.0 1460.6L1041.1 1458.3L1043.1 1455.9L1045.0 1453.5L1046.8 1451.1L1048.7 1448.7L1050.5 1446.3L1052.2 1443.8L1054.0 1441.3L1055.7 1438.9L1057.4 1436.4L1059.2 1433.9L1060.8 1431.4L1062.5 1428.9L1064.2 1426.3L1065.8 1423.8L1067.5 1421.3L1069.1 1418.7L1070.7 1416.2L1072.3 1413.6L1073.9 1411.1L1075.5 1408.5L1077.1 1405.9L1078.6 1403.3L1080.2 1400.7L1081.7 1398.1L1083.2 1395.5L1084.7 1392.9L1086.2 1390.3L1087.7 1387.6L1089.2 1385.0L1090.6 1382.3L1092.1 1379.7L1093.5 1377.0L1094.9 1374.3L1096.3 1371.7L1097.7 1369.0L1099.1 1366.3L1100.4 1363.6L1101.8 1360.9L1103.1 1358.2L1104.4 1355.4L1105.7 1352.7L1107.0 1350.0L1108.3 1347.2L1109.5 1344.5L1110.8 1341.7L1112.0 1339.0L1113.2 1336.2L1114.4 1333.4L1115.6 1330.7L1116.8 1327.9L1118.0 1325.1L1119.1 1322.3L1120.3 1319.5L1121.4 1316.7L1122.5 1313.9L1123.6 1311.1L1124.7 1308.3L1125.7 1305.4L1126.8 1302.6L1127.9 1299.8L1128.9 1297.0L1130.0 1294.2L1131.0 1291.3L1132.0 1288.5L1133.0 1285.7L1134.1 1282.8L1135.1 1280.0L1136.1 1277.2L1137.1 1274.3L1138.1 1271.5L1139.0 1268.7L1140.0 1265.8L1141.0 1263.0L1142.0 1260.2L1143.0 1257.3L1144.0 1254.5L1145.0 1251.7L1145.9 1248.8L1146.9 1246.0L1147.9 1243.2L1148.9 1240.4L1149.9 1237.5L1150.9 1234.7L1151.9 1231.9L1152.9 1229.1L1153.9 1226.3L1154.9 1223.5L1156.0 1220.7L1157.0 1217.8L1158.0 1215.0L1159.1 1212.2L1160.1 1209.4L1161.2 1206.6L1162.2 1203.8L1163.3 1201.0L1164.3 1198.2L1165.4 1195.4L1166.4 1192.6L1167.5 1189.8L1168.5 1186.9L1169.5 1184.1L1170.6 1181.3L1171.6 1178.5L1172.7 1175.7L1173.7 1172.8L1174.7 1170.0L1175.7 1167.2L1176.7 1164.3L1177.8 1161.5L1178.7 1158.6L1179.7 1155.8L1180.7 1152.9L1181.7 1150.1L1182.6 1147.2L1183.6 1144.3L1184.5 1141.5L1185.4 1138.6L1186.3 1135.7L1187.2 1132.8L1188.1 1129.9L1188.9 1127.0L1189.8 1124.1L1190.6 1121.2L1191.5 1118.3L1192.3 1115.4L1193.1 1112.5L1193.9 1109.6L1194.6 1106.7L1195.4 1103.8L1196.2 1100.8L1196.9 1097.9L1197.6 1095.0L1198.4 1092.1L1199.1 1089.1L1199.8 1086.2L1200.5 1083.3L1201.2 1080.3L1201.9 1077.4L1202.5 1074.5L1203.2 1071.5L1203.8 1068.6L1204.5 1065.6L1205.1 1062.7L1205.8 1059.8L1206.4 1056.8L1207.0 1053.9L1207.6 1050.9L1208.2 1048.0L1208.8 1045.0L1209.4 1042.1L1210.0 1039.1L1210.6 1036.2L1211.2 1033.2L1211.8 1030.3L1212.4 1027.3L1212.9 1024.4L1213.5 1021.4L1214.1 1018.5L1214.6 1015.5L1215.2 1012.6L1215.8 1009.6L1216.3 1006.7L1216.9 1003.8L1217.4 1000.8L1218.0 997.9L1218.5 994.9L1219.1 992.0L1219.6 989.0L1220.2 986.1L1220.7 983.1L1221.3 980.2L1221.8 977.2L1222.4 974.3L1222.9 971.3L1223.5 968.4L1224.1 965.4L1224.6 962.5L1225.2 959.6L1225.7 956.6L1226.3 953.7L1226.9 950.7L1227.5 947.8L1228.0 944.9L1228.6 941.9L1229.2 939.0L1229.8 936.1L1230.4 933.1L1231.0 930.2L1231.6 927.3L1232.2 924.4L1232.8 921.4L1233.4 918.5L1234.1 915.6L1234.7 912.7L1235.3 909.7L1236.0 906.8L1236.6 903.9L1237.3 901.0L1237.9 898.1L1238.6 895.2L1239.3 892.2L1239.9 889.3L1240.6 886.4L1241.3 883.5L1242.0 880.6L1242.7 877.7L1243.4 874.8L1244.1 871.9L1244.8 868.9L1245.5 866.0L1246.2 863.1L1246.9 860.2L1247.6 857.3L1248.3 854.4L1249.0 851.5L1249.7 848.6L1250.5 845.7L1251.2 842.8L1251.9 839.9L1252.6 837.0L1253.4 834.1L1254.1 831.1L1254.8 828.2L1255.6 825.3L1256.3 822.4L1257.0 819.5L1257.8 816.6L1258.5 813.7L1259.3 810.8L1260.0 807.9L1260.7 805.0L1261.5 802.1L1262.2 799.2L1262.9 796.3L1263.7 793.4L1264.4 790.5L1265.1 787.5L1265.9 784.6L1266.6 781.7L1267.4 778.8L1268.1 775.9L1268.8 773.0L1269.5 770.1L1270.3 767.2L1271.0 764.3L1271.7 761.3L1272.4 758.4L1273.2 755.5L1273.9 752.6L1274.6 749.7L1275.3 746.8L1276.0 743.8L1276.7 740.9L1277.4 738.0L1278.1 735.1L1278.8 732.1L1279.5 729.2L1280.2 726.3L1280.8 723.4L1281.5 720.4L1282.2 717.5L1282.9 714.6L1283.5 711.6L1284.2 708.7L1284.8 705.8L1285.5 702.8L1286.1 699.9L1286.8 697.0L1287.4 694.0L1288.1 691.1L1288.7 688.2L1289.3 685.2L1289.9 682.3L1290.6 679.3L1291.2 676.4L1291.8 673.5L1292.4 670.5L1293.0 667.6L1293.6 664.6L1294.2 661.7L1294.8 658.8L1295.4 655.8L1296.0 652.9L1296.6 649.9L1297.2 647.0L1297.8 644.0L1298.4 641.1L1299.0 638.2L1299.6 635.2L1300.2 632.3L1300.8 629.3L1301.4 626.4L1301.9 623.5L1302.5 620.5L1303.1 617.6L1303.7 614.6L1304.3 611.7L1304.9 608.7L1305.5 605.8L1306.0 602.9L1306.6 599.9L1307.2 597.0L1307.8 594.0L1308.4 591.1L1309.0 588.2L1309.6 585.2L1310.2 582.3L1310.7 579.4L1311.3 576.4L1311.9 573.5L1312.5 570.5L1313.1 567.6L1313.7 564.7L1314.3 561.7L1314.9 558.8L1315.6 555.9L1316.2 552.9L1316.8 550.0L1317.4 547.1L1318.0 544.2L1318.6 541.2L1319.3 538.3L1319.9 535.4L1320.5 532.5L1321.2 529.5L1321.8 526.6L1322.4 523.7L1323.1 520.8L1323.7 517.9L1324.4 514.9L1325.1 512.0L1325.7 509.1L1326.4 506.2L1327.1 503.3L1327.8 500.4L1328.5 497.5L1329.2 494.6L1329.9 491.7L1330.7 488.8L1331.4 485.9L1332.1 483.0L1332.9 480.2L1333.7 477.3L1334.4 474.4L1335.2 471.5L1336.0 468.7L1336.8 465.8L1337.6 462.9L1338.5 460.1L1339.3 457.2L1340.2 454.4L1341.0 451.5L1341.9 448.7L1342.8 445.8L1343.7 443.0L1344.6 440.2L1345.6 437.3L1346.5 434.5L1347.5 431.7L1348.4 428.9L1349.4 426.1L1350.4 423.3L1351.4 420.5L1352.4 417.7L1353.5 414.9L1354.5 412.1L1355.6 409.3L1356.6 406.5L1357.7 403.7L1358.7 400.9L1359.8 398.1L1360.9 395.3L1362.0 392.6L1363.1 389.8L1364.2 387.0L1365.3 384.2L1366.5 381.5L1367.6 378.7L1368.7 375.9L1369.9 373.2L1371.0 370.4L1372.2 367.6L1373.3 364.9L1374.5 362.1L1375.6 359.4L1376.8 356.6L1377.9 353.8L1379.1 351.1L1380.3 348.3L1381.4 345.6L1382.6 342.8L1383.8 340.0L1385.0 337.3L1386.1 334.5L1387.3 331.8L1388.5 329.0L1389.6 326.3L1390.8 323.6L1392.0 320.9L1393.2 318.2L1394.5 315.6L1395.8 313.0L1397.1 310.4L1398.5 307.8L1399.9 305.3L1401.3 302.9L1402.9 300.4L1404.4 298.1L1406.1 295.8L1407.8 293.6L1409.7 291.5L1411.9 289.7L1414.1 288.1L1416.5 286.6L1418.8 285.3L1421.3 284.1L1423.8 283.0L1426.3 282.1L1428.9 281.3L1431.5 280.7L1434.1 280.3L1436.7 280.0L1439.2 279.9L1441.8 280.0L1444.2 280.2L1446.7 280.7L1449.1 281.3L1451.5 282.2L1453.8 283.4L1456.1 284.7L1458.4 286.3L1460.5 288.0L1462.4 290.2L1464.1 292.4L1465.8 294.7L1467.5 297.1L1469.1 299.5L1470.6 301.9L1472.2 304.4L1473.7 306.9L1475.2 309.4L1476.7 312.0L1478.1 314.6L1479.5 317.1L1481.0 319.7L1482.4 322.4L1483.7 325.0L1485.1 327.6L1486.4 330.3L1487.8 332.9L1489.1 335.6L1490.4 338.2L1491.6 340.9L1492.9 343.6L1494.1 346.3L1495.4 349.0L1496.6 351.7L1497.8 354.5L1499.0 357.2L1500.1 359.9L1501.3 362.7L1502.4 365.4L1503.6 368.2L1504.7 370.9L1505.8 373.7L1506.9 376.4L1508.0 379.2L1509.1 382.0L1510.1 384.8L1511.2 387.6L1512.2 390.4L1513.3 393.1L1514.3 395.9L1515.3 398.8L1516.3 401.6L1517.3 404.4L1518.2 407.2L1519.2 410.0L1520.2 412.8L1521.1 415.7L1522.0 418.5L1523.0 421.3L1523.9 424.2L1524.8 427.0L1525.7 429.8L1526.6 432.7L1527.5 435.5L1528.3 438.4L1529.2 441.3L1530.1 444.1L1530.9 447.0L1531.7 449.8L1532.6 452.7L1533.4 455.6L1534.2 458.4L1535.0 461.3L1535.8 464.2L1536.6 467.1L1537.4 470.0L1538.2 472.8L1539.0 475.7L1539.8 478.6L1540.5 481.5L1541.3 484.4L1542.1 487.3L1542.8 490.2L1543.6 493.1L1544.3 496.0L1545.1 498.9L1545.8 501.8L1546.5 504.7L1547.3 507.6L1548.0 510.5L1548.7 513.4L1549.4 516.3L1550.1 519.2L1550.8 522.1L1551.5 525.0L1552.2 527.9L1553.0 530.8L1553.7 533.7L1554.4 536.6L1555.0 539.6L1555.7 542.5L1556.4 545.4L1557.1 548.3L1557.8 551.2L1558.5 554.1L1559.2 557.0L1559.9 560.0L1560.6 562.9L1561.3 565.8L1562.0 568.7L1562.6 571.6L1563.3 574.6L1564.0 577.5L1564.7 580.4L1565.4 583.3L1566.1 586.2L1566.8 589.2L1567.4 592.1L1568.1 595.0L1568.8 597.9L1569.5 600.8L1570.2 603.7L1570.9 606.7L1571.5 609.6L1572.2 612.5L1572.9 615.4L1573.6 618.3L1574.3 621.3L1575.0 624.2L1575.6 627.1L1576.3 630.0L1577.0 632.9L1577.7 635.9L1578.4 638.8L1579.0 641.7L1579.7 644.6L1580.4 647.5L1581.1 650.5L1581.8 653.4L1582.5 656.3L1583.1 659.2L1583.8 662.1L1584.5 665.1L1585.2 668.0L1585.9 670.9L1586.5 673.8L1587.2 676.7L1587.9 679.7L1588.6 682.6L1589.3 685.5L1589.9 688.4L1590.6 691.4L1591.3 694.3L1592.0 697.2L1592.7 700.1L1593.3 703.0L1594.0 706.0L1594.7 708.9L1595.4 711.8L1596.1 714.7L1596.7 717.6L1597.4 720.6L1598.1 723.5L1598.8 726.4L1599.5 729.3L1600.1 732.2L1600.8 735.2L1601.5 738.1L1602.2 741.0L1602.9 743.9L1603.5 746.8L1604.2 749.8L1604.9 752.7L1605.6 755.6L1606.3 758.5L1607.0 761.4L1607.6 764.4L1608.3 767.3L1609.0 770.2L1609.7 773.1L1610.4 776.0L1611.0 779.0L1611.7 781.9L1612.4 784.8L1613.0 787.7L1613.7 790.6L1614.4 793.6L1615.0 796.5L1615.7 799.4L1616.4 802.3L1617.0 805.2L1617.6 808.2L1618.3 811.1L1618.9 814.0L1619.6 816.9L1620.2 819.9L1620.8 822.8L1621.4 825.7L1622.1 828.6L1622.7 831.6L1623.3 834.5L1623.9 837.4L1624.5 840.3L1625.0 843.3L1625.6 846.2L1626.2 849.1L1626.7 852.1L1627.3 855.0L1627.8 857.9L1628.4 860.9L1628.9 863.8L1629.4 866.7L1630.0 869.7L1630.5 872.6L1631.0 875.6L1631.5 878.5L1632.0 881.5L1632.4 884.4L1632.9 887.4L1633.4 890.3L1633.9 893.3L1634.4 896.3L1634.9 899.2L1635.4 902.2L1635.9 905.1L1636.4 908.1L1636.9 911.1L1637.4 914.0L1637.9 917.0L1638.5 920.0L1639.0 922.9L1639.6 925.9L1640.2 928.9L1640.7 931.8L1641.4 934.8L1642.0 937.8L1642.6 940.7L1643.3 943.7L1643.9 946.6L1644.6 949.6L1645.3 952.5L1646.1 955.5L1646.8 958.4L1647.6 961.4L1648.4 964.3L1649.3 967.2L1650.1 970.1L1650.9 973.0L1651.8 975.9L1652.7 978.8L1653.6 981.7L1654.5 984.6L1655.4 987.5L1656.3 990.3L1657.3 993.2L1658.2 996.0L1659.1 998.9L1660.1 1001.8L1661.0 1004.6L1662.0 1007.5L1662.9 1010.3L1663.9 1013.1L1664.8 1016.0L1665.8 1018.8L1666.7 1021.7L1667.6 1024.5L1668.5 1027.4L1669.5 1030.2L1670.4 1033.0L1671.3 1035.9L1672.1 1038.7L1673.0 1041.6L1673.9 1044.4L1674.7 1047.3L1675.5 1050.1L1676.3 1053.0L1677.1 1055.9L1677.9 1058.7L1678.6 1061.6L1679.3 1064.5L1680.0 1067.3L1680.7 1070.2L1681.4 1073.1L1682.0 1076.0L1682.6 1078.9L1683.2 1081.8L1683.8 1084.7L1684.4 1087.6L1684.9 1090.6L1685.5 1093.5L1686.0 1096.4L1686.5 1099.4L1687.1 1102.3L1687.6 1105.2L1688.1 1108.2L1688.6 1111.1L1689.2 1114.1L1689.7 1117.1L1690.2 1120.0L1690.8 1123.0L1691.3 1125.9L1691.9 1128.9L1692.5 1131.9L1693.1 1134.8L1693.7 1137.8L1694.3 1140.8L1695.0 1143.7L1695.6 1146.7L1696.3 1149.7L1697.0 1152.6L1697.8 1155.6L1698.6 1158.5L1699.4 1161.4L1700.2 1164.4L1701.1 1167.3L1701.9 1170.2L1702.8 1173.1L1703.8 1176.0L1704.7 1178.9L1705.7 1181.8L1706.7 1184.6L1707.7 1187.5L1708.7 1190.3L1709.8 1193.2L1710.9 1196.0L1712.0 1198.9L1713.1 1201.7L1714.2 1204.5L1715.4 1207.3L1716.6 1210.1L1717.8 1212.9L1719.0 1215.6L1720.2 1218.4L1721.4 1221.2L1722.7 1223.9L1724.0 1226.7L1725.3 1229.4L1726.6 1232.1L1727.9 1234.9L1729.2 1237.6L1730.5 1240.3L1731.9 1243.0L1733.3 1245.7L1734.6 1248.4L1736.0 1251.0L1737.4 1253.7L1738.8 1256.4L1740.3 1259.0L1741.7 1261.7L1743.1 1264.4L1744.6 1267.0L1746.0 1269.6L1747.5 1272.3L1749.0 1274.9L1750.5 1277.5L1752.0 1280.1L1753.4 1282.7L1754.9 1285.4L1756.5 1288.0L1758.0 1290.6L1759.5 1293.2L1761.0 1295.8L1762.5 1298.3L1764.1 1300.9L1765.6 1303.5L1767.2 1306.1L1768.7 1308.7L1770.3 1311.2L1771.8 1313.8L1773.4 1316.4L1774.9 1319.0L1776.5 1321.5L1778.0 1324.1L1779.6 1326.7L1781.1 1329.2L1782.7 1331.8L1784.2 1334.4L1785.8 1336.9L1787.4 1339.5L1788.9 1342.0L1790.5 1344.6L1792.0 1347.2L1793.6 1349.7L1795.1 1352.3L1796.6 1354.9L1798.2 1357.4L1799.7 1360.0L1801.2 1362.6L1802.8 1365.2L1804.3 1367.7L1805.8 1370.3L1807.3 1372.9L1808.8 1375.5L1810.3 1378.1L1811.8 1380.7L1813.3 1383.3L1814.7 1385.8L1816.2 1388.5L1817.6 1391.1L1819.1 1393.7L1820.5 1396.3L1822.0 1398.9L1823.4 1401.5L1824.8 1404.2L1826.2 1406.8L1827.6 1409.4L1829.1 1412.1L1830.5 1414.7L1831.9 1417.4L1833.3 1420.0L1834.7 1422.6L1836.2 1425.3L1837.6 1427.9L1839.1 1430.6L1840.5 1433.2L1842.0 1435.8L1843.5 1438.5L1845.0 1441.1L1846.6 1443.7L1848.1 1446.3L1849.7 1448.9L1851.3 1451.5L1852.9 1454.0L1854.5 1456.6L1856.2 1459.1L1857.9 1461.7L1859.6 1464.2L1861.3 1466.7L1863.1 1469.2L1864.9 1471.6L1866.8 1474.0L1868.7 1476.5L1870.6 1478.8L1872.5 1481.2L1874.5 1483.5L1876.5 1485.8L1878.6 1488.1L1880.7 1490.3L1882.9 1492.5L1885.1 1494.6L1887.2 1496.8L1889.4 1499.0L1891.6 1501.1L1893.9 1503.2L1896.3 1505.2L1898.7 1507.2L1901.2 1509.1L1903.8 1511.0L1906.4 1512.7L1909.1 1514.4L1911.9 1515.9L1914.8 1517.4L1917.8 1518.6L1920.8 1519.8L1923.9 1520.7L1927.1 1521.5L1930.3 1522.2L1933.6 1522.6L1936.9 1522.8L1940.0 1522.8L1943.1 1522.8L1946.0 1522.8L1949.0 1522.8L1952.0 1522.8L1955.0 1522.8L1958.0 1522.8L1961.0 1522.8L1964.0 1522.8L1967.0 1522.8L1970.0 1522.8L1973.0 1522.8L1976.0 1522.8L1979.0 1522.8L1982.0 1522.8L1985.0 1522.8L1988.0 1522.8L1991.0 1522.8L1994.0 1522.8L1997.0 1522.8L2000.0 1522.8L2003.0 1522.8L2006.0 1522.8L2009.0 1522.8L2012.0 1522.8L2015.0 1522.8L2018.0 1522.8L2021.0 1522.8L2024.0 1522.8L2027.0 1522.8L2030.0 1522.8L2033.0 1522.8L2036.0 1522.8L2039.0 1522.8L2042.0 1522.8L2045.0 1522.8L2048.0 1522.8L2051.0 1522.8L2054.0 1522.8L2057.0 1522.8L2060.0 1522.8L2063.0 1522.8L2063.0 1512.3L2060.0 1512.3L2057.0 1512.3L2054.0 1512.3L2051.0 1512.3L2048.0 1512.3L2045.0 1512.3L2042.0 1512.3L2039.0 1512.3L2036.0 1512.3L2033.0 1512.3L2030.0 1512.3L2027.0 1512.3L2024.0 1512.3L2021.0 1512.3L2018.0 1512.3L2015.0 1512.3L2012.0 1512.3L2009.0 1512.3L2006.0 1512.3L2003.0 1512.3L2000.0 1512.3L1997.0 1512.3L1994.0 1512.3L1991.0 1512.3L1988.0 1512.3L1985.0 1512.3L1982.0 1512.3L1979.0 1512.3L1976.0 1512.3L1973.0 1512.3L1970.0 1512.3L1967.0 1512.3L1964.0 1512.3L1961.0 1512.3L1958.0 1512.3L1955.0 1512.3L1952.0 1512.3L1949.0 1512.3L1946.0 1512.3L1943.0 1512.4L1940.1 1512.3L1937.2 1512.3L1934.5 1512.2L1931.8 1511.9L1929.1 1511.5L1926.5 1510.9L1923.8 1510.2L1921.2 1509.4L1918.6 1508.5L1916.0 1507.4L1913.5 1506.2L1911.0 1504.9L1908.5 1503.5L1906.1 1502.1L1903.7 1500.5L1901.4 1498.8L1899.1 1497.0L1896.8 1495.2L1894.6 1493.3L1892.5 1491.4L1890.3 1489.4L1888.3 1487.2L1886.4 1485.0L1884.4 1482.8L1882.5 1480.6L1880.7 1478.3L1878.8 1476.0L1877.0 1473.7L1875.2 1471.4L1873.5 1469.0L1871.8 1466.6L1870.1 1464.2L1868.4 1461.8L1866.8 1459.3L1865.2 1456.8L1863.6 1454.4L1862.0 1451.9L1860.4 1449.3L1858.9 1446.8L1857.4 1444.3L1855.9 1441.7L1854.4 1439.1L1852.9 1436.5L1851.5 1433.9L1850.0 1431.4L1848.6 1428.7L1847.1 1426.1L1845.7 1423.5L1844.3 1420.9L1842.9 1418.3L1841.5 1415.6L1840.0 1413.0L1838.6 1410.3L1837.2 1407.7L1835.8 1405.1L1834.4 1402.4L1832.9 1399.8L1831.5 1397.1L1830.0 1394.5L1828.6 1391.8L1827.1 1389.2L1825.6 1386.6L1824.2 1384.0L1822.7 1381.3L1821.2 1378.7L1819.7 1376.1L1818.2 1373.5L1816.6 1370.9L1815.1 1368.3L1813.6 1365.7L1812.1 1363.1L1810.5 1360.6L1809.0 1358.0L1807.5 1355.4L1805.9 1352.8L1804.4 1350.2L1802.8 1347.7L1801.3 1345.1L1799.7 1342.5L1798.1 1340.0L1796.6 1337.4L1795.0 1334.8L1793.5 1332.3L1791.9 1329.7L1790.4 1327.1L1788.8 1324.6L1787.3 1322.0L1785.7 1319.4L1784.1 1316.9L1782.6 1314.3L1781.1 1311.7L1779.5 1309.2L1778.0 1306.6L1776.4 1304.0L1774.9 1301.5L1773.4 1298.9L1771.9 1296.3L1770.3 1293.8L1768.8 1291.2L1767.3 1288.6L1765.8 1286.0L1764.3 1283.4L1762.8 1280.8L1761.4 1278.2L1759.9 1275.6L1758.4 1273.0L1757.0 1270.4L1755.5 1267.8L1754.1 1265.2L1752.7 1262.6L1751.2 1260.0L1749.8 1257.3L1748.4 1254.7L1747.1 1252.1L1745.7 1249.4L1744.3 1246.8L1743.0 1244.1L1741.6 1241.4L1740.3 1238.8L1739.0 1236.1L1737.7 1233.4L1736.4 1230.8L1735.1 1228.1L1733.9 1225.4L1732.6 1222.7L1731.4 1220.0L1730.2 1217.3L1729.0 1214.5L1727.8 1211.8L1726.6 1209.1L1725.5 1206.3L1724.4 1203.6L1723.3 1200.8L1722.2 1198.1L1721.1 1195.3L1720.1 1192.5L1719.0 1189.8L1718.0 1187.0L1717.0 1184.2L1716.1 1181.4L1715.1 1178.6L1714.2 1175.8L1713.3 1173.0L1712.4 1170.1L1711.6 1167.3L1710.7 1164.5L1709.9 1161.6L1709.1 1158.8L1708.4 1155.9L1707.6 1153.1L1706.9 1150.2L1706.3 1147.3L1705.6 1144.4L1705.0 1141.5L1704.3 1138.6L1703.7 1135.7L1703.2 1132.8L1702.6 1129.9L1702.0 1127.0L1701.5 1124.0L1700.9 1121.1L1700.4 1118.2L1699.9 1115.2L1699.3 1112.3L1698.8 1109.3L1698.3 1106.4L1697.8 1103.4L1697.2 1100.5L1696.7 1097.5L1696.2 1094.6L1695.6 1091.6L1695.1 1088.6L1694.5 1085.7L1693.9 1082.7L1693.3 1079.7L1692.7 1076.8L1692.0 1073.8L1691.4 1070.8L1690.7 1067.9L1690.0 1064.9L1689.2 1062.0L1688.5 1059.0L1687.7 1056.1L1686.9 1053.2L1686.1 1050.3L1685.2 1047.3L1684.4 1044.4L1683.5 1041.5L1682.6 1038.7L1681.7 1035.8L1680.8 1032.9L1679.9 1030.0L1679.0 1027.1L1678.0 1024.3L1677.1 1021.4L1676.2 1018.6L1675.2 1015.7L1674.3 1012.9L1673.3 1010.0L1672.4 1007.2L1671.4 1004.3L1670.5 1001.5L1669.6 998.6L1668.6 995.8L1667.7 992.9L1666.8 990.1L1665.9 987.3L1665.0 984.4L1664.1 981.6L1663.2 978.7L1662.3 975.9L1661.5 973.0L1660.6 970.2L1659.8 967.3L1659.0 964.5L1658.2 961.6L1657.4 958.7L1656.7 955.9L1656.0 953.0L1655.3 950.1L1654.6 947.2L1653.9 944.4L1653.3 941.5L1652.6 938.6L1652.0 935.7L1651.4 932.7L1650.8 929.8L1650.3 926.9L1649.7 924.0L1649.2 921.1L1648.6 918.1L1648.1 915.2L1647.6 912.3L1647.1 909.3L1646.6 906.4L1646.1 903.4L1645.6 900.5L1645.1 897.5L1644.6 894.6L1644.1 891.6L1643.6 888.6L1643.2 885.7L1642.7 882.7L1642.2 879.8L1641.7 876.8L1641.2 873.8L1640.7 870.9L1640.1 867.9L1639.6 864.9L1639.1 862.0L1638.5 859.0L1638.0 856.0L1637.4 853.1L1636.9 850.1L1636.3 847.2L1635.7 844.2L1635.1 841.3L1634.5 838.3L1633.9 835.4L1633.3 832.4L1632.7 829.5L1632.1 826.5L1631.5 823.6L1630.9 820.6L1630.2 817.7L1629.6 814.8L1629.0 811.8L1628.3 808.9L1627.7 805.9L1627.0 803.0L1626.3 800.1L1625.7 797.1L1625.0 794.2L1624.4 791.3L1623.7 788.4L1623.0 785.4L1622.3 782.5L1621.7 779.6L1621.0 776.7L1620.3 773.7L1619.6 770.8L1619.0 767.9L1618.3 765.0L1617.6 762.0L1616.9 759.1L1616.2 756.2L1615.5 753.3L1614.9 750.4L1614.2 747.4L1613.5 744.5L1612.8 741.6L1612.1 738.7L1611.5 735.8L1610.8 732.8L1610.1 729.9L1609.4 727.0L1608.7 724.1L1608.1 721.2L1607.4 718.2L1606.7 715.3L1606.0 712.4L1605.3 709.5L1604.7 706.6L1604.0 703.6L1603.3 700.7L1602.6 697.8L1601.9 694.9L1601.3 692.0L1600.6 689.0L1599.9 686.1L1599.2 683.2L1598.5 680.3L1597.9 677.4L1597.2 674.4L1596.5 671.5L1595.8 668.6L1595.1 665.7L1594.5 662.7L1593.8 659.8L1593.1 656.9L1592.4 654.0L1591.7 651.1L1591.0 648.1L1590.4 645.2L1589.7 642.3L1589.0 639.4L1588.3 636.5L1587.6 633.5L1587.0 630.6L1586.3 627.7L1585.6 624.8L1584.9 621.9L1584.2 618.9L1583.6 616.0L1582.9 613.1L1582.2 610.2L1581.5 607.3L1580.8 604.3L1580.1 601.4L1579.4 598.5L1578.8 595.6L1578.1 592.7L1577.4 589.7L1576.7 586.8L1576.0 583.9L1575.3 581.0L1574.6 578.1L1574.0 575.1L1573.3 572.2L1572.6 569.3L1571.9 566.4L1571.2 563.5L1570.5 560.5L1569.8 557.6L1569.1 554.7L1568.5 551.8L1567.8 548.9L1567.1 545.9L1566.4 543.0L1565.7 540.1L1565.0 537.2L1564.3 534.3L1563.6 531.3L1562.9 528.4L1562.2 525.5L1561.5 522.6L1560.7 519.7L1560.0 516.8L1559.3 513.8L1558.6 510.9L1557.9 508.0L1557.1 505.1L1556.4 502.2L1555.7 499.3L1554.9 496.3L1554.2 493.4L1553.4 490.5L1552.7 487.6L1551.9 484.7L1551.1 481.8L1550.4 478.9L1549.6 476.0L1548.8 473.1L1548.0 470.2L1547.2 467.3L1546.4 464.4L1545.6 461.5L1544.8 458.6L1543.9 455.7L1543.1 452.8L1542.3 449.9L1541.4 447.0L1540.6 444.1L1539.7 441.2L1538.8 438.3L1537.9 435.5L1537.0 432.6L1536.1 429.7L1535.2 426.8L1534.3 424.0L1533.4 421.1L1532.5 418.2L1531.5 415.4L1530.6 412.5L1529.6 409.6L1528.6 406.8L1527.6 403.9L1526.6 401.1L1525.6 398.2L1524.6 395.4L1523.5 392.6L1522.5 389.7L1521.4 386.9L1520.4 384.1L1519.3 381.3L1518.2 378.5L1517.1 375.6L1516.0 372.8L1514.8 370.0L1513.7 367.2L1512.5 364.4L1511.4 361.7L1510.2 358.9L1509.0 356.1L1507.8 353.3L1506.6 350.6L1505.3 347.8L1504.1 345.1L1502.8 342.3L1501.5 339.6L1500.2 336.9L1498.9 334.1L1497.5 331.4L1496.2 328.7L1494.8 326.0L1493.4 323.3L1491.9 320.6L1490.5 318.0L1489.0 315.3L1487.5 312.7L1486.0 310.0L1484.5 307.4L1482.9 304.8L1481.3 302.2L1479.7 299.6L1478.0 297.1L1476.2 294.5L1474.3 292.0L1472.3 289.6L1470.3 287.2L1468.1 285.0L1465.8 282.8L1463.6 280.4L1461.2 278.1L1458.6 276.0L1455.8 274.1L1452.8 272.4L1449.5 271.0L1446.1 270.1L1442.7 269.6L1439.2 269.4L1435.8 269.6L1432.4 270.0L1429.1 270.8L1425.9 271.7L1422.8 272.9L1419.8 274.3L1417.0 275.9L1414.2 277.6L1411.5 279.5L1409.0 281.6L1406.7 283.8L1404.5 286.1L1402.2 288.3L1399.9 290.6L1397.9 293.0L1395.9 295.5L1394.0 298.0L1392.3 300.6L1390.6 303.3L1389.0 305.9L1387.5 308.7L1386.1 311.4L1384.7 314.1L1383.4 316.9L1382.1 319.7L1380.8 322.4L1379.6 325.2L1378.4 328.0L1377.2 330.7L1376.1 333.5L1374.9 336.3L1373.7 339.0L1372.5 341.8L1371.4 344.5L1370.2 347.3L1369.0 350.1L1367.9 352.8L1366.7 355.6L1365.5 358.4L1364.4 361.1L1363.2 363.9L1362.1 366.7L1360.9 369.5L1359.7 372.2L1358.6 375.0L1357.5 377.8L1356.3 380.6L1355.2 383.4L1354.1 386.2L1352.9 389.0L1351.8 391.8L1350.7 394.6L1349.6 397.4L1348.5 400.2L1347.4 403.0L1346.4 405.8L1345.3 408.6L1344.2 411.4L1343.2 414.3L1342.2 417.1L1341.1 419.9L1340.1 422.8L1339.1 425.6L1338.1 428.5L1337.1 431.3L1336.1 434.2L1335.2 437.0L1334.2 439.9L1333.3 442.8L1332.4 445.7L1331.4 448.5L1330.6 451.4L1329.7 454.3L1328.8 457.2L1327.9 460.1L1327.1 463.0L1326.3 465.9L1325.5 468.8L1324.7 471.7L1323.9 474.6L1323.1 477.6L1322.3 480.5L1321.5 483.4L1320.8 486.3L1320.1 489.2L1319.3 492.2L1318.6 495.1L1317.9 498.0L1317.2 500.9L1316.5 503.9L1315.8 506.8L1315.1 509.7L1314.4 512.7L1313.8 515.6L1313.1 518.5L1312.4 521.5L1311.8 524.4L1311.1 527.3L1310.5 530.3L1309.9 533.2L1309.2 536.2L1308.6 539.1L1308.0 542.0L1307.3 545.0L1306.7 547.9L1306.1 550.8L1305.5 553.8L1304.9 556.7L1304.3 559.7L1303.7 562.6L1303.1 565.5L1302.5 568.5L1301.9 571.4L1301.3 574.4L1300.7 577.3L1300.1 580.3L1299.5 583.2L1298.9 586.1L1298.3 589.1L1297.7 592.0L1297.1 595.0L1296.5 597.9L1295.9 600.9L1295.4 603.8L1294.8 606.7L1294.2 609.7L1293.6 612.6L1293.0 615.6L1292.4 618.5L1291.8 621.4L1291.3 624.4L1290.7 627.3L1290.1 630.3L1289.5 633.2L1288.9 636.1L1288.3 639.1L1287.7 642.0L1287.1 645.0L1286.5 647.9L1285.9 650.8L1285.4 653.8L1284.8 656.7L1284.2 659.6L1283.6 662.6L1282.9 665.5L1282.3 668.4L1281.7 671.4L1281.1 674.3L1280.5 677.2L1279.9 680.2L1279.3 683.1L1278.6 686.0L1278.0 688.9L1277.4 691.9L1276.8 694.8L1276.1 697.7L1275.5 700.6L1274.8 703.6L1274.2 706.5L1273.5 709.4L1272.9 712.3L1272.2 715.2L1271.6 718.1L1270.9 721.1L1270.2 724.0L1269.5 726.9L1268.8 729.8L1268.2 732.7L1267.5 735.6L1266.8 738.5L1266.1 741.4L1265.4 744.4L1264.7 747.3L1264.0 750.2L1263.2 753.1L1262.5 756.0L1261.8 758.9L1261.1 761.8L1260.4 764.7L1259.7 767.6L1258.9 770.5L1258.2 773.4L1257.5 776.3L1256.7 779.2L1256.0 782.1L1255.3 785.1L1254.5 788.0L1253.8 790.9L1253.1 793.8L1252.3 796.7L1251.6 799.6L1250.9 802.5L1250.1 805.4L1249.4 808.3L1248.6 811.2L1247.9 814.1L1247.2 817.0L1246.4 819.9L1245.7 822.8L1245.0 825.8L1244.2 828.7L1243.5 831.6L1242.8 834.5L1242.0 837.4L1241.3 840.3L1240.6 843.2L1239.9 846.1L1239.1 849.0L1238.4 852.0L1237.7 854.9L1237.0 857.8L1236.3 860.7L1235.6 863.6L1234.8 866.5L1234.1 869.5L1233.4 872.4L1232.7 875.3L1232.0 878.2L1231.4 881.2L1230.7 884.1L1230.0 887.0L1229.3 889.9L1228.6 892.9L1228.0 895.8L1227.3 898.7L1226.6 901.7L1226.0 904.6L1225.3 907.5L1224.7 910.5L1224.0 913.4L1223.4 916.4L1222.8 919.3L1222.1 922.2L1221.5 925.2L1220.9 928.1L1220.3 931.1L1219.7 934.0L1219.1 937.0L1218.5 939.9L1217.9 942.9L1217.3 945.8L1216.8 948.8L1216.2 951.7L1215.6 954.7L1215.1 957.6L1214.5 960.6L1213.9 963.5L1213.4 966.5L1212.8 969.4L1212.3 972.4L1211.7 975.3L1211.1 978.3L1210.6 981.2L1210.0 984.2L1209.5 987.1L1208.9 990.1L1208.4 993.0L1207.8 996.0L1207.3 998.9L1206.7 1001.8L1206.2 1004.8L1205.6 1007.7L1205.1 1010.7L1204.5 1013.6L1204.0 1016.6L1203.4 1019.5L1202.8 1022.4L1202.3 1025.4L1201.7 1028.3L1201.1 1031.3L1200.5 1034.2L1199.9 1037.1L1199.4 1040.1L1198.8 1043.0L1198.2 1045.9L1197.6 1048.8L1197.0 1051.8L1196.3 1054.7L1195.7 1057.6L1195.1 1060.5L1194.5 1063.5L1193.8 1066.4L1193.2 1069.3L1192.5 1072.2L1191.9 1075.1L1191.2 1078.0L1190.5 1080.9L1189.8 1083.8L1189.2 1086.7L1188.5 1089.6L1187.7 1092.5L1187.0 1095.4L1186.3 1098.3L1185.6 1101.2L1184.8 1104.1L1184.1 1107.0L1183.3 1109.9L1182.5 1112.7L1181.7 1115.6L1180.9 1118.5L1180.1 1121.3L1179.3 1124.2L1178.4 1127.0L1177.6 1129.9L1176.7 1132.8L1175.9 1135.6L1175.0 1138.4L1174.1 1141.3L1173.1 1144.1L1172.2 1146.9L1171.3 1149.8L1170.3 1152.6L1169.4 1155.4L1168.4 1158.2L1167.4 1161.0L1166.4 1163.9L1165.4 1166.7L1164.4 1169.5L1163.4 1172.3L1162.4 1175.1L1161.3 1177.9L1160.3 1180.7L1159.3 1183.5L1158.2 1186.3L1157.2 1189.1L1156.1 1191.9L1155.1 1194.8L1154.0 1197.6L1153.0 1200.4L1151.9 1203.2L1150.9 1206.0L1149.8 1208.8L1148.8 1211.6L1147.8 1214.4L1146.7 1217.3L1145.7 1220.1L1144.6 1222.9L1143.6 1225.7L1142.6 1228.6L1141.6 1231.4L1140.6 1234.2L1139.6 1237.1L1138.6 1239.9L1137.6 1242.7L1136.6 1245.6L1135.6 1248.4L1134.6 1251.2L1133.6 1254.1L1132.6 1256.9L1131.7 1259.7L1130.7 1262.6L1129.7 1265.4L1128.7 1268.2L1127.7 1271.1L1126.7 1273.9L1125.7 1276.7L1124.7 1279.5L1123.7 1282.3L1122.7 1285.2L1121.7 1288.0L1120.7 1290.8L1119.7 1293.6L1118.6 1296.4L1117.6 1299.2L1116.6 1302.0L1115.5 1304.8L1114.4 1307.5L1113.4 1310.3L1112.3 1313.1L1111.2 1315.9L1110.1 1318.6L1109.0 1321.4L1107.9 1324.2L1106.7 1326.9L1105.6 1329.6L1104.4 1332.4L1103.2 1335.1L1102.0 1337.8L1100.8 1340.6L1099.6 1343.3L1098.4 1346.0L1097.1 1348.7L1095.9 1351.4L1094.6 1354.1L1093.3 1356.7L1092.0 1359.4L1090.7 1362.1L1089.3 1364.7L1088.0 1367.4L1086.6 1370.0L1085.3 1372.7L1083.9 1375.3L1082.5 1377.9L1081.1 1380.6L1079.7 1383.2L1078.2 1385.8L1076.8 1388.4L1075.3 1391.0L1073.8 1393.6L1072.4 1396.1L1070.9 1398.7L1069.3 1401.3L1067.8 1403.8L1066.3 1406.4L1064.7 1408.9L1063.2 1411.5L1061.6 1414.0L1060.0 1416.5L1058.4 1419.0L1056.8 1421.5L1055.2 1424.0L1053.6 1426.5L1051.9 1429.0L1050.3 1431.5L1048.6 1434.0L1046.9 1436.4L1045.2 1438.9L1043.5 1441.3L1041.8 1443.7L1040.1 1446.1L1038.3 1448.5L1036.6 1450.8L1034.8 1453.1L1033.0 1455.4L1031.1 1457.7L1029.2 1459.9L1027.3 1462.0L1025.1 1463.9L1022.9 1465.7L1020.6 1467.4L1018.3 1469.0L1015.9 1470.5L1013.5 1472.0L1011.0 1473.3L1008.5 1474.6L1005.9 1475.8L1003.3 1476.9L1000.7 1478.0L998.0 1479.0L995.3 1479.8L992.5 1480.7L989.8 1481.4L987.0 1482.1L984.2 1482.7L981.4 1483.2L978.6 1483.7L975.7 1484.0L972.9 1484.4L970.0 1484.6L967.1 1484.8L964.2 1484.9L961.4 1485.0L958.5 1485.0L955.6 1485.0L952.6 1484.9L949.7 1484.8L946.8 1484.6L943.9 1484.4L941.0 1484.2L938.1 1483.9L935.1 1483.6L932.2 1483.2L929.3 1482.8L926.3 1482.4L923.4 1482.0L920.5 1481.6L917.5 1481.1L914.6 1480.6L911.6 1480.2L908.7 1479.7L905.7 1479.2L902.8 1478.7L899.8 1478.1L896.9 1477.6L893.9 1477.1L890.9 1476.6L888.0 1476.2L885.0 1475.7L882.0 1475.2L879.0 1474.8L876.0 1474.4L872.9 1474.0L869.9 1473.6L866.9 1473.2L863.9 1472.9L860.9 1472.6L857.8 1472.3L854.8 1472.1L851.8 1471.9L848.7 1471.7L845.7 1471.5L842.7 1471.3L839.6 1471.2L836.6 1471.1L833.6 1471.0L830.6 1470.9L827.5 1470.8L824.5 1470.8L821.5 1470.8L818.4 1470.8L815.4 1470.8L812.4 1470.8L809.3 1470.9L806.3 1470.9L803.3 1471.0L800.3 1471.1L797.3 1471.2L794.2 1471.3L791.2 1471.5L788.2 1471.6L785.2 1471.8L782.2 1472.0L779.2 1472.1L776.2 1472.3L773.1 1472.5L770.1 1472.8L767.1 1473.0L764.1 1473.2L761.1 1473.4L758.1 1473.7L755.1 1473.9L752.1 1474.2L749.1 1474.5L746.1 1474.7L743.1 1475.0L740.1 1475.3L737.2 1475.6L734.2 1475.8L731.2 1476.1L728.2 1476.4L725.2 1476.7L722.2 1477.0L719.2 1477.3L716.2 1477.6L713.2 1477.9L710.2 1478.3L707.3 1478.6L704.3 1478.9L701.3 1479.2L698.3 1479.5L695.3 1479.9L692.3 1480.2L689.3 1480.5L686.4 1480.8L683.4 1481.2L680.4 1481.5L677.4 1481.8L674.4 1482.2L671.5 1482.5L668.5 1482.8L665.5 1483.2L662.5 1483.5L659.5 1483.8L656.5 1484.2L653.6 1484.5L650.6 1484.9L647.6 1485.2L644.6 1485.5L641.7 1485.9L638.7 1486.2L635.7 1486.5L632.7 1486.8L629.7 1487.2L626.8 1487.5L623.8 1487.8L620.8 1488.1L617.8 1488.5L614.9 1488.8L611.9 1489.1L608.9 1489.4L605.9 1489.7L602.9 1490.0L600.0 1490.3L597.0 1490.6L594.0 1490.9L591.0 1491.2L588.1 1491.5L585.1 1491.8L582.1 1492.1L579.1 1492.4L576.1 1492.6L573.2 1492.9L570.2 1493.2L567.2 1493.4L564.2 1493.7L561.2 1493.9L558.3 1494.2L555.3 1494.4L552.3 1494.6L549.3 1494.9L546.3 1495.1L543.4 1495.3L540.4 1495.5L537.4 1495.7L534.4 1495.9L531.4 1496.1L528.5 1496.3L525.5 1496.5L522.5 1496.6L519.5 1496.8L516.5 1496.9L513.6 1497.1L510.6 1497.2L507.6 1497.4L504.6 1497.5L501.6 1497.6L498.6 1497.7L495.7 1497.8L492.7 1497.9L489.7 1498.0L486.7 1498.0L483.7 1498.1L480.7 1498.1L477.8 1498.2L474.8 1498.2L471.8 1498.3L468.8 1498.3L465.8 1498.3L462.8 1498.3L459.8 1498.3L456.9 1498.3L453.9 1498.3L450.9 1498.3L447.9 1498.3L444.9 1498.3L441.9 1498.2L438.9 1498.2L435.9 1498.2L432.9 1498.1L429.9 1498.1L427.0 1498.0L424.0 1498.0L421.0 1497.9L418.0 1497.8L415.0 1497.8L412.0 1497.7L409.0 1497.6L406.0 1497.5L403.0 1497.5L400.0 1497.4L397.0 1497.3L394.0 1497.2L391.1 1497.1L388.1 1497.0L385.1 1496.9L382.1 1496.8L379.1 1496.7L376.1 1496.6L373.1 1496.5L370.1 1496.4L367.1 1496.3L364.1 1496.2L361.1 1496.1L358.1 1496.0L355.1 1495.8L352.1 1495.7L349.1 1495.6L346.1 1495.5L343.1 1495.4L340.1 1495.3L337.1 1495.2L334.1 1495.1L331.1 1495.0L328.1 1494.9L325.1 1494.8L322.1 1494.7L319.1 1494.6L316.1 1494.5L313.1 1494.4L310.1 1494.3L307.1 1494.2L304.1 1494.1L301.1 1494.0L298.1 1494.0L295.1 1493.9L292.1 1493.8L289.1 1493.7L286.1 1493.7L283.1 1493.6L280.1 1493.6L277.1 1493.5L274.1 1493.5L271.1 1493.4L268.1 1493.4L265.1 1493.3L262.0 1493.3L259.0 1493.3L256.0 1493.3L253.0 1493.3Z" fill="#ff0000"/>
<path d="M253.1 1513.3L255.7 1513.2L258.3 1513.2L258.1 1502.7L255.5 1502.7L252.9 1502.8ZM271.2 1513.1L273.7 1513.1L276.2 1513.1L278.7 1513.1L281.2 1513.0L281.2 1502.5L278.7 1502.6L276.2 1502.6L273.7 1502.6L271.2 1502.6ZM296.2 1513.0L299.1 1513.0L302.0 1513.0L304.8 1513.1L307.7 1513.1L310.6 1513.1L313.5 1513.1L316.4 1513.1L319.2 1513.1L322.1 1513.1L325.0 1513.2L327.9 1513.2L330.8 1513.2L333.6 1513.2L333.7 1502.7L330.9 1502.7L328.0 1502.7L325.1 1502.7L322.2 1502.6L319.3 1502.6L316.4 1502.6L313.5 1502.6L310.6 1502.6L307.8 1502.6L304.9 1502.6L302.0 1502.5L299.1 1502.5L296.2 1502.5ZM346.6 1513.4L349.1 1513.4L351.6 1513.4L354.1 1513.5L356.6 1513.5L356.8 1503.0L354.3 1503.0L351.8 1502.9L349.3 1502.9L346.8 1502.9ZM371.6 1513.7L374.5 1513.8L377.4 1513.8L380.3 1513.9L383.1 1513.9L386.0 1514.0L388.9 1514.0L391.8 1514.1L394.7 1514.1L397.6 1514.2L400.4 1514.2L403.3 1514.3L406.2 1514.3L409.1 1514.4L409.3 1503.9L406.4 1503.8L403.5 1503.8L400.6 1503.7L397.7 1503.7L394.9 1503.6L392.0 1503.6L389.1 1503.5L386.2 1503.5L383.3 1503.4L380.4 1503.4L377.5 1503.3L374.7 1503.3L371.8 1503.2ZM422.1 1514.6L424.6 1514.7L427.1 1514.7L429.6 1514.8L432.1 1514.8L432.3 1504.3L429.8 1504.3L427.3 1504.2L424.8 1504.2L422.3 1504.1ZM447.1 1515.1L450.0 1515.2L452.8 1515.2L455.7 1515.3L458.6 1515.4L461.5 1515.4L464.4 1515.5L467.3 1515.5L470.2 1515.6L473.0 1515.6L475.9 1515.7L478.8 1515.8L481.7 1515.8L484.6 1515.9L484.8 1505.4L481.9 1505.3L479.0 1505.3L476.1 1505.2L473.2 1505.2L470.4 1505.1L467.5 1505.0L464.6 1505.0L461.7 1504.9L458.8 1504.9L455.9 1504.8L453.1 1504.8L450.2 1504.7L447.3 1504.6ZM497.6 1516.1L500.1 1516.1L502.6 1516.2L505.1 1516.2L507.6 1516.3L507.8 1505.8L505.3 1505.7L502.8 1505.7L500.3 1505.6L497.8 1505.6ZM522.6 1516.5L525.5 1516.5L528.4 1516.6L531.3 1516.6L534.1 1516.7L537.0 1516.7L539.9 1516.7L542.8 1516.8L545.7 1516.8L548.6 1516.8L551.5 1516.9L554.4 1516.9L557.2 1516.9L560.1 1516.9L560.2 1506.4L557.3 1506.4L554.4 1506.4L551.6 1506.4L548.7 1506.3L545.8 1506.3L542.9 1506.3L540.0 1506.2L537.2 1506.2L534.3 1506.2L531.4 1506.1L528.5 1506.1L525.6 1506.0L522.7 1506.0ZM573.1 1517.0L575.6 1517.0L578.1 1517.0L580.6 1517.1L583.2 1517.1L583.2 1506.6L580.7 1506.6L578.2 1506.5L575.7 1506.5L573.2 1506.5ZM598.2 1517.1L601.1 1517.1L604.0 1517.1L606.8 1517.1L609.7 1517.0L612.6 1517.0L615.5 1517.0L618.4 1517.0L621.3 1517.0L624.2 1516.9L627.1 1516.9L630.0 1516.9L632.8 1516.9L635.7 1516.8L635.6 1506.3L632.7 1506.4L629.8 1506.4L627.0 1506.4L624.1 1506.4L621.2 1506.5L618.3 1506.5L615.4 1506.5L612.6 1506.5L609.7 1506.5L606.8 1506.6L603.9 1506.6L601.0 1506.6L598.2 1506.6ZM648.8 1516.6L651.3 1516.6L653.8 1516.5L656.3 1516.5L658.8 1516.4L658.6 1505.9L656.1 1506.0L653.6 1506.0L651.1 1506.1L648.6 1506.1ZM723.3 1514.2L725.8 1514.1L728.3 1514.0L730.8 1513.8L733.3 1513.7L732.7 1503.2L730.2 1503.4L727.7 1503.5L725.3 1503.6L722.8 1503.8ZM745.8 1513.0L748.6 1512.8L751.3 1512.7L754.1 1512.5L756.9 1512.3L759.7 1512.1L762.4 1511.9L765.2 1511.7L768.0 1511.5L770.8 1511.3L773.5 1511.1L776.3 1510.9L779.1 1510.6L781.8 1510.4L781.0 1500.0L778.2 1500.2L775.5 1500.4L772.7 1500.6L770.0 1500.9L767.2 1501.1L764.5 1501.3L761.7 1501.5L758.9 1501.7L756.2 1501.8L753.4 1502.0L750.7 1502.2L747.9 1502.4L745.2 1502.5ZM798.3 1508.9L800.8 1508.6L803.3 1508.4L805.8 1508.1L808.3 1507.9L807.2 1497.5L804.7 1497.7L802.3 1498.0L799.8 1498.2L797.3 1498.5ZM823.8 1506.0L826.6 1505.7L829.5 1505.3L832.3 1504.9L835.1 1504.5L837.9 1504.1L840.7 1503.7L843.6 1503.3L846.4 1502.9L849.2 1502.4L852.0 1502.0L854.8 1501.5L857.6 1501.0L855.9 1490.8L853.1 1491.3L850.3 1491.7L847.6 1492.2L844.8 1492.6L842.0 1493.0L839.2 1493.4L836.4 1493.8L833.7 1494.2L830.9 1494.6L828.1 1495.0L825.3 1495.3L822.5 1495.7ZM877.4 1497.4L880.3 1496.8L883.2 1496.2L886.1 1495.5L889.0 1494.9L891.9 1494.3L894.7 1493.6L897.6 1492.9L900.5 1492.2L903.4 1491.5L906.2 1490.8L909.1 1490.1L911.9 1489.3L914.8 1488.5L917.7 1487.7L915.0 1478.0L912.2 1478.7L909.4 1479.5L906.5 1480.2L903.7 1480.9L900.9 1481.6L898.1 1482.3L895.3 1483.0L892.4 1483.6L889.6 1484.3L886.8 1484.9L883.9 1485.5L881.1 1486.1L878.2 1486.7L875.4 1487.3ZM934.7 1482.7L937.1 1481.9L939.5 1481.1L941.9 1480.3L944.3 1479.5L941.1 1470.1L938.7 1470.9L936.4 1471.6L934.0 1472.4L931.7 1473.1ZM961.9 1473.0L964.6 1471.8L967.3 1470.7L970.0 1469.5L972.7 1468.4L975.4 1467.2L978.1 1465.9L980.8 1464.7L983.4 1463.4L986.1 1462.1L988.7 1460.7L991.3 1459.3L993.9 1457.9L989.5 1449.8L987.0 1451.1L984.4 1452.4L981.9 1453.6L979.3 1454.9L976.7 1456.1L974.1 1457.2L971.5 1458.4L968.9 1459.5L966.2 1460.7L963.6 1461.8L960.9 1462.8L958.3 1463.9ZM1010.6 1447.7L1012.7 1446.2L1014.8 1444.7L1016.9 1443.2L1018.9 1441.7L1013.9 1434.9L1011.9 1436.3L1009.9 1437.7L1007.9 1439.0L1005.8 1440.4ZM1036.3 1427.0L1038.4 1425.0L1040.6 1422.9L1042.7 1420.8L1044.8 1418.7L1046.9 1416.6L1049.1 1414.5L1051.2 1412.4L1053.2 1410.3L1055.3 1408.1L1057.4 1406.0L1059.4 1403.8L1061.4 1401.6L1063.4 1399.4L1065.4 1397.2L1067.4 1395.0L1061.5 1389.8L1059.5 1392.0L1057.6 1394.2L1055.6 1396.4L1053.7 1398.6L1051.7 1400.7L1049.7 1402.9L1047.8 1405.0L1045.8 1407.1L1043.7 1409.2L1041.7 1411.3L1039.6 1413.4L1037.5 1415.4L1035.4 1417.3L1033.2 1419.3L1031.0 1421.2ZM1082.9 1377.0L1084.5 1375.1L1086.1 1373.2L1087.7 1371.2L1089.3 1369.3L1083.1 1364.1L1081.5 1366.1L1079.9 1368.0L1078.3 1369.9L1076.7 1371.8ZM1106.0 1348.6L1107.7 1346.3L1109.5 1344.0L1111.2 1341.7L1112.9 1339.4L1114.6 1337.1L1116.3 1334.8L1118.0 1332.5L1119.7 1330.2L1121.4 1327.9L1123.0 1325.5L1124.7 1323.2L1126.3 1320.8L1127.9 1318.4L1129.5 1316.1L1122.3 1311.2L1120.7 1313.6L1119.1 1315.9L1117.5 1318.3L1115.9 1320.6L1114.3 1322.9L1112.7 1325.2L1111.1 1327.5L1109.4 1329.8L1107.8 1332.1L1106.1 1334.4L1104.4 1336.7L1102.8 1339.0L1101.1 1341.2L1099.4 1343.5ZM1142.4 1296.3L1143.7 1294.1L1145.0 1292.0L1146.4 1289.9L1147.7 1287.8L1140.2 1283.1L1138.8 1285.2L1137.5 1287.3L1136.2 1289.4L1134.9 1291.5ZM1161.4 1266.3L1162.9 1263.9L1164.5 1261.5L1166.1 1259.1L1167.7 1256.8L1169.3 1254.4L1170.9 1252.1L1172.5 1249.8L1174.2 1247.5L1175.9 1245.2L1177.6 1242.9L1179.3 1240.6L1181.0 1238.3L1182.7 1236.0L1184.5 1233.7L1177.7 1228.7L1176.0 1231.0L1174.3 1233.3L1172.5 1235.6L1170.8 1237.9L1169.1 1240.2L1167.4 1242.5L1165.6 1244.8L1163.9 1247.2L1162.2 1249.5L1160.6 1251.9L1158.9 1254.2L1157.3 1256.6L1155.7 1259.0L1154.1 1261.4ZM1199.1 1212.4L1200.4 1210.1L1201.6 1207.8L1202.8 1205.5L1204.0 1203.2L1195.3 1199.2L1194.3 1201.4L1193.3 1203.6L1192.2 1205.8L1191.1 1207.9ZM1212.5 1181.9L1213.4 1179.1L1214.4 1176.4L1215.3 1173.6L1216.3 1170.8L1217.3 1168.1L1218.2 1165.4L1219.2 1162.7L1220.2 1160.0L1221.3 1157.3L1222.3 1154.6L1223.4 1151.9L1224.5 1149.2L1215.5 1145.5L1214.4 1148.2L1213.3 1150.9L1212.2 1153.7L1211.1 1156.4L1210.0 1159.2L1209.0 1162.0L1207.9 1164.8L1206.9 1167.6L1206.0 1170.3L1205.0 1173.1L1204.1 1175.9L1203.1 1178.6ZM1232.4 1130.3L1233.4 1128.0L1234.3 1125.6L1235.2 1123.3L1236.2 1121.0L1227.1 1117.4L1226.2 1119.7L1225.3 1122.0L1224.3 1124.3L1223.4 1126.6ZM1245.1 1097.0L1246.0 1094.1L1247.0 1091.3L1248.0 1088.4L1248.9 1085.6L1249.9 1082.7L1250.8 1079.9L1251.8 1077.0L1252.7 1074.1L1253.6 1071.3L1254.5 1068.4L1255.4 1065.5L1245.9 1062.6L1245.0 1065.4L1244.1 1068.2L1243.2 1071.1L1242.3 1073.9L1241.3 1076.8L1240.4 1079.6L1239.5 1082.4L1238.5 1085.3L1237.6 1088.1L1236.6 1090.9L1235.7 1093.7ZM1261.5 1045.9L1262.2 1043.5L1262.9 1041.1L1263.6 1038.7L1264.4 1036.3L1254.7 1033.4L1254.0 1035.8L1253.3 1038.2L1252.6 1040.6L1251.9 1043.0ZM1269.1 1020.5L1269.9 1017.8L1270.7 1015.0L1271.6 1012.3L1272.4 1009.6L1273.2 1006.8L1274.0 1004.1L1274.9 1001.4L1275.7 998.7L1276.5 995.9L1277.4 993.2L1278.2 990.5L1279.1 987.8L1279.9 985.1L1280.8 982.3L1271.2 979.3L1270.4 982.0L1269.5 984.8L1268.6 987.5L1267.8 990.2L1266.9 993.0L1266.1 995.7L1265.3 998.5L1264.4 1001.2L1263.6 1003.9L1262.8 1006.7L1261.9 1009.4L1261.1 1012.2L1260.3 1014.9L1259.5 1017.6ZM1286.7 963.9L1287.5 961.5L1288.3 959.1L1289.1 956.7L1289.9 954.4L1280.4 951.2L1279.6 953.6L1278.8 956.0L1278.0 958.4L1277.2 960.7ZM1295.3 937.8L1296.2 934.9L1297.2 932.1L1298.1 929.2L1299.0 926.3L1299.9 923.5L1300.8 920.6L1301.7 917.8L1302.6 914.9L1303.5 912.0L1304.4 909.1L1305.3 906.3L1306.1 903.4L1307.0 900.5L1307.8 897.6L1298.1 894.8L1297.3 897.7L1296.5 900.5L1295.6 903.4L1294.8 906.2L1293.9 909.1L1293.0 911.9L1292.2 914.8L1291.3 917.6L1290.4 920.5L1289.5 923.3L1288.6 926.1L1287.6 929.0L1286.7 931.8L1285.8 934.7ZM1312.5 880.7L1313.2 878.3L1313.8 875.9L1314.5 873.4L1315.1 871.0L1305.3 868.4L1304.6 870.8L1304.0 873.3L1303.4 875.7L1302.7 878.1ZM1319.2 855.0L1320.0 852.2L1320.7 849.3L1321.4 846.5L1322.2 843.7L1322.9 840.8L1323.6 838.0L1324.4 835.2L1325.1 832.3L1325.9 829.5L1326.6 826.7L1327.4 823.8L1328.1 821.0L1328.9 818.2L1329.7 815.4L1330.5 812.6L1320.7 809.8L1319.9 812.7L1319.1 815.5L1318.4 818.4L1317.6 821.2L1316.8 824.0L1316.0 826.9L1315.3 829.7L1314.5 832.6L1313.8 835.4L1313.1 838.3L1312.3 841.1L1311.6 844.0L1310.8 846.8L1310.1 849.7L1309.4 852.5ZM1335.3 795.9L1336.1 793.5L1336.8 791.2L1337.6 788.8L1338.3 786.4L1328.8 783.3L1328.1 785.7L1327.3 788.1L1326.5 790.5L1325.8 792.9ZM1343.6 770.9L1344.6 768.1L1345.6 765.3L1346.6 762.5L1347.6 759.7L1348.7 756.9L1349.7 754.1L1350.8 751.3L1351.8 748.5L1352.9 745.8L1354.0 743.0L1355.0 740.2L1356.1 737.4L1357.2 734.6L1358.3 731.8L1359.4 729.0L1360.5 726.2L1361.6 723.5L1362.7 720.7L1363.8 717.9L1364.9 715.1L1366.0 712.3L1367.1 709.5L1368.2 706.7L1369.3 703.9L1370.4 701.1L1371.5 698.3L1372.6 695.5L1373.7 692.7L1374.8 689.9L1365.7 686.4L1364.6 689.2L1363.5 692.0L1362.4 694.8L1361.3 697.6L1360.2 700.4L1359.1 703.1L1358.0 705.9L1356.9 708.7L1355.8 711.5L1354.7 714.3L1353.6 717.1L1352.5 719.9L1351.4 722.7L1350.3 725.4L1349.2 728.2L1348.1 731.0L1347.0 733.8L1345.9 736.6L1344.8 739.4L1343.7 742.2L1342.7 745.0L1341.6 747.9L1340.5 750.7L1339.4 753.5L1338.4 756.3L1337.3 759.1L1336.3 762.0L1335.3 764.8L1334.3 767.6ZM1381.0 673.5L1381.9 671.2L1382.8 668.9L1383.7 666.5L1384.6 664.2L1375.4 660.7L1374.5 663.1L1373.6 665.4L1372.7 667.7L1371.9 670.1ZM1392.5 643.1L1393.5 640.4L1394.6 637.7L1395.6 634.9L1396.7 632.2L1397.7 629.5L1398.8 626.8L1399.8 624.1L1400.9 621.4L1402.0 618.7L1403.1 616.0L1404.2 613.3L1405.3 610.6L1406.4 607.9L1397.4 604.2L1396.3 606.9L1395.2 609.6L1394.1 612.3L1393.0 615.0L1391.9 617.8L1390.8 620.5L1389.7 623.2L1388.6 626.0L1387.5 628.7L1386.5 631.4L1385.4 634.2L1384.4 636.9L1383.3 639.6ZM1414.0 590.2L1415.0 587.9L1416.1 585.6L1417.1 583.4L1418.2 581.1L1409.6 577.1L1408.5 579.4L1407.4 581.6L1406.4 583.9L1405.3 586.2ZM1428.0 561.1L1429.3 558.6L1430.6 556.1L1431.9 553.6L1433.2 551.0L1434.6 548.5L1435.9 546.0L1437.3 543.5L1438.6 541.0L1440.0 538.6L1441.4 536.1L1442.8 533.6L1444.2 531.1L1445.6 528.6L1447.0 526.1L1439.1 521.6L1437.7 524.1L1436.2 526.6L1434.8 529.1L1433.4 531.6L1432.0 534.1L1430.6 536.6L1429.2 539.1L1427.8 541.6L1426.4 544.1L1425.1 546.7L1423.7 549.2L1422.4 551.7L1421.0 554.3L1419.7 556.8ZM1458.3 506.7L1459.6 504.6L1460.9 502.5L1462.1 500.3L1463.4 498.2L1455.7 493.5L1454.4 495.7L1453.1 497.8L1451.8 500.0L1450.6 502.1ZM1476.1 477.3L1477.6 474.8L1479.2 472.4L1480.7 470.0L1482.3 467.6L1483.9 465.2L1485.5 462.8L1487.1 460.5L1488.8 458.2L1490.4 455.9L1492.2 453.6L1493.9 451.3L1495.7 449.1L1497.5 446.9L1499.3 444.8L1501.2 442.7L1495.8 437.4L1493.7 439.6L1491.6 441.7L1489.6 443.9L1487.6 446.2L1485.7 448.5L1483.8 450.8L1482.0 453.1L1480.2 455.5L1478.5 457.9L1476.7 460.3L1475.1 462.7L1473.4 465.2L1471.8 467.6L1470.2 470.1L1468.6 472.6ZM1514.8 430.2L1516.7 428.6L1518.6 427.0L1520.5 425.4L1522.4 423.9L1517.3 417.6L1515.4 419.2L1513.4 420.9L1511.5 422.5L1509.6 424.2ZM1537.7 414.9L1540.1 414.3L1542.5 413.8L1544.9 413.6L1547.4 413.6L1549.8 413.7L1552.3 414.0L1554.8 414.6L1557.3 415.2L1559.8 416.1L1562.2 417.2L1564.7 418.4L1567.0 419.7L1569.3 421.2L1571.6 422.8L1576.8 416.5L1574.4 414.5L1571.9 412.5L1569.3 410.7L1566.6 409.0L1563.7 407.4L1560.7 406.0L1557.6 404.9L1554.4 404.0L1551.1 403.3L1547.6 403.1L1544.2 403.2L1540.7 403.6L1537.3 404.6L1534.1 405.8ZM1587.3 438.5L1588.9 440.4L1590.4 442.3L1592.0 444.2L1593.6 446.1L1599.8 441.0L1598.2 439.0L1596.6 437.1L1594.9 435.2L1593.3 433.3ZM1607.9 464.2L1609.6 466.4L1611.3 468.7L1613.0 471.0L1614.6 473.3L1616.3 475.6L1618.0 477.9L1619.6 480.2L1621.2 482.5L1622.8 484.9L1624.5 487.2L1626.0 489.5L1627.6 491.9L1634.8 487.0L1633.2 484.6L1631.6 482.3L1629.9 479.9L1628.2 477.6L1626.6 475.2L1624.9 472.9L1623.2 470.6L1621.5 468.3L1619.7 466.0L1618.0 463.7L1616.2 461.4L1614.5 459.1ZM1639.7 510.7L1640.9 512.8L1642.2 515.0L1643.5 517.1L1644.7 519.2L1652.5 514.6L1651.2 512.5L1649.9 510.3L1648.6 508.2L1647.3 506.0ZM1655.6 538.6L1657.0 541.2L1658.3 543.8L1659.7 546.4L1661.0 549.1L1662.3 551.7L1663.7 554.4L1665.0 557.0L1666.2 559.7L1667.5 562.3L1668.8 565.0L1670.0 567.7L1671.2 570.4L1672.4 573.1L1673.6 575.8L1682.4 571.9L1681.2 569.1L1679.9 566.4L1678.6 563.7L1677.4 561.0L1676.1 558.3L1674.7 555.6L1673.4 552.9L1672.1 550.2L1670.7 547.5L1669.3 544.8L1668.0 542.1L1666.6 539.5L1665.1 536.8L1663.7 534.2ZM1681.1 593.5L1682.0 595.8L1682.9 598.1L1683.8 600.4L1684.6 602.7L1693.8 599.2L1692.9 596.9L1692.0 594.5L1691.0 592.2L1690.1 589.8ZM1691.2 620.9L1692.1 623.5L1693.0 626.1L1693.9 628.7L1694.8 631.4L1695.6 634.0L1696.5 636.6L1697.3 639.3L1698.2 641.9L1699.0 644.6L1699.8 647.2L1700.6 649.9L1701.5 652.5L1702.3 655.2L1703.1 657.9L1712.7 655.0L1711.9 652.3L1711.1 649.6L1710.2 646.9L1709.4 644.3L1708.6 641.6L1707.7 638.9L1706.9 636.2L1706.0 633.6L1705.1 630.9L1704.2 628.2L1703.3 625.6L1702.4 622.9L1701.5 620.2L1700.6 617.6ZM1708.2 675.7L1708.9 678.1L1709.6 680.5L1710.2 682.9L1710.9 685.3L1720.7 682.6L1720.0 680.1L1719.3 677.7L1718.6 675.3L1717.9 672.9ZM1715.6 702.2L1716.3 705.1L1717.1 708.0L1717.9 710.9L1718.7 713.8L1719.5 716.7L1720.2 719.5L1721.0 722.4L1721.8 725.3L1722.5 728.2L1723.3 731.1L1724.1 734.0L1724.8 736.9L1725.6 739.8L1735.4 737.2L1734.7 734.3L1733.9 731.4L1733.1 728.5L1732.3 725.6L1731.6 722.7L1730.8 719.8L1730.0 716.9L1729.2 714.0L1728.5 711.1L1727.7 708.2L1726.9 705.3L1726.1 702.4L1725.3 699.5ZM1730.3 757.7L1730.9 760.1L1731.5 762.5L1732.1 764.9L1732.8 767.3L1742.6 764.8L1742.0 762.4L1741.4 759.9L1740.7 757.5L1740.1 755.1ZM1737.6 786.1L1738.4 789.0L1739.1 791.8L1739.8 794.6L1740.5 797.4L1741.3 800.3L1742.0 803.1L1742.7 805.9L1743.4 808.8L1744.1 811.6L1744.9 814.4L1745.6 817.2L1746.3 820.1L1747.0 822.9L1756.9 820.4L1756.2 817.6L1755.4 814.7L1754.7 811.9L1754.0 809.1L1753.3 806.2L1752.6 803.4L1751.8 800.6L1751.1 797.7L1750.4 794.9L1749.7 792.1L1748.9 789.3L1748.2 786.4L1747.5 783.6ZM1752.0 842.7L1752.6 845.2L1753.3 847.6L1753.9 850.0L1754.5 852.4L1764.3 850.0L1763.7 847.5L1763.1 845.1L1762.5 842.7L1761.9 840.3ZM1759.2 871.4L1759.9 874.1L1760.5 876.9L1761.2 879.7L1761.9 882.4L1762.6 885.2L1763.2 887.9L1763.9 890.7L1764.6 893.5L1765.3 896.2L1765.9 899.0L1766.6 901.8L1767.3 904.5L1767.9 907.3L1777.9 904.9L1777.2 902.1L1776.5 899.4L1775.9 896.6L1775.2 893.8L1774.5 891.1L1773.8 888.3L1773.2 885.5L1772.5 882.8L1771.8 880.0L1771.1 877.2L1770.4 874.4L1769.7 871.7L1769.1 868.9ZM1772.2 925.3L1772.8 927.7L1773.4 930.2L1774.0 932.6L1774.5 935.0L1784.5 932.7L1783.9 930.2L1783.3 927.8L1782.8 925.4L1782.2 922.9ZM1778.5 952.0L1779.2 954.8L1779.8 957.6L1780.4 960.4L1781.1 963.2L1781.7 966.0L1782.3 968.7L1783.0 971.5L1783.6 974.3L1784.2 977.1L1784.9 979.9L1785.5 982.7L1786.1 985.4L1786.7 988.2L1787.4 991.0L1797.4 988.8L1796.7 986.0L1796.1 983.2L1795.5 980.4L1794.9 977.6L1794.2 974.8L1793.6 972.0L1793.0 969.3L1792.3 966.5L1791.7 963.7L1791.1 960.9L1790.4 958.1L1789.8 955.3L1789.1 952.5L1788.5 949.7ZM1791.1 1008.1L1791.6 1010.5L1792.2 1012.9L1792.7 1015.4L1793.2 1017.8L1803.3 1015.6L1802.7 1013.2L1802.2 1010.8L1801.7 1008.3L1801.1 1005.9ZM1797.1 1035.9L1797.7 1038.6L1798.3 1041.4L1798.9 1044.2L1799.5 1047.0L1800.1 1049.8L1800.7 1052.5L1801.3 1055.3L1801.9 1058.1L1802.5 1060.9L1803.1 1063.7L1803.7 1066.4L1804.3 1069.2L1804.8 1072.0L1814.9 1069.9L1814.3 1067.1L1813.7 1064.3L1813.1 1061.5L1812.5 1058.7L1811.9 1056.0L1811.3 1053.2L1810.8 1050.4L1810.2 1047.6L1809.6 1044.8L1809.0 1042.1L1808.4 1039.3L1807.8 1036.5L1807.2 1033.7ZM1808.9 1091.0L1809.4 1093.5L1809.9 1095.9L1810.4 1098.4L1810.9 1100.8L1821.0 1098.7L1820.5 1096.3L1820.0 1093.8L1819.4 1091.4L1818.9 1088.9ZM1814.4 1117.0L1815.0 1119.8L1815.6 1122.7L1816.2 1125.6L1816.8 1128.4L1817.4 1131.3L1818.0 1134.2L1818.6 1137.0L1819.2 1139.9L1819.8 1142.7L1820.5 1145.6L1821.1 1148.5L1821.7 1151.3L1822.3 1154.2L1822.9 1157.1L1832.9 1154.9L1832.3 1152.1L1831.7 1149.2L1831.1 1146.3L1830.5 1143.5L1829.9 1140.6L1829.3 1137.7L1828.7 1134.9L1828.1 1132.0L1827.4 1129.2L1826.8 1126.3L1826.2 1123.4L1825.6 1120.6L1825.0 1117.7L1824.4 1114.8ZM1826.6 1174.2L1827.1 1176.7L1827.7 1179.1L1828.2 1181.5L1828.7 1184.0L1838.8 1181.8L1838.2 1179.4L1837.7 1176.9L1837.2 1174.5L1836.6 1172.0ZM1832.3 1200.1L1832.9 1202.9L1833.5 1205.6L1834.1 1208.4L1834.7 1211.1L1835.3 1213.8L1836.0 1216.6L1836.6 1219.3L1837.2 1222.1L1837.8 1224.8L1838.4 1227.5L1839.0 1230.3L1839.6 1233.0L1840.3 1235.7L1840.9 1238.5L1841.5 1241.2L1851.5 1238.9L1850.9 1236.2L1850.3 1233.5L1849.6 1230.7L1849.0 1228.0L1848.4 1225.3L1847.8 1222.5L1847.2 1219.8L1846.6 1217.1L1846.0 1214.3L1845.3 1211.6L1844.7 1208.9L1844.1 1206.1L1843.5 1203.4L1842.9 1200.7L1842.3 1197.9ZM1845.2 1257.3L1845.8 1259.8L1846.4 1262.2L1846.9 1264.6L1847.5 1267.1L1857.4 1264.8L1856.9 1262.3L1856.3 1259.9L1855.8 1257.5L1855.2 1255.0ZM1851.3 1283.2L1851.9 1286.0L1852.6 1288.9L1853.3 1291.7L1854.0 1294.6L1854.7 1297.4L1855.4 1300.3L1856.0 1303.1L1856.7 1305.9L1857.4 1308.8L1858.1 1311.6L1858.8 1314.5L1859.5 1317.3L1860.2 1320.2L1860.9 1323.0L1870.8 1320.6L1870.1 1317.7L1869.4 1314.9L1868.7 1312.1L1868.0 1309.2L1867.3 1306.4L1866.7 1303.5L1866.0 1300.7L1865.3 1297.9L1864.6 1295.0L1863.9 1292.2L1863.2 1289.3L1862.6 1286.5L1861.9 1283.7L1861.2 1280.8ZM1864.9 1339.0L1865.5 1341.4L1866.1 1343.8L1866.7 1346.3L1867.4 1348.7L1877.2 1346.2L1876.6 1343.8L1876.0 1341.3L1875.4 1338.9L1874.8 1336.5ZM1871.7 1365.5L1872.5 1368.4L1873.2 1371.2L1874.0 1374.0L1874.7 1376.9L1875.5 1379.7L1876.3 1382.5L1877.0 1385.3L1877.8 1388.2L1878.6 1391.0L1879.4 1393.8L1880.2 1396.6L1881.0 1399.4L1881.8 1402.2L1882.6 1405.1L1892.3 1402.2L1891.5 1399.4L1890.7 1396.7L1889.9 1393.9L1889.1 1391.1L1888.3 1388.3L1887.6 1385.5L1886.8 1382.7L1886.0 1379.8L1885.3 1377.0L1884.5 1374.2L1883.8 1371.4L1883.0 1368.6L1882.3 1365.8L1881.5 1363.0ZM1888.3 1423.8L1889.1 1426.2L1889.9 1428.6L1890.6 1431.0L1891.4 1433.4L1900.9 1430.3L1900.1 1428.0L1899.4 1425.6L1898.6 1423.2L1897.9 1420.8ZM1897.1 1450.3L1898.1 1453.0L1899.0 1455.7L1900.0 1458.5L1901.1 1461.2L1902.1 1463.9L1903.2 1466.7L1904.3 1469.4L1905.5 1472.1L1906.6 1474.8L1907.9 1477.5L1909.2 1480.1L1910.5 1482.8L1912.0 1485.4L1913.4 1488.0L1915.0 1490.5L1922.8 1485.9L1921.4 1483.5L1920.1 1481.0L1918.9 1478.5L1917.7 1476.0L1916.6 1473.5L1915.4 1470.9L1914.4 1468.3L1913.3 1465.7L1912.3 1463.1L1911.3 1460.4L1910.3 1457.8L1909.3 1455.1L1908.4 1452.4L1907.4 1449.7L1906.5 1447.0ZM1927.9 1506.8L1929.8 1508.6L1931.6 1510.5L1933.5 1512.3L1935.5 1514.1L1940.6 1507.7L1938.7 1506.3L1936.8 1504.8L1935.1 1503.3L1933.5 1501.5ZM1951.3 1522.8L1954.3 1522.8L1957.2 1522.8L1960.0 1522.8L1962.8 1522.8L1965.6 1522.8L1968.5 1522.8L1971.3 1522.8L1974.1 1522.8L1976.9 1522.8L1979.8 1522.8L1982.6 1522.8L1985.4 1522.8L1988.2 1522.8L1991.1 1522.8L1993.9 1522.8L1993.9 1512.3L1991.1 1512.3L1988.2 1512.3L1985.4 1512.3L1982.6 1512.3L1979.8 1512.3L1976.9 1512.3L1974.1 1512.3L1971.3 1512.3L1968.5 1512.3L1965.6 1512.3L1962.8 1512.3L1960.0 1512.3L1957.2 1512.3L1954.3 1512.3L1951.7 1512.4ZM2004.5 1522.8L2007.0 1522.8L2009.5 1522.8L2012.0 1522.8L2014.5 1522.8L2014.5 1512.3L2012.0 1512.3L2009.5 1512.3L2007.0 1512.3L2004.5 1512.3ZM2026.2 1522.8L2029.0 1522.8L2031.9 1522.8L2034.7 1522.8L2037.5 1522.8L2040.3 1522.8L2043.2 1522.8L2046.0 1522.8L2048.8 1522.8L2051.7 1522.8L2054.5 1522.8L2057.3 1522.8L2060.2 1522.8L2063.0 1522.8L2063.0 1512.3L2060.2 1512.3L2057.3 1512.3L2054.5 1512.3L2051.7 1512.3L2048.8 1512.3L2046.0 1512.3L2043.2 1512.3L2040.3 1512.3L2037.5 1512.3L2034.7 1512.3L2031.9 1512.3L2029.0 1512.3L2026.2 1512.3Z" fill="#ff00ff"/>
</g>
<g stroke="#000" fill="none" stroke-linecap="butt">
<line x1="250.25" y1="48.6" x2="2062.70" y2="48.6" stroke-width="5.2"/>
<line x1="252.95" y1="48.6" x2="252.95" y2="1551.7" stroke-width="5.4"/>
<line x1="2060.00" y1="48.6" x2="2060.00" y2="1551.7" stroke-width="5.4"/>
</g>
<rect x="250.25" y="1519" width="1812.45" height="2.5" fill="#000"/>
<g stroke="#000" fill="none" stroke-linecap="butt">
<line x1="224.2" y1="1517.7" x2="252.9" y2="1517.7" stroke-width="6.6"/>
<line x1="237.2" y1="1370.8" x2="252.9" y2="1370.8" stroke-width="6.2"/>
<line x1="224.2" y1="1223.9" x2="252.9" y2="1223.9" stroke-width="6.6"/>
<line x1="237.2" y1="1077.0" x2="252.9" y2="1077.0" stroke-width="6.2"/>
<line x1="224.2" y1="930.1" x2="252.9" y2="930.1" stroke-width="6.6"/>
<line x1="237.2" y1="783.2" x2="252.9" y2="783.2" stroke-width="6.2"/>
<line x1="224.2" y1="636.3" x2="252.9" y2="636.3" stroke-width="6.6"/>
<line x1="237.2" y1="489.4" x2="252.9" y2="489.4" stroke-width="6.2"/>
<line x1="224.2" y1="342.5" x2="252.9" y2="342.5" stroke-width="6.6"/>
<line x1="237.2" y1="195.6" x2="252.9" y2="195.6" stroke-width="6.2"/>
<line x1="224.2" y1="48.6" x2="252.9" y2="48.6" stroke-width="5.2"/>
<line x1="434.3" y1="1517.6" x2="434.3" y2="1537.8" stroke-width="5.2"/>
<line x1="540.3" y1="1517.6" x2="540.3" y2="1537.8" stroke-width="5.2"/>
<line x1="615.6" y1="1517.6" x2="615.6" y2="1537.8" stroke-width="5.2"/>
<line x1="674.0" y1="1517.6" x2="674.0" y2="1537.8" stroke-width="5.2"/>
<line x1="721.7" y1="1517.6" x2="721.7" y2="1537.8" stroke-width="5.2"/>
<line x1="762.0" y1="1517.6" x2="762.0" y2="1537.8" stroke-width="5.2"/>
<line x1="796.9" y1="1517.6" x2="796.9" y2="1537.8" stroke-width="5.2"/>
<line x1="827.7" y1="1517.6" x2="827.7" y2="1537.8" stroke-width="5.2"/>
<line x1="1036.6" y1="1517.6" x2="1036.6" y2="1537.8" stroke-width="5.2"/>
<line x1="1142.7" y1="1517.6" x2="1142.7" y2="1537.8" stroke-width="5.2"/>
<line x1="1218.0" y1="1517.6" x2="1218.0" y2="1537.8" stroke-width="5.2"/>
<line x1="1276.3" y1="1517.6" x2="1276.3" y2="1537.8" stroke-width="5.2"/>
<line x1="1324.0" y1="1517.6" x2="1324.0" y2="1537.8" stroke-width="5.2"/>
<line x1="1364.3" y1="1517.6" x2="1364.3" y2="1537.8" stroke-width="5.2"/>
<line x1="1399.3" y1="1517.6" x2="1399.3" y2="1537.8" stroke-width="5.2"/>
<line x1="1430.1" y1="1517.6" x2="1430.1" y2="1537.8" stroke-width="5.2"/>
<line x1="1639.0" y1="1517.6" x2="1639.0" y2="1537.8" stroke-width="5.2"/>
<line x1="1745.0" y1="1517.6" x2="1745.0" y2="1537.8" stroke-width="5.2"/>
<line x1="1820.3" y1="1517.6" x2="1820.3" y2="1537.8" stroke-width="5.2"/>
<line x1="1878.7" y1="1517.6" x2="1878.7" y2="1537.8" stroke-width="5.2"/>
<line x1="1926.4" y1="1517.6" x2="1926.4" y2="1537.8" stroke-width="5.2"/>
<line x1="1966.7" y1="1517.6" x2="1966.7" y2="1537.8" stroke-width="5.2"/>
<line x1="2001.6" y1="1517.6" x2="2001.6" y2="1537.8" stroke-width="5.2"/>
<line x1="2032.4" y1="1517.6" x2="2032.4" y2="1537.8" stroke-width="5.2"/>
<line x1="855.3" y1="1517.6" x2="855.3" y2="1551.7" stroke-width="5.4"/>
<line x1="1457.7" y1="1517.6" x2="1457.7" y2="1551.7" stroke-width="5.4"/>
</g>
<path d="M261.1 97.4H406" stroke="#808080" stroke-width="11" fill="none" stroke-dasharray="37.9 13.8 10.6 13.8 35.6 13.7 10.6 50"/>
<path d="M261.1 169.8H405" stroke="#000000" stroke-width="11" fill="none"/>
<path d="M261.1 242.3H406" stroke="#00ffff" stroke-width="11" fill="none" stroke-dasharray="37.9 13.8 10.6 13.8 35.6 13.7 10.6 50"/>
<path d="M261.1 313.6H405" stroke="#0000ff" stroke-width="11" fill="none"/>
<path d="M261.1 386.7H406" stroke="#ff00ff" stroke-width="11" fill="none" stroke-dasharray="37.9 13.8 10.6 13.8 35.6 13.7 10.6 50"/>
<path d="M261.1 457.8H405" stroke="#ff0000" stroke-width="11" fill="none"/>
<text class="leg" y="116.2"><tspan x="415.6" textLength="146.4" lengthAdjust="spacingAndGlyphs">Milled</tspan> <tspan x="578.4" textLength="135.9" lengthAdjust="spacingAndGlyphs">S500</tspan> <tspan x="729.0" textLength="83.3" lengthAdjust="spacingAndGlyphs"><tspan font-size="49.22">μ</tspan>m</tspan></text>
<text class="leg" y="188.2"><tspan x="415.6" textLength="146.4" lengthAdjust="spacingAndGlyphs">Milled</tspan> <tspan x="578.4" textLength="135.9" lengthAdjust="spacingAndGlyphs">S500</tspan> <tspan x="729.0" textLength="83.3" lengthAdjust="spacingAndGlyphs"><tspan font-size="49.22">μ</tspan>m</tspan> <tspan x="827.3" textLength="115.4" lengthAdjust="spacingAndGlyphs">after</tspan> <tspan x="956.7" textLength="136.8" lengthAdjust="spacingAndGlyphs">pellet</tspan> <tspan x="1108.3" textLength="243.4" lengthAdjust="spacingAndGlyphs">annealing</tspan></text>
<text class="leg" y="260.2"><tspan x="415.6" textLength="146.4" lengthAdjust="spacingAndGlyphs">Milled</tspan> <tspan x="578.4" textLength="135.9" lengthAdjust="spacingAndGlyphs">S250</tspan> <tspan x="729.0" textLength="83.3" lengthAdjust="spacingAndGlyphs"><tspan font-size="49.22">μ</tspan>m</tspan></text>
<text class="leg" y="332.2"><tspan x="415.6" textLength="146.4" lengthAdjust="spacingAndGlyphs">Milled</tspan> <tspan x="578.4" textLength="135.9" lengthAdjust="spacingAndGlyphs">S250</tspan> <tspan x="729.0" textLength="83.3" lengthAdjust="spacingAndGlyphs"><tspan font-size="49.22">μ</tspan>m</tspan> <tspan x="827.3" textLength="115.4" lengthAdjust="spacingAndGlyphs">after</tspan> <tspan x="957.0" textLength="191.1" lengthAdjust="spacingAndGlyphs">powder</tspan> <tspan x="1162.6" textLength="243.4" lengthAdjust="spacingAndGlyphs">annealing</tspan></text>
<text class="leg" y="404.2"><tspan x="415.6" textLength="146.4" lengthAdjust="spacingAndGlyphs">Milled</tspan> <tspan x="578.4" textLength="103.2" lengthAdjust="spacingAndGlyphs">S80</tspan> <tspan x="696.4" textLength="83.3" lengthAdjust="spacingAndGlyphs"><tspan font-size="49.22">μ</tspan>m</tspan></text>
<text class="leg" y="476.2"><tspan x="415.6" textLength="146.4" lengthAdjust="spacingAndGlyphs">Milled</tspan> <tspan x="578.4" textLength="103.2" lengthAdjust="spacingAndGlyphs">S80</tspan> <tspan x="696.4" textLength="83.3" lengthAdjust="spacingAndGlyphs"><tspan font-size="49.22">μ</tspan>m</tspan> <tspan x="794.7" textLength="115.4" lengthAdjust="spacingAndGlyphs">after</tspan> <tspan x="924.4" textLength="191.1" lengthAdjust="spacingAndGlyphs">powder</tspan> <tspan x="1130.0" textLength="243.4" lengthAdjust="spacingAndGlyphs">annealing</tspan></text>
<text class="tky" x="177.4" y="1531.7" textLength="30.6" lengthAdjust="spacingAndGlyphs">0</text>
<text class="tky" x="147.2" y="1237.6" textLength="60.9" lengthAdjust="spacingAndGlyphs">20</text>
<text class="tky" x="148.7" y="943.5" textLength="59.3" lengthAdjust="spacingAndGlyphs">40</text>
<text class="tky" x="147.1" y="649.5" textLength="60.9" lengthAdjust="spacingAndGlyphs">60</text>
<text class="tky" x="147.5" y="355.4" textLength="60.5" lengthAdjust="spacingAndGlyphs">80</text>
<text class="tky" x="122.8" y="61.3" textLength="85.0" lengthAdjust="spacingAndGlyphs">100</text>
<text class="tkx" x="232.0" y="1614.0" textLength="29.4" lengthAdjust="spacingAndGlyphs">1</text>
<text class="tkx" x="827.0" y="1614.0" textLength="58.9" lengthAdjust="spacingAndGlyphs">10</text>
<text class="tkx" x="1414.0" y="1614.0" textLength="88.3" lengthAdjust="spacingAndGlyphs">100</text>
<text class="tkx" x="2001.1" y="1614.0" textLength="117.7" lengthAdjust="spacingAndGlyphs">1000</text>
<text class="ttl" y="1727.8"><tspan x="837.8" textLength="225.0" lengthAdjust="spacingAndGlyphs">Particle</tspan> <tspan x="1076.7" textLength="260.3" lengthAdjust="spacingAndGlyphs">diameter</tspan> <tspan x="1353.1" textLength="137.5" lengthAdjust="spacingAndGlyphs">(<tspan font-size="59.64">μ</tspan>m)</tspan></text>
<text class="ttl" transform="translate(70.3 1129.4) rotate(-90)" textLength="595.6" lengthAdjust="spacingAndGlyphs">Probability density</text>
</svg>
</body>
</html>
